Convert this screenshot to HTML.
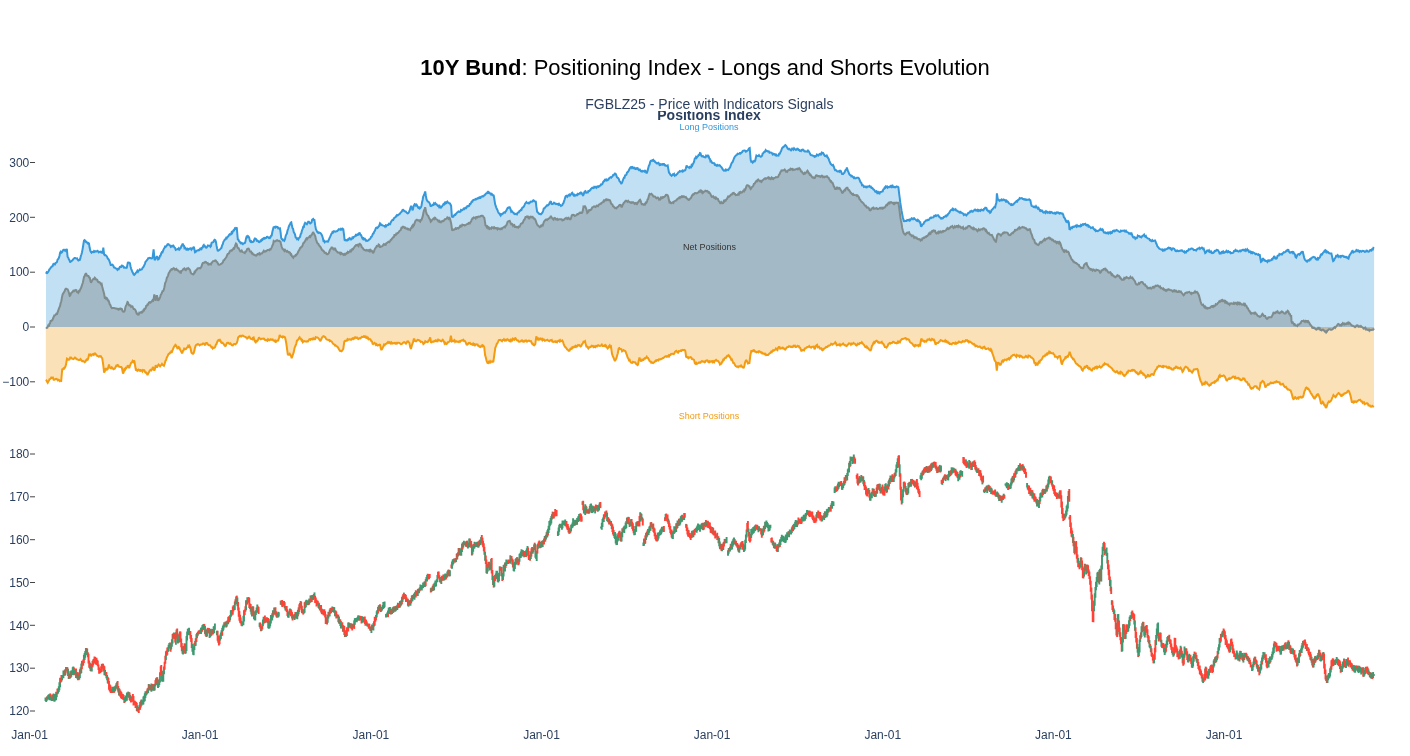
<!DOCTYPE html>
<html><head><meta charset="utf-8"><title>10Y Bund Positioning Index</title>
<style>
html,body{margin:0;padding:0;background:#fff}
body{width:1410px;height:756px;overflow:hidden;font-family:"Liberation Sans",Arial,sans-serif}
svg{display:block}
text{font-family:"Liberation Sans",Arial,sans-serif}
</style></head><body>
<svg width="1410" height="756" viewBox="0 0 1410 756">
<rect width="1410" height="756" fill="#fff"/>
<g id="areas">
<path d="M46.0,273.7L46.7,272.3L47.4,272.8L48.1,271.9L48.8,270.7L49.4,269.3L50.1,268.8L50.7,267.8L51.3,266.9L51.9,266.5L52.6,266.2L53.2,264.3L53.8,264.4L54.4,263.1L55.1,264.1L55.7,262.9L56.3,262.6L57.0,262.0L57.6,259.5L58.2,259.1L58.8,258.1L59.5,255.7L60.1,252.6L60.7,251.7L61.4,252.6L62.0,252.2L62.6,251.1L63.2,250.0L63.9,249.7L64.5,250.4L65.1,250.1L65.7,250.7L66.3,249.5L66.9,249.6L67.6,256.9L68.3,257.7L68.9,259.5L69.5,260.2L70.2,262.4L70.8,261.3L71.4,261.1L72.0,260.7L72.7,260.1L73.3,259.1L73.9,258.6L74.6,258.1L75.2,258.1L75.8,258.4L76.4,258.5L77.1,258.4L77.7,259.6L78.4,260.4L79.0,260.1L79.7,260.1L80.3,258.4L80.9,255.7L81.5,254.3L82.0,252.3L82.6,249.1L83.2,245.5L84.0,240.5L84.6,240.1L85.2,240.8L85.9,241.9L86.5,241.8L87.1,242.6L87.7,243.4L88.4,243.0L89.0,243.5L89.6,247.6L90.3,250.6L90.9,251.9L91.5,252.6L92.1,251.8L92.8,252.0L93.4,252.1L94.0,251.1L94.7,251.8L95.3,251.3L95.9,251.6L96.5,251.6L97.3,250.8L98.0,251.3L98.8,252.4L99.6,251.8L100.3,252.1L100.9,251.6L101.6,252.4L102.2,252.8L102.8,252.6L103.3,247.6L104.1,254.3L104.7,255.1L105.3,255.0L106.0,255.5L106.6,256.1L107.2,257.1L107.8,258.6L108.5,259.2L109.1,260.1L109.7,261.8L110.3,263.8L110.9,265.6L111.5,264.6L112.2,264.5L112.9,265.1L113.5,266.3L114.1,267.5L114.8,267.6L115.4,268.2L116.1,268.5L116.7,268.6L117.4,269.7L118.0,269.0L118.7,269.2L119.3,268.1L119.9,266.9L120.5,266.7L121.2,266.9L121.8,265.5L122.4,265.6L123.1,266.2L123.7,267.5L124.3,267.3L124.9,267.7L125.5,267.8L126.1,267.6L126.7,268.2L127.3,265.1L128.0,261.9L128.6,263.3L129.3,262.2L130.0,263.6L130.5,266.3L131.1,268.6L131.7,270.2L132.4,272.1L133.0,273.0L133.6,274.3L134.2,274.9L134.9,274.2L135.5,273.5L136.1,272.5L136.7,271.9L137.4,270.7L138.0,271.7L138.6,270.7L139.3,270.2L139.9,269.4L140.5,269.8L141.1,269.6L141.8,269.4L142.4,268.3L142.9,267.5L143.5,266.9L144.2,265.3L144.9,263.8L145.5,261.9L146.2,261.2L146.9,260.1L147.6,259.4L148.2,258.2L148.8,258.2L149.4,257.8L150.1,258.1L150.7,258.1L151.3,258.5L152.0,258.3L152.6,257.6L153.6,249.3L154.6,260.1L155.3,259.3L156.1,258.0L156.9,256.1L157.5,257.3L158.1,259.4L158.7,259.0L159.4,257.8L160.0,255.8L160.6,255.6L161.2,253.5L161.9,252.2L162.5,252.3L163.1,250.6L163.8,248.9L164.4,248.1L165.0,246.7L165.6,247.0L166.3,245.9L166.9,245.5L167.5,244.3L168.1,244.1L168.7,244.3L169.3,245.2L170.0,245.4L170.7,246.8L171.3,246.1L171.9,246.6L172.6,245.8L173.2,245.5L173.8,246.3L174.4,247.6L175.1,247.9L175.7,249.8L176.3,249.5L177.0,249.4L177.6,248.9L178.2,249.3L178.8,248.3L179.5,249.4L180.1,248.4L180.7,248.1L181.4,246.0L182.1,245.2L182.7,243.5L183.3,245.6L183.9,245.7L184.5,248.1L185.1,247.6L185.8,248.3L186.4,249.8L187.0,249.8L187.6,248.9L188.3,249.6L188.9,249.2L189.5,248.6L190.1,248.7L190.8,248.2L191.4,249.6L192.0,248.8L192.6,248.7L193.2,247.5L193.8,246.8L194.4,249.1L195.0,252.3L195.7,252.0L196.4,251.0L197.1,250.6L197.7,250.6L198.3,250.0L198.9,250.4L199.6,250.1L200.2,248.6L200.8,248.4L201.5,249.0L202.1,247.6L202.7,247.4L203.3,245.5L203.8,245.0L204.5,246.5L205.2,246.4L205.9,247.6L206.5,247.7L207.2,246.7L207.9,245.5L208.5,245.7L209.1,245.7L209.7,245.6L210.4,246.8L211.0,246.1L211.5,243.1L212.1,242.5L212.8,242.4L213.4,242.0L214.0,240.6L214.6,239.8L215.3,240.2L215.9,241.8L216.5,245.4L217.1,248.5L217.7,250.6L218.3,250.7L219.0,250.1L219.7,249.8L220.3,249.0L220.8,248.4L221.4,248.1L222.1,245.4L222.8,244.2L223.4,241.8L224.1,240.8L224.8,239.5L225.5,239.3L226.1,237.9L226.7,238.3L227.3,237.0L228.0,236.7L228.6,235.9L229.1,234.8L229.7,234.2L230.4,234.6L231.0,234.3L231.6,232.4L232.2,233.0L232.9,231.3L233.5,230.4L234.1,230.5L234.8,228.5L235.4,228.8L236.1,227.8L236.8,228.0L237.8,239.3L238.4,239.6L239.1,241.3L239.8,241.8L240.4,242.8L241.0,243.4L241.7,242.8L242.3,243.5L242.9,244.1L243.5,243.6L244.2,243.1L244.8,243.0L245.4,241.8L246.0,238.4L246.6,236.7L247.2,237.2L247.9,236.0L248.6,236.7L249.2,237.8L249.9,240.8L250.6,241.8L251.2,241.3L251.8,242.2L252.5,242.0L253.1,241.8L253.7,241.3L254.3,239.4L254.9,238.5L255.5,238.7L256.1,239.1L256.7,240.7L257.4,240.5L258.0,241.0L258.6,242.0L259.3,242.2L259.9,241.8L260.5,240.7L261.1,241.0L261.8,239.7L262.4,240.0L263.0,238.7L263.7,238.2L264.3,239.2L264.9,238.0L265.5,238.2L266.2,238.0L266.8,236.8L267.4,236.7L268.0,237.3L268.7,237.9L269.3,237.5L269.9,238.0L270.5,237.3L271.1,235.8L271.7,235.5L272.4,231.8L273.0,229.2L273.7,226.7L274.3,227.4L275.0,226.8L275.6,227.5L276.2,226.7L276.8,226.9L277.5,226.9L278.1,228.2L278.7,228.0L279.4,228.8L280.0,228.5L280.6,232.4L281.2,238.0L281.9,239.3L282.6,239.3L283.3,241.0L283.8,239.7L284.4,240.5L285.0,239.3L285.6,236.2L286.3,234.4L286.9,233.5L287.5,230.5L288.2,228.8L288.8,226.6L289.4,225.2L290.0,224.2L290.7,222.8L291.3,222.4L291.9,225.6L292.5,228.0L293.1,228.9L293.7,232.0L294.3,233.0L295.0,234.4L295.6,237.2L296.3,238.0L297.0,239.2L297.7,238.5L298.3,239.3L298.9,238.0L299.5,237.5L300.1,236.7L300.7,234.1L301.3,233.3L302.0,230.3L302.6,229.2L303.2,226.8L303.9,226.9L304.5,224.1L305.1,222.9L305.7,223.5L306.3,223.7L306.9,224.2L307.5,223.0L308.2,221.7L308.9,221.7L309.6,222.8L310.2,223.4L310.9,222.9L311.5,222.5L312.1,219.7L312.7,219.2L313.2,218.9L313.8,219.9L314.4,219.9L315.2,225.4L315.9,229.2L316.5,230.4L317.1,231.7L317.7,232.5L318.3,232.9L318.9,232.3L319.6,232.9L320.2,233.0L320.8,233.5L321.4,234.2L322.0,235.5L322.7,237.5L323.5,241.0L324.1,240.8L324.7,242.1L325.3,241.3L326.0,241.5L326.6,241.5L327.2,241.3L327.9,241.6L328.5,240.5L329.1,239.1L329.7,237.7L330.2,236.7L330.9,235.1L331.5,233.7L332.1,233.2L332.8,231.2L333.4,232.1L334.0,231.1L334.6,231.3L335.3,231.7L335.9,231.5L336.5,231.2L337.2,231.0L337.8,230.5L338.4,229.8L339.0,229.2L339.7,229.4L340.3,229.7L341.0,228.8L341.8,229.6L342.6,228.6L343.3,229.2L343.9,233.8L344.6,240.0L345.2,240.4L345.9,240.0L346.6,240.5L347.2,240.5L347.8,239.5L348.5,239.7L349.1,238.5L349.7,238.1L350.3,238.9L351.0,239.6L351.6,239.3L352.2,237.9L352.9,238.8L353.5,236.8L354.1,236.7L354.8,236.4L355.5,235.9L356.1,234.2L356.7,235.2L357.3,234.7L357.9,235.5L358.5,233.8L359.1,233.5L359.6,232.5L360.3,234.7L361.0,235.0L361.7,236.7L362.3,238.1L362.9,237.4L363.5,239.4L364.2,239.3L364.8,238.7L365.4,239.6L366.1,240.9L366.7,240.5L367.3,240.8L367.9,240.6L368.6,240.2L369.2,239.3L369.8,239.1L370.5,238.3L371.1,236.8L371.7,236.7L372.3,235.4L373.0,233.6L373.6,233.4L374.2,231.7L374.8,231.0L375.5,229.1L376.1,227.7L376.7,227.5L377.4,227.9L378.0,227.3L378.6,226.4L379.2,225.9L380.0,223.4L380.6,224.0L381.3,225.1L381.9,224.9L382.5,225.4L383.1,225.6L383.8,225.8L384.4,225.9L385.0,226.7L385.7,225.4L386.3,226.1L386.9,225.2L387.5,224.9L388.2,224.9L388.8,223.8L389.4,224.1L390.1,224.2L390.7,222.5L391.3,221.4L391.9,220.5L392.6,219.9L393.2,219.9L393.8,218.5L394.4,217.8L395.1,217.4L395.7,217.1L396.3,215.9L397.0,215.0L397.6,215.4L398.2,214.9L398.8,214.4L399.5,214.1L400.1,213.4L400.7,212.4L401.4,212.0L402.0,211.2L402.6,209.9L403.2,209.8L403.9,210.7L404.5,211.1L405.1,211.6L405.8,211.6L406.4,212.3L407.0,213.0L407.6,213.4L408.3,213.1L409.0,212.1L409.7,210.4L410.4,207.7L411.2,205.8L411.9,208.4L412.7,210.4L413.3,207.5L414.0,205.4L414.7,204.1L415.3,204.5L415.9,205.6L416.6,204.8L417.2,205.8L417.8,206.9L418.4,207.8L419.1,207.4L419.7,208.4L420.3,207.9L420.9,207.3L421.5,205.8L422.0,202.5L422.6,200.0L423.2,196.5L423.9,195.3L424.6,193.4L425.2,191.5L425.9,195.9L426.5,199.1L427.1,200.6L427.7,201.5L428.4,201.6L429.0,202.3L429.6,203.2L430.2,204.7L430.8,206.6L431.4,205.5L432.1,205.5L432.8,204.8L433.4,204.9L434.0,203.3L434.7,204.0L435.3,203.3L435.9,204.3L436.5,204.3L437.2,205.2L437.8,205.8L438.4,205.6L439.1,207.0L439.7,206.1L440.3,207.3L440.9,207.7L441.6,206.9L442.2,206.1L442.8,205.3L443.5,204.1L444.2,204.4L444.8,202.8L445.5,203.3L446.1,201.5L446.7,202.4L447.3,201.6L448.0,202.6L448.6,202.7L449.2,203.2L449.9,203.3L450.5,204.5L451.1,205.8L451.9,216.6L452.6,217.0L453.4,216.7L454.1,215.4L454.8,214.7L455.4,214.9L456.0,213.8L456.6,213.4L457.3,212.3L457.9,212.2L458.5,211.4L459.2,211.6L459.8,212.0L460.4,211.8L461.0,210.0L461.7,210.4L462.3,210.2L462.9,209.6L463.6,208.7L464.2,209.1L464.8,208.3L465.4,207.8L466.1,208.2L466.7,207.3L467.3,206.1L468.0,206.0L468.6,206.1L469.2,205.8L469.8,203.9L470.5,203.9L471.1,202.8L471.7,201.6L472.4,201.7L473.0,200.2L473.6,199.9L474.2,199.8L474.9,199.7L475.5,199.0L476.1,199.4L476.7,199.1L477.4,198.2L478.0,198.5L478.6,198.3L479.3,197.3L479.9,197.7L480.5,197.8L481.1,196.8L481.8,196.5L482.4,196.2L483.0,196.6L483.7,196.1L484.3,195.3L484.9,194.9L485.5,194.1L486.2,193.4L486.8,193.3L487.4,192.4L488.1,193.6L488.7,192.2L489.3,192.8L489.9,193.5L490.6,193.5L491.2,194.6L491.8,194.0L492.4,194.7L493.0,195.4L493.6,194.8L494.3,198.8L495.1,204.1L495.7,205.8L496.3,207.6L496.9,209.1L497.4,210.0L498.0,211.6L498.6,212.9L499.3,213.5L500.0,214.6L500.6,215.4L501.2,214.0L501.9,214.3L502.5,213.8L503.1,213.4L503.8,212.6L504.4,212.3L505.0,212.6L505.6,211.6L506.3,210.7L507.0,209.1L507.7,207.8L508.3,207.9L509.0,207.3L509.7,207.3L510.4,208.9L511.2,211.6L511.8,211.0L512.4,211.8L513.1,212.7L513.7,212.9L514.3,213.9L514.9,214.1L515.6,213.8L516.2,214.1L516.9,214.4L517.5,212.9L518.2,212.4L518.8,212.3L519.5,211.0L520.1,210.9L520.7,209.9L521.4,210.1L522.0,208.3L522.6,207.4L523.2,207.3L523.9,206.4L524.5,205.1L525.1,203.7L525.8,202.8L526.4,202.1L527.0,202.9L527.6,203.1L528.3,203.3L528.9,202.7L529.5,203.1L530.1,202.2L530.8,201.6L531.4,201.7L532.0,201.7L532.7,201.1L533.3,200.3L533.9,200.6L534.5,201.4L535.2,201.5L535.8,201.6L536.4,206.9L537.1,211.6L537.7,212.5L538.3,212.7L538.9,213.7L539.6,214.1L540.2,214.1L540.8,214.3L541.5,213.7L542.1,212.9L542.7,212.0L543.3,210.3L543.8,208.4L544.5,208.3L545.2,207.4L545.9,206.6L546.5,205.9L547.1,205.3L547.7,205.6L548.4,204.8L549.0,204.4L549.7,202.7L550.4,201.6L551.0,201.8L551.5,203.8L552.1,204.1L552.8,203.9L553.4,203.6L554.0,202.7L554.6,203.3L555.3,203.5L555.9,204.1L556.5,203.8L557.2,204.1L557.8,204.0L558.4,204.7L559.0,203.8L559.7,204.8L560.3,205.0L560.9,205.9L561.6,205.6L562.2,205.3L562.8,203.9L563.4,203.2L563.9,201.6L564.7,199.2L565.5,196.5L566.1,195.8L566.7,195.6L567.3,196.7L568.0,195.8L568.6,195.1L569.2,194.5L569.9,195.6L570.5,194.8L571.1,194.2L571.7,193.2L572.2,192.8L572.8,193.8L573.4,195.2L574.0,195.8L574.6,194.9L575.3,195.6L575.9,195.4L576.5,194.8L577.1,195.2L577.8,194.0L578.4,194.4L579.0,194.0L579.7,193.2L580.3,193.5L580.9,192.5L581.5,192.8L582.3,194.5L583.0,195.3L583.6,194.7L584.2,192.5L584.8,191.5L585.4,191.2L586.1,192.7L586.7,192.5L587.3,192.3L587.9,192.4L588.6,190.4L589.2,191.5L589.8,190.3L590.5,189.9L591.1,188.7L591.7,188.3L592.3,187.7L593.0,188.1L593.6,188.0L594.2,186.8L594.9,187.2L595.5,187.3L596.1,186.3L596.7,187.5L597.4,186.5L598.0,186.2L598.6,186.9L599.3,186.3L599.9,185.7L600.5,185.5L601.1,184.4L601.8,184.5L602.4,184.0L603.0,182.3L603.7,181.2L604.3,181.2L604.9,179.7L605.5,179.6L606.2,180.4L606.8,179.6L607.4,180.2L608.0,179.9L608.6,179.3L609.2,178.2L609.8,177.7L610.5,177.2L611.2,177.7L611.8,176.9L612.4,176.4L613.1,175.1L613.7,175.2L614.4,174.2L615.0,173.5L615.7,173.9L616.3,175.4L616.9,177.1L617.5,177.7L618.1,178.1L618.7,178.7L619.4,180.9L620.0,181.5L620.6,182.6L621.2,183.5L621.7,183.2L622.5,181.3L623.3,179.0L623.9,177.7L624.5,177.7L625.1,175.4L625.8,175.2L626.4,174.6L627.0,172.6L627.6,172.2L628.3,171.4L628.9,170.3L629.5,169.0L630.0,168.1L630.7,167.3L631.3,167.2L631.9,168.0L632.5,167.1L633.2,167.5L633.8,168.2L634.4,167.9L635.1,168.9L635.7,169.1L636.3,168.2L636.9,168.5L637.6,168.1L638.2,169.4L638.8,170.0L639.5,168.8L640.1,170.2L640.7,171.0L641.3,171.4L642.0,170.8L642.6,171.4L643.2,171.0L643.9,171.2L644.5,171.6L645.1,170.7L645.7,171.1L646.3,172.7L646.9,172.7L647.6,170.6L648.4,167.6L649.0,165.2L649.6,164.7L650.1,162.1L650.8,160.7L651.4,160.5L652.0,160.9L652.7,160.1L653.3,159.8L653.9,160.9L654.5,160.9L655.2,162.1L655.8,162.3L656.4,163.2L657.1,163.6L657.7,163.1L658.3,162.8L658.9,163.3L659.6,165.2L660.2,165.1L660.8,164.2L661.4,164.5L662.1,164.1L662.7,164.6L663.3,164.0L664.0,164.0L664.6,165.3L665.2,165.1L665.8,165.7L666.5,165.7L667.1,166.1L667.7,165.6L668.4,169.4L669.0,172.7L669.7,173.3L670.3,174.6L671.0,175.2L671.6,175.9L672.3,175.2L672.9,174.3L673.5,174.7L674.1,174.0L674.8,175.7L675.4,175.2L676.0,175.2L676.7,174.2L677.3,173.9L677.9,173.0L678.5,172.2L679.2,172.0L679.8,171.0L680.4,171.3L681.0,171.4L681.7,171.1L682.3,170.5L682.9,171.5L683.6,170.7L684.1,170.4L684.7,170.6L685.3,170.2L685.9,168.3L686.6,165.6L687.2,166.6L687.9,167.0L688.6,167.1L689.2,167.8L689.8,167.0L690.3,167.6L691.0,167.6L691.6,165.1L692.2,165.6L692.9,163.9L693.5,163.1L694.1,161.6L694.7,158.7L695.4,158.1L696.0,156.9L696.6,157.8L697.3,156.7L697.9,156.3L698.6,155.0L699.2,155.0L699.9,153.1L700.5,153.3L701.1,155.3L701.7,156.3L702.3,156.4L702.9,156.0L703.5,156.7L704.2,157.1L704.8,157.3L705.4,157.4L706.1,155.7L706.7,156.3L707.4,156.4L708.0,155.6L708.7,156.3L709.3,158.6L709.9,158.9L710.5,161.4L711.1,161.0L711.7,162.0L712.3,163.1L713.0,163.1L713.6,163.2L714.2,163.2L714.8,164.8L715.5,164.6L716.1,165.4L716.7,165.8L717.4,165.0L718.0,165.6L718.7,165.5L719.3,165.2L720.0,165.6L720.6,166.6L721.3,167.0L721.9,167.8L722.5,168.9L723.1,169.8L723.8,170.6L724.4,170.4L725.0,170.7L725.7,169.7L726.3,170.4L726.9,169.8L727.5,169.7L728.2,170.0L728.9,169.0L729.5,168.1L730.1,167.3L730.7,165.7L731.3,163.9L731.9,162.7L732.6,162.1L733.2,160.7L733.8,158.8L734.4,157.5L735.1,156.3L735.7,155.8L736.3,155.1L737.0,154.8L737.6,153.7L738.2,153.9L738.8,153.8L739.5,153.6L740.1,152.4L740.7,153.4L741.4,152.6L742.0,152.3L742.6,151.2L743.2,150.7L743.9,150.6L744.5,150.5L745.1,150.6L745.8,151.6L746.4,151.3L747.0,150.9L747.6,150.5L748.1,150.1L748.9,148.4L749.7,148.0L750.7,160.1L751.3,161.7L752.0,161.5L752.7,162.6L753.3,161.9L754.0,161.0L754.7,161.4L755.3,160.3L755.9,157.5L756.4,155.6L757.1,156.2L757.7,156.1L758.3,156.0L759.0,155.1L759.6,156.0L760.2,156.5L760.8,156.8L761.5,156.3L762.1,155.8L762.7,153.5L763.3,153.2L764.0,152.1L764.6,151.5L765.1,151.6L765.7,150.1L766.4,150.9L767.0,151.0L767.6,151.4L768.2,151.3L768.9,151.4L769.5,152.7L770.1,152.5L770.8,152.6L771.4,152.7L772.0,153.1L772.6,154.4L773.3,153.8L773.9,154.3L774.6,154.1L775.3,155.1L775.9,154.6L776.5,155.7L777.2,155.6L777.8,155.6L778.5,155.7L779.1,153.8L779.8,153.8L780.4,152.2L781.0,151.4L781.6,149.5L782.2,147.9L782.8,147.2L783.5,147.2L784.1,146.3L784.7,145.6L785.3,145.1L785.8,145.5L786.5,146.2L787.2,147.9L787.8,148.8L788.5,149.2L789.1,148.7L789.7,149.0L790.4,150.1L791.0,150.4L791.6,149.7L792.2,148.5L792.9,148.8L793.5,149.6L794.1,148.3L794.8,149.1L795.4,149.5L796.0,150.0L796.6,149.6L797.3,148.6L797.9,148.8L798.5,149.9L799.2,149.9L799.8,150.8L800.4,150.6L801.0,151.0L801.7,149.9L802.3,150.1L802.9,149.5L803.6,150.1L804.2,151.2L804.8,151.4L805.4,151.3L806.1,151.5L806.7,151.5L807.3,151.6L808.0,150.6L808.6,151.2L809.3,152.2L810.0,153.8L810.6,154.7L811.2,155.2L811.8,155.2L812.5,155.6L813.1,155.7L813.7,155.8L814.4,156.8L815.0,156.3L815.6,156.6L816.2,155.9L816.9,154.6L817.5,155.1L818.1,155.6L818.8,154.8L819.4,154.1L820.0,154.6L820.6,153.8L821.3,154.2L821.9,152.6L822.5,153.1L823.1,153.1L823.7,154.1L824.3,155.1L824.9,155.9L825.5,155.8L826.2,156.3L826.8,155.6L827.4,156.7L828.0,157.9L828.6,158.8L829.2,160.6L829.9,162.2L830.6,163.9L831.2,164.3L831.8,165.1L832.5,165.6L833.1,165.1L833.8,166.6L834.4,168.7L835.1,170.2L835.7,170.1L836.3,170.4L837.0,171.1L837.6,171.4L838.2,171.4L838.9,171.1L839.5,171.7L840.1,170.7L840.7,170.9L841.4,172.5L842.0,174.0L842.6,173.9L843.2,173.9L843.8,173.2L844.4,172.7L845.0,171.2L845.6,170.0L846.3,169.7L846.9,167.6L847.5,170.0L848.1,171.3L848.7,172.7L849.3,174.2L850.0,175.1L850.7,175.2L851.3,176.3L851.9,176.0L852.6,176.6L853.2,177.2L853.8,178.0L854.4,177.5L855.1,178.4L855.7,178.2L856.3,178.0L857.0,177.7L857.6,177.7L858.2,177.7L858.9,178.3L859.6,179.9L860.2,181.5L860.8,182.6L861.4,183.1L862.0,185.2L862.6,185.0L863.2,185.4L863.9,186.8L864.5,186.5L865.1,186.8L865.8,186.5L866.4,188.0L867.0,187.2L867.6,186.5L868.3,186.6L868.9,186.7L869.5,186.0L870.1,186.8L870.8,186.7L871.4,187.8L872.0,187.7L872.7,188.3L873.3,189.4L873.9,189.6L874.5,190.3L875.2,191.7L875.8,191.9L876.4,191.4L877.1,192.8L877.7,192.2L878.3,193.9L878.9,192.7L879.6,193.3L880.2,192.0L880.8,192.0L881.5,191.9L882.1,191.5L882.7,191.4L883.3,189.4L884.0,189.1L884.6,187.7L885.2,188.0L885.9,186.4L886.5,187.0L887.1,186.5L887.7,187.6L888.4,187.0L889.0,187.1L889.6,187.2L890.2,186.3L890.8,186.7L891.4,185.2L892.1,186.7L892.7,185.9L893.4,187.2L894.0,187.3L894.6,187.0L895.3,187.4L895.9,187.0L896.5,186.4L897.2,186.7L897.8,186.8L898.4,187.2L899.0,192.5L899.7,197.8L900.3,202.7L900.9,206.6L901.6,211.0L902.2,214.1L902.8,217.2L903.4,219.5L903.9,221.7L904.6,220.7L905.3,221.0L906.0,220.9L906.6,221.0L907.2,220.0L907.8,220.2L908.5,219.9L909.1,220.5L909.7,218.8L910.4,220.0L911.0,219.2L911.6,218.3L912.2,218.6L912.9,219.3L913.5,218.4L914.1,218.2L914.8,219.2L915.4,219.4L916.0,219.9L916.6,220.7L917.3,221.0L917.9,219.9L918.5,220.4L919.1,221.1L919.7,222.5L920.3,222.4L921.0,226.7L921.7,225.9L922.4,224.5L923.0,224.2L923.6,223.8L924.2,222.2L924.8,221.7L925.4,221.2L926.1,219.9L926.7,221.2L927.3,219.9L927.9,219.8L928.6,219.9L929.2,219.6L929.8,218.4L930.5,217.7L931.1,218.0L931.7,217.5L932.3,217.4L933.0,217.5L933.6,217.3L934.2,215.8L934.9,215.9L935.5,215.4L936.1,216.0L936.7,215.4L937.4,215.4L938.0,215.2L938.6,215.8L939.3,217.0L939.9,217.4L940.5,217.8L941.1,218.7L941.8,218.2L942.4,218.4L943.0,218.2L943.7,216.9L944.3,216.9L944.9,216.6L945.5,215.9L946.2,216.4L946.8,215.3L947.4,215.4L948.0,214.0L948.6,213.5L949.2,212.9L949.8,211.8L950.5,210.6L951.2,209.9L951.8,209.9L952.4,208.9L953.1,210.0L953.7,209.1L954.3,209.8L955.0,209.8L955.6,209.3L956.2,210.4L956.8,210.4L957.5,211.3L958.1,211.6L958.7,211.6L959.4,212.4L960.0,212.7L960.6,211.9L961.2,212.4L961.9,213.0L962.5,213.3L963.1,213.6L963.8,214.9L964.4,214.4L965.0,214.7L965.6,214.5L966.3,215.4L966.9,214.6L967.6,214.1L968.3,212.9L968.9,212.7L969.5,212.6L970.2,211.4L970.8,211.6L971.4,210.9L972.0,211.4L972.7,211.7L973.3,210.9L973.9,210.6L974.6,209.7L975.2,209.6L975.8,210.4L976.4,210.1L977.1,210.8L977.7,210.0L978.3,210.9L979.0,210.1L979.6,210.7L980.2,211.0L980.8,209.9L981.5,209.7L982.1,210.3L982.7,210.3L983.4,210.4L984.0,208.9L984.6,208.8L985.2,207.8L985.9,207.8L986.5,208.2L987.0,210.0L987.6,210.4L988.3,211.3L988.9,210.8L989.5,211.5L990.1,212.9L990.8,212.3L991.4,210.3L992.0,209.7L992.7,209.1L993.3,208.3L993.9,207.4L994.5,206.9L995.2,207.3L995.8,204.4L996.4,202.8L996.9,193.3L997.9,199.8L998.7,199.8L999.4,200.9L1000.2,200.3L1000.8,200.4L1001.4,199.6L1002.1,200.3L1002.7,199.8L1003.3,199.5L1004.0,200.1L1004.6,199.9L1005.2,200.3L1005.8,201.4L1006.5,200.7L1007.1,201.8L1007.7,201.6L1008.4,202.4L1009.0,203.4L1009.6,203.6L1010.2,204.1L1010.9,204.9L1011.5,204.3L1012.1,205.0L1012.8,204.8L1013.4,204.4L1014.0,203.6L1014.6,203.1L1015.3,202.3L1015.9,201.9L1016.5,201.1L1017.2,201.5L1017.8,200.3L1018.4,200.0L1019.0,199.4L1019.7,198.0L1020.3,198.3L1020.9,198.5L1021.6,198.1L1022.2,198.4L1022.8,199.1L1023.4,199.1L1024.1,199.5L1024.7,199.2L1025.3,199.8L1025.9,199.4L1026.6,199.9L1027.2,199.8L1027.8,199.8L1028.5,199.8L1029.1,199.3L1029.7,200.0L1030.3,200.3L1031.0,203.4L1031.6,205.8L1032.2,206.1L1032.9,206.3L1033.5,207.0L1034.1,206.6L1034.7,207.2L1035.4,207.3L1036.0,206.3L1036.6,207.3L1037.3,207.4L1037.9,208.6L1038.5,208.0L1039.1,209.1L1039.8,210.3L1040.4,209.3L1041.0,211.1L1041.7,210.9L1042.3,210.7L1042.9,212.2L1043.5,212.6L1044.2,212.4L1044.8,211.9L1045.4,212.7L1046.1,211.2L1046.7,211.6L1047.3,212.6L1047.9,212.0L1048.6,212.5L1049.2,212.9L1049.8,212.0L1050.5,212.7L1051.1,211.9L1051.7,212.1L1052.3,212.7L1053.0,213.3L1053.6,213.3L1054.2,213.4L1054.8,212.2L1055.5,213.7L1056.1,213.4L1056.7,212.4L1057.4,212.7L1058.0,212.4L1058.7,212.8L1059.3,213.5L1060.0,212.9L1060.6,212.9L1061.3,213.6L1061.9,213.4L1062.5,213.4L1063.2,214.7L1063.9,217.2L1064.5,217.9L1065.1,219.0L1065.7,220.6L1066.3,221.7L1066.9,221.1L1067.5,222.0L1068.2,221.4L1068.8,222.4L1069.5,229.2L1070.2,229.3L1070.8,227.7L1071.4,227.4L1072.1,228.0L1072.7,226.9L1073.3,226.7L1073.9,227.0L1074.6,226.7L1075.2,226.1L1075.8,225.7L1076.5,226.6L1077.1,225.4L1077.7,226.3L1078.3,226.0L1079.0,226.4L1079.6,225.9L1080.2,226.3L1080.9,225.0L1081.5,225.7L1082.1,224.9L1082.7,224.3L1083.4,224.7L1084.0,224.1L1084.6,224.2L1085.3,223.8L1085.9,225.1L1086.5,225.5L1087.1,224.9L1087.8,225.0L1088.4,226.5L1089.0,226.0L1089.7,226.7L1090.3,227.2L1090.9,228.0L1091.5,227.8L1092.2,227.5L1092.8,227.3L1093.4,228.6L1094.1,229.1L1094.7,230.0L1095.3,229.8L1095.9,231.0L1096.6,230.6L1097.2,231.0L1097.8,231.1L1098.4,230.7L1099.1,230.2L1099.7,230.0L1100.3,229.0L1101.0,229.9L1101.6,230.1L1102.2,229.2L1102.8,229.7L1103.4,231.6L1104.0,232.5L1104.6,232.6L1105.2,232.4L1105.9,233.2L1106.5,233.0L1107.1,233.7L1107.7,231.9L1108.4,233.3L1109.0,232.5L1109.6,232.4L1110.3,233.3L1110.9,232.3L1111.5,233.0L1112.1,232.7L1112.8,231.0L1113.4,230.8L1114.0,230.5L1114.7,231.2L1115.3,230.5L1115.9,230.6L1116.5,230.0L1117.2,230.3L1117.8,230.8L1118.4,231.3L1119.1,231.7L1119.7,232.0L1120.3,231.7L1120.9,230.6L1121.6,231.0L1122.2,230.7L1122.8,230.8L1123.5,230.7L1124.1,230.5L1124.7,231.5L1125.3,231.7L1126.0,230.8L1126.6,231.7L1127.2,232.1L1127.8,232.3L1128.5,232.8L1129.1,234.2L1129.7,233.3L1130.4,233.3L1131.0,234.1L1131.6,233.5L1132.2,235.1L1132.8,236.7L1133.4,237.5L1134.0,237.2L1134.6,237.1L1135.3,238.7L1135.9,238.0L1136.5,238.1L1137.1,237.8L1137.8,235.6L1138.4,236.0L1139.0,236.0L1139.7,236.6L1140.3,237.0L1140.9,236.7L1141.5,237.2L1142.2,236.2L1142.8,235.6L1143.4,235.5L1144.1,234.7L1144.7,236.3L1145.3,236.7L1145.9,236.0L1146.6,237.6L1147.3,238.0L1148.0,238.5L1148.6,238.6L1149.2,238.8L1149.8,240.1L1150.5,240.0L1151.1,241.0L1151.7,241.3L1152.4,240.2L1153.0,241.0L1153.6,241.0L1154.3,240.7L1155.0,240.5L1155.6,241.6L1156.2,243.6L1156.7,244.3L1157.3,246.2L1157.9,246.9L1158.5,247.6L1159.1,248.4L1159.8,248.8L1160.4,249.1L1161.0,249.3L1161.6,249.7L1162.3,249.5L1162.9,250.8L1163.5,250.6L1164.2,249.6L1164.8,250.2L1165.4,249.4L1166.0,249.3L1166.7,249.0L1167.3,248.7L1167.9,248.0L1168.6,247.6L1169.2,248.9L1169.8,248.0L1170.4,248.0L1171.1,249.3L1171.7,249.9L1172.3,248.6L1173.0,248.3L1173.6,248.6L1174.2,248.9L1174.8,249.7L1175.5,250.9L1176.1,250.6L1176.7,251.1L1177.4,250.5L1178.0,251.0L1178.6,251.1L1179.2,250.9L1179.9,250.8L1180.5,250.5L1181.1,250.6L1181.8,250.3L1182.4,251.0L1183.0,251.3L1183.6,251.8L1184.3,251.4L1184.9,252.6L1185.5,252.0L1186.1,252.3L1186.8,250.9L1187.4,250.9L1188.0,250.7L1188.7,249.3L1189.3,249.6L1189.9,249.2L1190.5,249.2L1191.2,248.6L1191.8,248.6L1192.4,248.7L1193.1,249.2L1193.7,250.1L1194.3,249.9L1194.9,249.9L1195.6,250.4L1196.2,250.6L1196.8,249.4L1197.5,248.9L1198.1,248.6L1198.7,248.6L1199.3,247.9L1200.0,248.9L1200.6,248.2L1201.2,248.1L1201.9,247.6L1202.5,248.2L1203.1,249.1L1203.7,248.6L1204.5,251.0L1205.2,253.1L1205.9,252.6L1206.5,251.6L1207.1,250.6L1207.8,250.6L1208.4,251.1L1209.0,250.4L1209.6,252.0L1210.3,251.8L1210.9,251.3L1211.5,252.9L1212.2,252.6L1212.8,253.1L1213.4,252.9L1214.0,252.2L1214.7,250.9L1215.3,251.1L1215.9,250.9L1216.6,249.8L1217.2,249.9L1217.8,250.1L1218.4,251.0L1219.0,252.0L1219.6,253.6L1220.2,253.4L1220.8,253.6L1221.5,252.0L1222.1,251.8L1222.7,252.6L1223.3,251.7L1224.0,252.8L1224.6,252.6L1225.2,251.9L1225.9,251.9L1226.5,250.7L1227.1,251.1L1227.7,252.0L1228.4,251.2L1229.0,251.9L1229.6,252.3L1230.3,252.1L1230.9,253.3L1231.5,253.1L1232.1,253.1L1232.8,252.8L1233.4,252.5L1234.0,251.1L1234.6,251.1L1235.3,250.2L1235.9,251.4L1236.5,250.4L1237.2,250.6L1237.8,251.3L1238.4,251.6L1239.0,251.2L1239.7,251.1L1240.3,250.1L1240.9,251.2L1241.6,250.6L1242.2,250.1L1242.8,249.7L1243.4,249.8L1244.1,250.5L1244.7,250.6L1245.3,249.6L1246.0,250.7L1246.6,250.0L1247.2,249.3L1247.8,250.5L1248.5,250.4L1249.1,252.0L1249.7,251.8L1250.4,251.5L1251.0,252.8L1251.6,252.3L1252.2,253.1L1252.9,252.3L1253.5,252.7L1254.1,252.9L1254.8,253.6L1255.4,254.2L1256.0,253.7L1256.6,254.1L1257.3,254.3L1257.9,254.7L1258.5,254.3L1259.2,255.2L1259.8,255.1L1260.4,258.8L1261.0,261.9L1261.7,261.4L1262.4,259.4L1263.0,258.1L1263.6,259.4L1264.2,260.3L1264.8,260.1L1265.4,261.0L1266.1,260.9L1266.7,261.0L1267.3,261.9L1267.9,260.8L1268.6,261.8L1269.2,260.3L1269.8,260.6L1270.5,260.6L1271.1,260.3L1271.7,259.4L1272.3,260.1L1272.9,258.3L1273.5,258.0L1274.1,256.1L1274.8,257.0L1275.4,258.5L1276.1,258.6L1276.8,258.3L1277.5,255.9L1278.1,255.6L1278.8,255.6L1279.4,254.1L1280.0,254.5L1280.6,254.3L1281.3,253.9L1281.9,254.5L1282.5,253.6L1283.1,253.1L1283.8,252.2L1284.4,252.5L1285.0,252.2L1285.7,251.8L1286.3,250.7L1286.9,250.3L1287.5,250.6L1288.2,249.3L1288.8,251.3L1289.3,252.0L1289.9,252.6L1290.6,251.6L1291.2,252.9L1291.8,251.9L1292.4,251.8L1293.0,253.0L1293.6,252.4L1294.2,253.6L1294.9,254.3L1295.5,257.0L1296.2,257.6L1296.9,256.1L1297.6,254.6L1298.2,254.3L1298.9,254.0L1299.5,254.6L1300.1,254.0L1300.7,253.1L1301.4,252.2L1302.1,252.6L1302.7,251.1L1303.5,255.1L1304.3,258.1L1304.9,259.7L1305.6,260.4L1306.3,261.1L1306.9,260.7L1307.5,261.4L1308.2,260.3L1308.8,260.1L1309.4,260.4L1310.0,259.2L1310.7,259.3L1311.3,258.1L1311.9,257.8L1312.5,257.3L1313.2,257.3L1313.8,256.9L1314.4,257.2L1315.1,257.5L1315.7,258.9L1316.3,259.4L1316.9,259.7L1317.6,258.3L1318.2,259.1L1318.8,258.1L1319.5,257.7L1320.1,256.7L1320.7,255.1L1321.3,254.3L1322.0,254.6L1322.6,253.6L1323.2,252.6L1323.9,251.8L1324.5,250.9L1325.1,251.6L1325.7,250.4L1326.4,251.1L1327.0,252.3L1327.6,251.8L1328.3,252.3L1328.9,253.1L1329.5,253.3L1330.1,253.6L1330.8,253.6L1331.4,253.6L1332.0,256.1L1332.6,258.9L1333.2,261.1L1333.8,260.7L1334.5,259.0L1335.2,258.1L1335.8,256.6L1336.4,255.1L1337.1,256.1L1337.7,255.1L1338.3,255.8L1338.9,256.9L1339.6,256.3L1340.2,256.0L1340.8,257.0L1341.4,256.1L1342.1,255.7L1342.7,255.8L1343.3,256.3L1344.0,256.9L1344.6,256.7L1345.2,257.2L1345.8,257.4L1346.5,256.3L1347.1,257.7L1347.8,258.1L1348.5,258.6L1349.1,256.4L1349.7,255.0L1350.2,254.3L1350.8,253.5L1351.4,252.7L1352.0,251.1L1352.6,250.8L1353.3,252.3L1353.9,251.7L1354.5,251.8L1355.1,251.6L1355.8,251.4L1356.4,250.1L1357.0,250.6L1357.7,250.3L1358.3,252.0L1358.9,251.1L1359.5,251.8L1360.2,250.9L1360.8,251.1L1361.4,251.7L1362.1,251.1L1362.7,250.8L1363.3,250.9L1363.9,251.2L1364.6,251.8L1365.2,251.5L1365.8,251.6L1366.5,250.5L1367.1,250.6L1367.7,251.4L1368.3,251.7L1369.0,251.5L1369.6,251.1L1370.2,249.9L1370.8,249.9L1371.5,250.5L1372.1,249.3L1372.8,249.5L1373.4,247.8L1374.1,248.1L1374.1,327.0L46.0,327.0Z" fill="rgba(52,152,219,0.3)"/>
<path d="M45.8,379.8L46.4,380.3L47.1,381.8L47.7,382.7L48.4,381.3L49.0,380.5L49.6,379.1L50.4,378.9L51.3,377.5L52.1,377.9L52.9,377.6L53.7,379.8L54.5,379.8L55.3,379.1L56.1,378.8L56.9,379.1L57.7,380.4L58.5,379.8L59.3,380.3L59.9,381.1L60.6,380.6L61.2,380.8L62.2,369.4L62.8,369.4L63.5,368.3L64.1,368.7L64.8,367.6L65.4,366.6L66.0,364.6L67.0,358.6L67.7,359.0L68.3,359.8L68.9,359.8L69.6,359.3L70.2,357.4L70.9,357.4L71.7,358.4L72.5,358.7L73.3,359.1L74.1,358.4L74.9,357.6L75.7,358.1L76.5,359.3L77.3,359.2L78.1,359.8L78.9,359.9L79.7,360.0L80.5,359.1L81.3,360.1L82.1,361.1L82.9,361.0L83.8,361.4L84.6,362.2L85.5,361.5L86.3,359.8L86.9,359.3L87.6,359.8L88.2,358.6L89.2,353.8L89.8,355.2L90.5,354.6L91.1,356.2L91.8,354.9L92.4,354.4L93.0,354.2L93.7,354.8L94.3,353.5L95.0,353.3L95.6,354.3L96.3,354.5L96.9,355.7L97.6,356.0L98.2,356.1L98.8,356.7L99.5,356.2L100.1,356.5L100.8,356.2L101.5,357.3L102.2,358.1L103.2,364.6L104.1,372.6L104.9,371.1L105.6,368.2L106.2,369.0L106.9,369.8L107.5,369.4L108.2,367.7L109.0,364.6L109.7,367.3L110.4,368.2L111.1,368.4L111.7,367.3L112.3,367.7L113.0,368.7L113.6,369.2L114.3,368.7L114.9,368.5L115.6,366.9L116.2,365.8L116.8,366.0L117.5,365.0L118.1,365.3L118.8,366.5L119.4,366.6L120.1,367.0L120.7,367.0L121.3,367.0L122.0,368.2L123.0,373.5L123.7,372.1L124.4,369.4L125.0,369.9L125.7,367.9L126.3,368.2L127.0,367.3L127.8,365.3L128.5,366.6L129.2,368.2L129.9,365.8L130.5,364.3L131.1,362.9L131.9,362.4L132.6,361.0L133.2,361.8L133.9,360.5L134.5,361.5L135.2,366.3L136.0,370.6L136.6,369.7L137.3,370.7L137.9,370.2L138.5,369.6L139.2,370.4L139.8,369.4L140.5,370.7L141.1,370.2L141.8,370.6L142.4,371.4L143.0,370.0L143.7,370.2L144.3,370.2L145.0,371.9L145.6,372.6L146.3,372.5L146.9,373.6L147.5,375.0L148.2,373.5L148.8,372.6L149.5,371.1L150.1,370.2L150.8,369.7L151.4,370.2L152.1,369.3L152.9,367.0L153.6,368.5L154.3,370.6L155.0,368.8L155.7,365.3L156.5,366.9L157.2,367.0L157.9,365.6L158.6,364.6L159.4,365.4L160.1,366.3L160.7,365.5L161.4,364.9L162.0,363.9L162.7,364.7L163.3,365.3L163.9,365.8L164.7,363.6L165.4,361.0L166.1,360.0L166.8,357.4L167.5,356.2L168.1,354.8L168.8,353.8L169.4,353.8L170.1,352.5L170.7,352.6L171.3,351.4L172.0,351.8L172.6,350.1L173.3,348.4L174.1,346.5L174.7,346.2L175.4,344.8L176.0,345.3L176.7,346.7L177.4,348.5L178.1,348.4L178.7,347.1L179.4,347.7L180.1,349.5L180.8,350.9L181.5,352.3L182.3,353.3L182.9,350.9L183.6,350.3L184.2,348.5L184.8,348.6L185.5,349.1L186.1,348.9L186.8,347.7L187.4,347.4L188.1,346.0L188.7,346.8L189.3,345.8L190.0,347.0L190.7,349.0L191.4,352.6L192.2,353.5L192.9,353.8L193.6,353.1L194.3,350.9L195.0,347.6L195.8,345.3L196.4,344.8L197.1,344.7L197.7,344.1L198.3,344.2L199.0,344.7L199.6,345.3L200.3,344.7L200.9,344.6L201.6,344.6L202.2,344.4L202.8,343.6L203.5,343.6L204.1,343.7L204.8,344.8L205.4,344.6L206.1,342.9L206.9,342.9L207.5,343.8L208.2,344.9L208.8,345.3L209.4,345.2L210.1,345.3L210.7,346.0L211.4,347.4L212.0,347.2L212.7,348.5L213.3,347.7L213.9,347.9L214.6,347.7L215.2,346.9L215.9,344.6L216.5,344.1L217.2,342.0L218.0,340.5L218.6,340.0L219.2,340.6L219.9,339.8L220.5,340.7L221.2,342.5L221.8,342.9L222.5,342.7L223.1,343.4L223.7,344.1L224.5,345.3L225.2,346.0L225.8,345.7L226.5,343.9L227.1,342.9L227.8,342.7L228.4,342.7L229.0,343.6L229.7,343.8L230.3,343.4L231.0,344.1L231.6,345.1L232.3,345.5L232.9,345.3L233.6,344.3L234.2,344.1L234.8,344.1L235.5,344.3L236.1,343.6L236.8,342.9L237.5,340.7L238.2,337.4L238.9,336.8L239.5,336.1L240.1,336.4L240.8,335.8L241.4,336.4L242.1,335.7L242.7,335.5L243.4,335.9L244.0,336.4L244.6,336.6L245.3,336.9L245.9,337.4L246.6,337.4L247.2,338.6L247.9,338.1L248.5,337.2L249.1,336.7L249.8,337.4L250.4,338.6L251.1,339.0L251.7,338.8L252.4,339.2L253.0,337.7L253.6,337.4L254.4,340.3L255.1,341.7L255.7,342.3L256.4,340.9L257.0,341.2L257.7,340.4L258.3,339.3L259.0,337.4L259.6,338.3L260.2,338.7L260.9,339.3L261.5,338.8L262.2,338.7L262.8,338.8L263.5,338.6L264.1,338.7L264.7,339.8L265.4,340.2L266.0,339.9L266.7,340.5L267.3,340.8L268.0,339.2L268.6,339.8L269.2,340.3L269.9,339.8L270.5,339.3L271.2,339.9L271.8,339.7L272.5,338.8L273.1,340.3L273.7,340.6L274.4,341.2L275.0,340.5L275.7,342.0L276.3,341.7L277.0,340.7L277.6,340.5L278.2,340.5L279.0,338.0L279.7,335.0L280.4,336.0L281.1,336.9L281.8,336.6L282.4,337.3L283.1,336.4L283.7,336.9L284.3,336.8L285.0,337.4L285.7,340.3L286.4,344.1L287.2,350.2L287.9,355.0L288.5,354.5L289.2,354.7L289.8,353.8L290.5,354.9L291.1,356.1L291.7,358.1L292.5,356.0L293.2,353.8L293.8,351.9L294.5,348.3L295.1,346.5L295.8,345.0L296.4,343.3L297.0,340.5L297.7,340.2L298.3,339.5L299.0,338.1L299.6,337.4L300.3,338.8L300.9,338.8L301.6,340.6L302.2,340.2L302.8,342.2L303.5,341.5L304.1,341.1L304.8,341.2L305.4,341.4L306.1,341.4L306.7,341.7L307.3,341.3L308.0,341.4L308.6,340.5L309.3,339.4L309.9,339.2L310.6,339.8L311.2,338.9L311.8,338.8L312.5,339.3L313.1,338.4L313.8,339.8L314.4,338.8L315.1,339.0L315.7,337.1L316.3,337.4L317.0,337.6L317.6,337.5L318.3,338.1L318.9,338.8L319.6,339.9L320.2,341.2L320.8,340.2L321.5,338.8L322.1,337.4L322.8,336.8L323.4,336.2L324.1,336.4L324.7,336.9L325.3,337.3L326.0,338.8L326.6,339.2L327.3,339.8L327.9,339.8L328.6,340.0L329.2,340.0L329.8,341.2L330.5,340.8L331.1,341.3L331.8,341.7L332.4,342.7L333.1,343.8L333.7,344.1L334.3,344.3L335.0,345.5L335.6,345.3L336.3,346.1L336.9,346.3L337.6,347.0L338.2,347.8L338.8,349.1L339.5,350.1L340.1,350.9L340.8,350.8L341.4,351.3L342.1,350.9L342.7,349.7L343.3,348.9L344.3,341.7L345.0,340.8L345.6,341.0L346.2,340.5L346.9,340.6L347.5,339.2L348.2,339.8L348.8,339.5L349.5,339.3L350.1,339.3L350.7,339.8L351.4,339.8L352.0,338.8L352.7,338.3L353.3,339.0L354.0,338.1L354.6,338.4L355.2,337.2L355.9,337.4L356.5,337.8L357.2,337.6L357.8,338.8L358.5,339.1L359.1,338.6L359.7,338.1L360.4,338.4L361.0,337.8L361.7,336.9L362.3,337.0L363.0,337.0L363.6,336.4L364.2,336.8L364.9,336.3L365.5,337.4L366.2,337.8L366.8,337.0L367.5,338.1L368.1,337.8L368.7,339.4L369.4,339.3L370.0,339.1L370.7,339.8L371.3,341.2L372.0,341.5L372.6,343.8L373.2,344.1L373.9,343.4L374.5,342.9L375.2,343.6L375.8,344.8L376.5,344.1L377.1,345.3L377.8,345.6L378.6,345.0L379.3,345.0L380.0,344.1L380.7,347.9L381.4,350.1L382.1,348.9L382.7,347.9L383.4,346.0L384.0,344.6L384.7,345.2L385.3,344.1L385.9,343.7L386.6,343.7L387.2,342.9L388.0,342.0L388.8,342.9L389.6,342.2L390.4,343.4L391.3,342.4L392.1,343.6L392.9,343.1L393.7,343.3L394.5,342.9L395.3,343.7L396.1,342.9L396.9,343.6L397.7,342.8L398.5,342.7L399.3,342.9L400.1,343.5L400.9,344.2L401.7,344.1L402.5,343.3L403.3,342.6L404.1,342.2L404.8,342.5L405.4,342.9L406.0,343.6L406.7,342.7L407.3,341.3L408.0,341.2L408.7,342.1L409.4,342.9L410.1,346.8L410.9,348.9L411.6,346.4L412.3,344.1L413.0,342.1L413.8,339.3L414.4,339.3L415.0,340.9L415.7,341.2L416.3,341.2L417.0,340.6L417.6,339.8L418.3,340.0L418.9,340.2L419.5,340.5L420.2,341.2L420.8,342.0L421.5,341.7L422.1,341.9L422.8,342.6L423.4,344.1L424.0,343.6L424.7,342.9L425.3,341.2L426.0,341.6L426.6,341.8L427.3,342.2L427.9,342.0L428.5,340.5L429.2,340.5L430.2,337.4L431.1,342.9L431.8,342.1L432.4,341.6L433.0,341.7L433.7,341.7L434.3,341.0L435.0,341.2L435.6,340.5L436.3,341.1L436.9,340.5L437.6,341.1L438.2,339.6L438.8,339.8L439.5,340.6L440.1,340.6L440.8,341.2L441.4,341.4L442.1,340.4L442.7,339.8L443.3,340.6L444.0,341.8L444.6,343.6L445.3,342.9L445.9,343.9L446.6,344.1L447.2,343.3L447.8,342.2L448.5,342.2L449.2,341.5L449.9,341.2L450.9,335.7L451.9,341.2L452.5,340.7L453.1,341.2L453.8,340.5L454.4,340.1L455.1,341.9L455.7,341.2L456.4,341.3L457.0,341.7L457.6,341.7L458.3,341.5L458.9,342.0L459.6,341.2L460.2,341.6L460.9,340.8L461.5,340.5L462.1,340.2L462.8,340.4L463.4,339.8L464.1,341.1L464.7,340.9L465.4,341.7L466.0,343.1L466.6,344.5L467.3,344.6L467.9,344.0L468.6,343.0L469.2,342.9L469.9,342.8L470.5,344.1L471.1,344.1L471.8,344.3L472.4,344.6L473.1,343.6L473.7,344.8L474.4,344.3L475.0,345.3L475.7,344.5L476.3,344.4L476.9,344.6L477.6,344.5L478.2,345.9L478.9,346.0L479.5,346.8L480.2,347.1L480.8,346.5L481.4,345.7L482.1,346.4L482.7,345.3L483.4,345.8L484.2,347.0L485.1,355.0L485.9,357.8L486.6,361.0L487.5,362.9L488.2,363.1L488.8,361.7L489.5,362.2L490.1,361.2L490.8,362.3L491.4,361.5L492.0,361.3L492.7,361.7L493.3,362.2L494.3,355.0L495.3,347.7L496.0,346.1L496.7,344.1L497.4,343.2L498.2,341.7L498.8,340.2L499.4,340.1L500.1,339.8L500.7,340.1L501.4,340.7L502.0,341.2L502.7,340.1L503.3,340.1L503.9,339.3L504.6,340.5L505.2,339.9L505.9,340.5L506.5,340.3L507.2,339.3L507.8,339.8L508.4,339.8L509.1,341.0L509.7,341.2L510.4,340.0L511.0,341.0L511.7,339.8L512.3,340.3L512.9,338.7L513.6,339.3L514.2,339.7L514.9,338.3L515.5,338.1L516.2,339.4L516.8,340.2L517.4,340.5L518.1,340.5L518.7,341.6L519.4,341.7L520.0,341.6L520.7,341.4L521.3,340.5L521.9,340.3L522.6,341.4L523.2,341.2L523.9,341.8L524.5,341.0L525.2,340.5L525.8,341.0L526.4,340.6L527.1,341.7L527.7,341.3L528.4,340.6L529.0,340.5L529.7,341.1L530.3,341.3L531.0,341.2L531.7,342.8L532.4,344.1L533.0,343.9L533.7,345.2L534.3,345.3L535.3,344.1L536.3,336.4L537.0,338.1L537.7,339.3L538.3,338.6L539.0,339.7L539.6,338.8L540.3,339.2L540.9,338.5L541.6,339.3L542.2,340.2L542.8,339.0L543.5,339.8L544.1,339.7L544.8,340.7L545.4,340.5L546.1,340.4L546.7,340.1L547.3,339.8L548.0,340.5L548.6,340.7L549.3,341.2L549.9,340.6L550.6,340.2L551.2,340.5L551.8,340.1L552.5,341.7L553.1,341.7L553.8,342.0L554.4,341.5L555.1,341.2L555.7,342.0L556.3,341.6L557.0,342.2L557.6,341.2L558.3,340.8L558.9,340.5L559.6,341.4L560.2,340.2L560.9,341.2L561.6,340.9L562.3,340.5L563.0,341.8L563.7,344.1L564.5,346.0L565.2,347.0L565.8,347.5L566.5,348.3L567.1,349.4L567.8,349.7L568.4,350.5L569.0,350.9L569.7,350.6L570.3,349.0L571.0,348.5L571.6,348.8L572.3,347.3L572.9,347.7L573.6,347.1L574.2,346.5L574.8,347.0L575.5,346.0L576.1,346.9L576.8,346.0L577.4,346.2L578.1,345.0L578.7,345.3L579.3,345.2L580.0,346.0L580.6,346.5L581.3,345.8L582.1,344.1L582.8,343.5L583.5,341.7L584.2,341.9L585.0,341.2L585.7,344.0L586.4,346.5L587.1,346.5L587.7,347.6L588.3,348.5L589.0,347.4L589.6,347.5L590.3,347.0L590.9,346.8L591.6,345.8L592.2,346.0L592.8,345.9L593.5,347.2L594.1,347.0L594.8,345.8L595.4,346.9L596.1,346.0L596.7,346.5L597.3,346.4L598.0,345.3L598.6,345.3L599.3,345.9L599.9,346.0L600.6,345.7L601.2,345.3L601.8,344.6L602.5,345.9L603.1,345.9L603.8,346.0L604.4,345.4L605.1,346.2L605.7,345.3L606.3,346.3L607.0,347.6L607.6,348.5L608.4,347.7L609.1,346.0L609.7,345.3L610.4,346.9L611.0,346.5L612.0,353.8L612.7,355.9L613.4,357.4L614.1,359.2L614.9,361.0L615.6,359.8L616.3,358.6L617.0,355.9L617.8,353.3L618.7,348.5L619.4,348.1L620.0,348.8L620.7,348.9L621.4,349.3L622.1,351.3L622.8,350.7L623.5,350.1L624.2,350.8L624.8,350.8L625.5,351.3L626.2,353.3L626.9,355.0L627.6,357.6L628.4,358.6L629.0,360.3L629.7,359.9L630.3,361.5L630.9,362.5L631.6,362.7L632.2,362.9L632.9,361.9L633.5,362.2L634.2,362.2L634.8,362.3L635.4,362.6L636.1,363.9L636.7,364.2L637.4,365.1L638.0,364.6L638.7,360.7L639.5,357.4L640.2,359.9L640.9,361.0L641.6,360.9L642.2,359.5L642.8,359.8L643.5,359.9L644.1,358.8L644.8,358.1L645.4,358.4L646.1,357.5L646.7,356.7L647.3,357.9L648.0,358.0L648.6,359.1L649.3,360.4L649.9,361.4L650.6,361.5L651.2,362.6L651.8,362.3L652.5,362.9L653.1,363.1L653.8,362.4L654.4,362.2L655.1,361.1L655.7,360.6L656.3,361.0L657.0,360.1L657.6,360.1L658.3,360.5L658.9,359.4L659.6,359.5L660.2,359.1L660.8,359.3L661.5,358.8L662.1,358.6L662.8,358.0L663.4,358.0L664.1,357.4L664.7,356.6L665.3,356.5L666.0,356.2L666.6,356.8L667.3,356.3L667.9,356.7L668.6,355.5L669.2,356.2L669.8,355.0L670.5,355.0L671.1,353.9L671.8,353.8L672.4,353.7L673.1,354.1L673.7,354.2L674.3,353.5L675.0,351.8L675.6,351.3L676.3,350.9L676.9,351.6L677.6,352.6L678.2,352.7L678.8,351.1L679.5,351.3L680.1,351.1L680.8,350.5L681.4,350.9L682.1,350.1L682.7,349.8L683.3,350.1L684.0,350.2L684.6,350.0L685.3,350.9L686.2,357.4L686.9,356.8L687.5,357.2L688.2,358.1L688.8,357.3L689.5,357.6L690.1,357.4L690.7,357.1L691.4,357.6L692.0,359.1L692.7,359.2L693.3,359.4L694.0,359.8L694.9,363.4L695.6,363.9L696.2,362.9L696.9,363.9L697.5,363.4L698.1,363.1L698.8,362.9L699.4,361.8L700.1,363.3L700.7,362.2L701.4,361.5L702.0,361.0L702.6,361.5L703.3,361.7L703.9,361.4L704.6,362.2L705.2,361.9L705.9,360.8L706.5,360.5L707.1,360.4L707.8,360.8L708.4,362.2L709.1,362.4L709.7,361.3L710.4,361.5L711.0,361.8L711.6,361.1L712.3,361.0L712.9,362.2L713.6,361.4L714.2,362.2L714.9,360.9L715.5,360.2L716.1,359.8L716.8,360.8L717.4,360.8L718.1,361.0L718.7,361.9L719.4,362.7L720.0,364.6L720.6,364.1L721.3,363.8L721.9,362.2L722.6,361.6L723.2,359.7L723.9,359.8L724.5,358.4L725.1,357.9L725.8,358.1L726.4,356.9L727.1,356.0L727.7,356.2L728.4,355.1L729.2,355.7L729.9,357.2L730.6,358.1L731.3,359.8L731.9,359.5L732.5,361.0L733.2,362.8L733.8,362.9L734.5,363.9L735.1,365.2L735.8,366.2L736.4,366.3L737.0,367.3L737.7,365.9L738.3,367.0L739.0,366.3L739.6,366.4L740.3,365.8L740.9,367.0L741.5,365.9L742.2,367.0L742.9,367.3L743.6,368.2L744.4,365.8L745.1,362.2L745.8,360.7L746.5,360.5L747.2,361.8L748.0,363.4L748.7,362.9L749.4,362.9L750.4,355.0L751.3,350.9L752.0,350.9L752.6,351.2L753.3,350.1L753.9,350.0L754.6,351.4L755.2,351.3L755.8,351.9L756.5,352.3L757.1,351.8L757.8,351.8L758.4,352.3L759.1,351.3L759.7,351.5L760.3,352.0L761.0,352.6L761.6,352.3L762.3,353.5L762.9,353.3L763.6,353.6L764.2,353.5L764.9,354.2L765.5,353.9L766.1,355.1L766.8,355.0L767.4,354.9L768.1,354.9L768.7,354.2L769.4,353.5L770.0,353.1L770.6,352.6L771.3,351.5L771.9,352.1L772.6,351.3L773.2,350.1L773.9,350.5L774.5,350.1L775.2,349.8L775.9,348.5L776.7,349.6L777.4,350.1L778.1,347.8L778.8,347.0L779.5,347.0L780.1,348.6L780.8,348.5L781.4,348.2L782.1,348.2L782.7,347.0L783.3,348.5L784.0,348.5L784.6,349.4L785.3,349.6L785.9,348.7L786.6,347.7L787.2,347.2L787.8,347.0L788.5,347.0L789.1,346.1L789.8,346.5L790.4,346.5L791.1,347.5L791.7,346.1L792.3,347.0L793.0,346.8L793.6,345.7L794.3,346.0L794.9,345.6L795.6,347.0L796.2,347.0L796.8,346.4L797.5,345.9L798.1,346.5L798.8,346.3L799.4,347.6L800.1,347.7L800.8,349.7L801.5,351.3L802.1,350.1L802.8,350.1L803.4,350.1L804.1,350.4L804.7,348.5L805.4,348.5L806.0,348.1L806.6,347.3L807.3,347.0L807.9,347.2L808.6,346.6L809.2,346.0L809.9,347.1L810.5,347.2L811.1,347.7L811.8,346.9L812.4,346.7L813.1,347.0L813.7,346.7L814.4,348.6L815.0,348.5L815.7,346.2L816.5,345.3L817.1,344.9L817.7,347.0L818.4,346.5L819.0,346.6L819.7,348.5L820.3,348.5L821.0,348.3L821.6,349.5L822.2,350.1L822.9,349.1L823.5,349.6L824.2,348.5L824.8,348.2L825.5,347.7L826.1,347.0L826.7,347.2L827.4,347.0L828.0,346.0L828.7,345.5L829.3,345.7L830.0,345.3L830.6,344.8L831.2,343.8L831.9,344.1L832.5,344.6L833.2,344.0L833.8,343.6L834.5,343.5L835.3,342.2L836.0,343.2L836.7,345.3L837.4,345.1L838.0,344.8L838.6,344.6L839.3,345.2L839.9,344.3L840.6,345.3L841.2,344.6L841.9,344.5L842.5,344.1L843.1,343.5L843.8,344.5L844.4,344.6L845.1,345.5L845.7,345.4L846.4,346.0L847.0,345.7L847.6,344.9L848.3,344.1L848.9,343.4L849.6,343.5L850.2,343.6L850.9,344.7L851.5,343.7L852.1,344.1L852.8,343.8L853.4,343.0L854.1,343.6L854.7,343.7L855.4,344.2L856.0,345.3L856.6,345.5L857.3,344.6L857.9,343.6L858.6,344.1L859.2,344.0L859.9,342.9L860.5,342.9L861.1,343.2L861.8,342.2L862.5,343.2L863.2,344.1L864.0,344.9L864.7,346.0L865.3,347.0L866.0,347.1L866.6,346.5L867.3,348.0L867.9,347.8L868.5,348.5L869.2,349.7L869.8,349.9L870.5,350.9L871.2,349.3L871.9,346.0L872.6,345.2L873.4,342.9L874.0,342.1L874.6,342.9L875.3,341.7L875.9,341.0L876.6,340.7L877.2,341.2L877.9,342.2L878.5,342.0L879.1,342.9L879.8,342.7L880.4,342.7L881.1,342.2L881.7,341.8L882.4,343.6L883.0,343.6L883.7,344.4L884.3,345.8L884.9,347.0L885.7,347.1L886.4,347.7L887.0,347.0L887.7,345.8L888.3,344.1L889.0,343.6L889.6,343.1L890.2,343.6L890.9,343.0L891.5,343.0L892.2,342.9L892.8,341.9L893.5,341.8L894.1,342.2L894.7,342.9L895.4,343.0L896.0,342.9L896.7,343.4L897.3,343.0L898.0,341.7L898.6,342.5L899.2,341.8L899.9,342.2L900.6,340.4L901.3,339.8L902.0,339.1L902.6,339.1L903.3,338.8L903.9,338.6L904.5,338.4L905.2,338.1L905.8,338.2L906.5,339.5L907.1,339.3L907.8,339.1L908.4,339.5L909.0,339.8L909.7,341.5L910.3,342.4L911.0,342.9L911.6,343.1L912.3,343.6L912.9,344.6L913.6,345.6L914.2,344.7L914.8,346.0L915.5,345.1L916.1,345.6L916.8,345.3L917.4,345.6L918.1,345.2L918.7,346.0L919.4,344.9L920.1,345.3L921.1,339.3L921.7,339.2L922.4,340.6L923.0,340.5L923.7,340.7L924.3,341.8L925.0,341.2L925.6,341.5L926.3,341.6L926.9,340.5L927.5,339.4L928.2,339.4L928.8,339.8L929.5,339.1L930.1,340.1L930.8,340.5L931.4,339.8L932.0,338.9L932.7,339.3L933.3,340.0L934.0,339.8L934.6,341.2L935.6,344.6L936.2,343.7L936.9,343.0L937.5,342.9L938.1,343.0L938.8,342.0L939.4,341.7L940.1,340.9L940.7,340.1L941.4,340.5L942.0,340.6L942.6,341.2L943.3,341.2L943.9,341.3L944.6,341.5L945.2,340.5L945.9,341.6L946.5,341.2L947.1,342.2L947.8,341.8L948.4,343.1L949.1,342.9L949.7,343.8L950.4,343.7L951.0,344.1L951.7,344.3L952.3,343.4L952.9,342.9L953.6,342.9L954.2,343.1L954.9,344.1L955.5,342.8L956.2,343.6L956.8,342.9L957.4,343.2L958.1,342.8L958.7,341.7L959.4,341.8L960.0,342.3L960.7,342.2L961.3,342.6L961.9,342.1L962.6,341.2L963.2,341.6L963.9,341.4L964.5,341.7L965.2,341.3L965.8,340.3L966.4,340.5L967.1,340.2L967.7,341.3L968.4,341.2L969.0,342.3L969.7,341.6L970.3,341.7L970.9,342.2L971.6,342.7L972.2,343.6L972.9,343.7L973.5,344.5L974.2,344.1L974.8,344.7L975.4,346.2L976.1,346.0L976.7,345.7L977.4,346.4L978.0,347.0L978.7,346.9L979.3,346.5L979.9,346.5L980.6,347.6L981.2,347.9L981.9,347.7L982.5,348.3L983.2,347.5L983.8,347.0L984.4,346.8L985.1,348.4L985.7,348.9L986.4,348.9L987.0,348.6L987.7,348.5L988.3,348.4L988.9,349.5L989.6,349.4L990.2,350.4L990.9,349.2L991.5,350.1L992.2,352.9L993.0,355.0L993.7,357.1L994.4,359.8L995.1,361.0L995.9,362.2L996.8,370.6L997.8,362.2L998.5,363.5L999.2,363.4L1000.0,364.8L1000.7,364.6L1001.4,363.1L1002.1,361.0L1002.8,360.3L1003.4,361.4L1004.1,360.5L1004.7,359.7L1005.3,359.8L1006.0,359.8L1006.6,360.1L1007.3,359.0L1007.9,359.1L1008.6,358.3L1009.2,359.2L1009.8,358.1L1010.5,358.3L1011.1,356.5L1011.8,356.2L1012.4,355.6L1013.1,355.0L1013.7,355.0L1014.3,354.7L1015.0,355.3L1015.6,356.2L1016.3,356.9L1016.9,355.1L1017.6,355.7L1018.2,355.5L1018.8,355.8L1019.5,356.7L1020.1,355.7L1020.8,356.4L1021.4,356.2L1022.1,357.0L1022.7,357.6L1023.3,357.4L1024.0,357.4L1024.6,357.5L1025.3,356.7L1025.9,356.0L1026.6,356.7L1027.2,357.4L1027.8,357.6L1028.5,355.5L1029.1,355.7L1029.8,355.8L1030.4,356.8L1031.1,357.4L1031.7,357.4L1032.3,358.3L1033.0,358.6L1033.7,359.9L1034.4,362.9L1035.1,363.0L1035.7,364.9L1036.4,364.6L1037.0,363.6L1037.7,364.5L1038.3,363.4L1038.9,361.9L1039.6,362.4L1040.2,360.5L1040.9,360.2L1041.5,359.5L1042.2,358.6L1042.8,357.1L1043.4,356.2L1044.1,356.2L1044.7,356.2L1045.4,354.8L1046.0,355.0L1046.7,353.8L1047.3,354.4L1047.9,353.3L1048.6,353.5L1049.2,351.5L1049.9,351.8L1050.5,353.1L1051.2,352.9L1051.8,353.3L1052.4,353.4L1053.1,353.2L1053.7,354.2L1054.4,354.8L1055.0,356.7L1055.7,356.7L1056.3,356.7L1056.9,357.0L1057.6,358.1L1058.4,356.8L1059.2,356.1L1060.0,356.2L1060.6,358.7L1061.3,362.5L1061.9,364.6L1062.6,362.2L1063.2,360.8L1063.9,359.8L1064.5,359.4L1065.1,358.3L1065.8,356.2L1066.4,357.4L1067.1,356.5L1067.7,357.4L1068.4,355.3L1069.0,354.5L1069.6,351.8L1070.4,354.0L1071.1,356.2L1071.7,357.5L1072.4,357.8L1073.0,359.1L1073.7,359.0L1074.3,360.4L1075.0,361.5L1075.6,362.7L1076.2,363.6L1076.9,363.9L1077.5,364.7L1078.2,365.1L1078.8,365.8L1079.5,366.3L1080.1,366.5L1080.7,367.0L1081.4,368.3L1082.0,370.0L1082.7,370.6L1083.3,368.9L1084.0,368.4L1084.6,367.0L1085.2,367.4L1085.9,366.8L1086.5,365.8L1087.2,365.9L1087.8,367.9L1088.5,367.7L1089.1,368.9L1089.7,368.3L1090.4,369.4L1091.1,369.9L1091.8,371.1L1092.5,369.6L1093.1,368.4L1093.8,368.2L1094.4,368.7L1095.0,367.3L1095.7,367.0L1096.3,367.9L1097.0,366.8L1097.6,367.7L1098.3,366.4L1098.9,367.4L1099.5,366.3L1100.2,367.1L1100.8,367.7L1101.5,367.0L1102.1,366.6L1102.8,365.5L1103.4,364.6L1104.0,364.8L1104.7,363.4L1105.3,363.9L1106.0,364.2L1106.6,364.3L1107.3,364.6L1107.9,364.5L1108.5,365.9L1109.2,366.3L1109.8,366.5L1110.5,367.3L1111.1,367.7L1111.8,368.3L1112.4,369.0L1113.0,370.2L1113.7,370.5L1114.3,371.5L1115.0,371.8L1115.6,372.3L1116.3,371.8L1116.9,370.6L1117.6,372.3L1118.2,373.2L1118.8,373.5L1119.5,372.6L1120.1,373.3L1120.8,371.8L1121.4,372.2L1122.1,372.8L1122.7,374.3L1123.3,374.8L1124.0,375.8L1124.6,375.9L1125.3,374.9L1125.9,374.6L1126.6,373.5L1127.2,372.2L1127.8,372.4L1128.5,370.6L1129.1,370.7L1129.8,370.9L1130.4,371.1L1131.1,370.6L1131.7,370.7L1132.3,369.4L1133.0,370.5L1133.6,370.0L1134.3,370.2L1134.9,370.9L1135.6,372.0L1136.2,372.6L1136.8,372.4L1137.5,373.6L1138.1,374.3L1138.8,374.1L1139.4,373.1L1140.1,371.8L1140.7,371.3L1141.3,373.0L1142.0,372.6L1142.6,372.9L1143.3,374.6L1143.9,374.3L1144.6,375.1L1145.2,375.8L1145.8,377.4L1146.5,376.7L1147.1,376.5L1147.8,375.0L1148.4,375.2L1149.1,376.3L1149.7,375.9L1150.3,375.8L1151.0,374.6L1151.6,374.3L1152.3,374.1L1152.9,374.7L1153.6,375.0L1154.2,373.2L1154.8,371.5L1155.5,370.2L1156.1,369.4L1156.8,368.7L1157.4,367.0L1158.1,366.9L1158.7,365.9L1159.3,366.3L1160.0,365.9L1160.6,366.2L1161.3,366.5L1161.9,366.9L1162.6,366.2L1163.2,367.0L1163.8,366.1L1164.5,366.4L1165.1,366.5L1165.8,366.6L1166.4,366.5L1167.1,367.7L1167.7,367.6L1168.3,368.0L1169.0,367.0L1169.6,367.5L1170.3,368.3L1170.9,368.2L1171.6,369.2L1172.2,369.6L1172.9,369.4L1173.5,369.6L1174.1,368.2L1174.8,367.7L1175.4,367.8L1176.1,366.6L1176.7,367.0L1177.4,368.1L1178.0,367.6L1178.6,368.2L1179.3,368.0L1179.9,368.6L1180.6,367.7L1181.2,368.7L1181.9,369.9L1182.5,371.8L1183.1,371.2L1183.8,369.6L1184.4,368.2L1185.1,367.1L1185.7,366.6L1186.4,367.0L1187.0,367.6L1187.6,367.7L1188.3,369.4L1188.9,370.6L1189.6,370.0L1190.2,371.1L1190.9,371.2L1191.5,371.9L1192.1,372.6L1192.8,371.5L1193.4,370.4L1194.1,369.4L1194.7,369.5L1195.4,369.4L1196.0,369.0L1196.6,369.2L1197.3,369.0L1197.9,370.2L1198.7,374.3L1199.4,376.7L1200.1,379.4L1200.8,381.5L1201.5,382.3L1202.3,384.6L1202.9,384.0L1203.6,384.1L1204.2,383.2L1204.8,383.9L1205.5,382.1L1206.1,382.7L1206.8,382.5L1207.4,383.9L1208.1,384.6L1208.7,384.6L1209.3,385.7L1210.0,385.1L1210.6,385.1L1211.3,383.5L1211.9,383.2L1212.6,382.7L1213.2,382.7L1213.8,382.2L1214.5,382.7L1215.1,381.2L1215.8,381.5L1216.4,380.9L1217.1,379.9L1217.7,380.3L1218.4,378.4L1219.1,375.9L1219.8,375.1L1220.4,376.7L1221.1,375.9L1221.7,376.0L1222.4,376.1L1223.0,375.9L1223.7,375.4L1224.3,375.9L1224.9,376.7L1225.7,378.4L1226.4,380.3L1227.0,380.5L1227.7,379.6L1228.3,379.1L1229.0,378.4L1229.6,379.5L1230.2,378.4L1230.9,378.3L1231.5,377.8L1232.2,377.4L1232.8,376.6L1233.5,376.5L1234.1,376.7L1234.7,377.9L1235.4,377.1L1236.0,378.4L1236.7,378.3L1237.3,378.2L1238.0,377.9L1238.6,378.0L1239.2,379.2L1239.9,379.1L1240.5,380.1L1241.2,380.2L1241.8,379.8L1242.5,379.7L1243.1,378.3L1243.7,378.4L1244.4,378.6L1245.0,380.3L1245.7,381.5L1246.3,381.7L1247.0,382.1L1247.6,383.2L1248.2,384.6L1248.9,384.3L1249.5,385.6L1250.2,387.2L1250.8,388.5L1251.5,388.7L1252.1,387.6L1252.7,388.7L1253.4,387.5L1254.0,386.9L1254.7,386.2L1255.3,386.3L1256.0,386.3L1256.6,386.6L1257.2,388.0L1257.9,388.5L1258.5,388.8L1259.2,389.4L1259.9,386.7L1260.6,382.7L1261.3,382.7L1262.1,381.5L1262.7,380.9L1263.4,381.8L1264.0,382.2L1264.7,384.7L1265.4,387.5L1266.1,386.1L1266.7,385.5L1267.4,385.1L1268.0,384.3L1268.7,384.7L1269.3,383.9L1269.9,383.4L1270.6,382.7L1271.2,383.2L1271.9,382.7L1272.5,383.1L1273.2,383.2L1273.8,383.0L1274.4,382.1L1275.1,382.2L1275.7,382.3L1276.4,381.2L1277.0,381.5L1277.7,382.0L1278.3,382.2L1279.0,382.2L1279.6,382.4L1280.2,384.3L1280.9,384.6L1281.5,384.2L1282.2,384.2L1282.8,383.9L1283.5,385.1L1284.1,386.2L1284.7,387.0L1285.4,387.3L1286.0,386.9L1286.7,388.0L1287.3,389.0L1288.0,389.6L1288.6,389.4L1289.2,389.8L1289.9,390.2L1290.5,390.4L1291.2,392.2L1292.0,394.8L1292.7,397.6L1293.4,399.1L1294.1,398.8L1294.7,397.3L1295.3,397.2L1296.0,398.1L1296.6,398.8L1297.3,398.4L1297.9,397.7L1298.6,398.5L1299.2,397.2L1299.8,397.3L1300.5,396.9L1301.1,397.6L1301.8,397.7L1302.4,396.7L1303.1,396.7L1303.8,394.3L1304.5,391.1L1305.2,390.1L1305.8,388.0L1306.4,387.5L1307.1,388.0L1307.7,389.0L1308.4,388.7L1309.0,389.7L1309.7,390.9L1310.3,391.9L1310.9,393.6L1311.6,394.0L1312.2,395.2L1312.9,396.3L1313.5,397.5L1314.2,398.4L1314.8,398.4L1315.4,396.7L1316.1,396.7L1316.7,394.9L1317.4,395.1L1318.0,393.5L1318.7,395.4L1319.5,397.2L1320.2,399.8L1320.9,403.2L1321.6,403.5L1322.2,403.1L1322.8,402.0L1323.5,403.0L1324.1,404.8L1324.8,404.9L1325.5,407.1L1326.2,408.0L1326.9,406.0L1327.7,403.2L1328.3,402.4L1328.9,401.5L1329.6,402.0L1330.2,401.5L1330.9,400.8L1331.5,399.6L1332.2,397.9L1332.8,396.6L1333.4,395.2L1334.1,396.0L1334.7,396.1L1335.4,397.2L1336.0,396.6L1336.7,395.3L1337.3,394.3L1337.9,393.8L1338.6,393.1L1339.2,393.5L1339.9,394.4L1340.5,394.8L1341.2,396.0L1341.8,396.0L1342.4,394.6L1343.1,394.8L1343.7,394.2L1344.4,393.4L1345.0,393.5L1345.7,393.0L1346.3,392.9L1347.0,392.3L1347.6,391.2L1348.2,390.7L1348.9,391.1L1349.6,392.9L1350.3,394.8L1351.0,397.8L1351.8,402.0L1352.4,402.2L1353.1,401.7L1353.7,402.5L1354.3,401.4L1355.0,401.9L1355.6,401.5L1356.3,402.0L1356.9,401.7L1357.6,400.8L1358.2,400.6L1358.8,400.1L1359.5,400.1L1360.1,399.8L1360.8,400.6L1361.4,401.5L1362.1,401.5L1362.7,402.9L1363.3,402.5L1364.0,402.3L1364.6,404.2L1365.3,403.9L1365.9,403.6L1366.6,403.3L1367.2,403.2L1367.8,403.6L1368.5,405.6L1369.1,405.6L1369.8,405.4L1370.4,406.5L1371.1,406.8L1371.7,406.7L1372.3,405.9L1373.0,406.3L1374.0,406.8L1374.0,327.0L45.8,327.0Z" fill="rgba(243,156,18,0.3)"/>
<path d="M46.0,327.2L46.7,327.8L47.4,327.6L48.1,325.8L48.8,326.5L49.4,323.9L50.0,323.4L50.6,320.9L51.2,320.9L51.9,320.4L52.6,319.7L53.2,317.9L53.7,317.0L54.3,315.4L55.0,315.2L55.7,314.8L56.4,313.7L57.1,313.9L57.7,312.1L58.3,310.4L58.8,308.9L59.4,307.4L60.0,306.1L60.6,303.3L61.3,301.2L61.9,297.6L62.6,294.5L63.3,293.4L64.0,292.0L64.6,291.3L65.2,289.6L65.8,288.8L66.4,288.8L67.0,289.2L67.6,289.4L68.1,290.3L68.9,292.8L69.7,295.8L70.2,295.5L70.8,293.8L71.4,292.8L72.0,292.5L72.7,291.6L73.3,290.8L73.9,291.3L74.6,290.7L75.2,290.1L75.8,290.5L76.4,290.3L77.0,292.0L77.6,292.3L78.2,292.8L78.9,291.1L79.5,291.3L80.2,289.5L80.9,288.4L81.5,286.6L82.2,284.5L82.8,282.7L83.4,279.9L84.0,277.0L84.6,276.2L85.3,274.2L86.0,273.2L86.6,274.9L87.2,275.7L87.7,275.7L88.4,275.8L89.1,277.5L89.8,277.7L90.4,280.6L91.0,282.7L91.6,281.6L92.2,280.6L92.8,279.5L93.4,278.9L94.1,279.1L94.8,277.7L95.4,278.3L96.0,279.5L96.5,279.5L97.2,279.8L97.8,281.4L98.4,282.1L99.1,282.0L99.7,282.4L100.3,283.0L100.9,284.1L101.6,283.7L102.2,286.5L102.7,288.4L103.3,290.8L104.1,293.8L104.8,297.8L105.5,297.7L106.1,298.7L106.7,298.0L107.3,298.8L107.9,300.6L108.5,300.6L109.1,302.1L109.8,304.5L110.4,305.1L111.1,307.1L111.9,308.2L112.6,308.0L113.4,307.9L114.0,308.0L114.6,308.1L115.3,308.5L115.9,308.4L116.5,308.8L117.1,308.7L117.8,308.8L118.4,309.6L119.1,309.1L119.7,309.2L120.4,307.9L121.1,309.1L121.8,309.1L122.4,310.9L123.0,311.7L123.6,311.8L124.2,311.6L124.8,310.4L125.4,307.2L125.9,305.9L126.7,304.4L127.5,302.1L128.0,302.4L128.6,304.5L129.2,305.4L129.8,305.2L130.5,305.4L131.1,306.8L131.7,306.4L132.4,306.3L133.0,307.7L133.6,308.9L134.2,308.9L134.9,309.5L135.6,310.5L136.2,312.1L136.8,313.7L137.4,313.7L138.0,314.6L138.7,314.5L139.3,312.6L140.0,312.9L140.6,312.5L141.3,311.9L141.9,312.6L142.5,312.1L143.2,310.6L143.8,311.3L144.4,308.8L145.0,308.9L145.6,308.3L146.2,306.0L146.8,305.9L147.4,304.6L148.0,304.7L148.6,303.3L149.2,302.4L149.8,302.1L150.4,302.7L151.1,302.1L151.7,301.5L152.4,300.4L153.1,300.8L153.7,298.6L154.3,294.5L155.0,297.1L155.6,300.8L156.2,297.2L156.9,295.3L157.5,297.8L158.1,300.8L158.8,299.8L159.4,298.8L160.1,297.1L160.7,294.9L161.3,293.9L161.9,292.8L162.5,291.1L163.1,291.0L163.6,290.3L164.4,287.2L165.1,283.2L165.7,281.8L166.3,280.3L166.9,277.7L167.5,276.7L168.1,275.3L168.7,273.2L169.3,272.5L170.0,271.1L170.7,270.2L171.3,269.3L171.9,269.7L172.6,268.7L173.2,268.7L173.8,268.1L174.4,268.8L175.1,269.7L175.7,269.2L176.3,268.9L177.0,270.1L177.6,270.1L178.2,270.7L178.9,271.4L179.6,271.4L180.2,272.7L180.8,272.8L181.4,270.9L182.0,270.7L182.6,270.2L183.2,269.2L183.7,268.7L184.4,268.3L185.1,269.8L185.8,270.2L186.4,269.0L187.1,268.4L187.8,268.7L188.3,268.1L188.9,268.6L189.5,269.4L190.1,270.3L190.8,272.7L191.4,273.5L192.1,273.9L192.8,274.4L193.4,274.5L194.0,273.5L194.5,271.9L195.1,272.2L195.7,270.3L196.3,270.2L197.0,269.4L197.6,268.4L198.3,268.2L198.9,268.2L199.6,268.1L200.2,268.3L200.8,267.7L201.5,266.5L202.2,264.2L202.8,263.1L203.4,262.8L204.0,262.8L204.6,262.6L205.2,261.9L205.9,262.0L206.5,262.8L207.1,263.1L207.7,262.9L208.3,264.5L208.9,264.6L209.5,264.1L210.2,263.8L210.9,264.4L211.5,263.0L212.1,262.3L212.8,261.4L213.4,261.1L214.0,261.0L214.6,260.8L215.3,260.4L215.9,260.6L216.6,261.9L217.2,262.1L217.9,263.6L218.5,264.6L219.2,264.8L219.8,264.6L220.4,264.4L221.0,263.9L221.6,263.6L222.2,263.1L222.9,262.3L223.5,260.3L224.2,260.1L225.0,258.9L225.7,258.0L226.5,256.9L227.1,255.2L227.8,253.9L228.5,253.6L229.1,253.1L229.8,251.3L230.5,250.6L231.1,250.3L231.7,250.7L232.4,249.8L233.0,249.3L233.6,248.1L234.2,248.5L234.8,246.8L235.4,244.9L236.0,243.5L236.7,244.2L237.3,246.9L238.0,248.1L238.6,248.2L239.2,249.4L239.8,250.6L240.4,251.5L241.0,251.5L241.7,250.6L242.3,251.8L242.9,252.1L243.5,252.3L244.2,252.7L244.8,253.1L245.4,251.7L246.0,251.6L246.6,250.6L247.2,249.1L247.9,248.8L248.6,248.6L249.2,249.4L249.9,251.5L250.6,251.8L251.2,251.7L251.8,253.5L252.5,253.2L253.1,254.3L253.7,254.8L254.4,254.8L255.0,255.2L255.6,255.6L256.2,255.7L256.9,254.8L257.5,254.0L258.1,254.3L258.8,253.5L259.4,253.2L260.0,254.4L260.6,253.6L261.3,253.4L261.9,253.5L262.5,252.6L263.1,251.8L263.8,250.8L264.4,251.7L265.0,251.8L265.7,251.1L266.3,251.2L266.9,250.6L267.5,250.1L268.2,250.1L268.8,249.8L269.4,250.2L270.1,249.1L270.7,249.3L271.3,248.1L271.9,246.8L272.4,245.5L273.1,244.1L273.7,241.0L274.3,241.4L275.0,241.5L275.6,241.2L276.2,240.5L276.8,240.3L277.5,240.3L278.1,240.9L278.7,241.0L279.3,240.8L279.9,241.4L280.5,241.8L281.1,244.6L281.7,246.8L282.4,248.6L283.1,249.1L283.8,250.1L284.4,250.9L285.0,249.8L285.6,250.6L286.3,251.1L286.9,252.3L287.5,251.2L288.2,252.1L288.8,252.6L289.4,252.2L290.0,252.7L290.7,254.6L291.3,254.3L292.0,256.3L292.6,256.8L293.3,257.6L293.9,256.4L294.5,256.2L295.1,256.1L295.6,255.0L296.2,255.2L296.8,254.3L297.5,253.4L298.2,251.7L298.8,250.6L299.5,249.7L300.1,248.0L300.7,247.8L301.3,246.8L302.0,246.7L302.6,245.4L303.2,243.2L303.9,243.0L304.5,241.8L305.2,240.9L305.9,239.3L306.5,238.4L307.1,239.1L307.8,237.9L308.4,237.5L309.0,237.4L309.6,236.3L310.3,236.9L310.9,235.5L311.5,235.2L312.2,234.1L312.8,232.6L313.4,232.5L314.0,233.6L314.7,235.0L315.3,236.3L315.9,239.3L316.5,240.9L317.1,242.8L317.7,243.5L318.3,243.8L318.9,245.2L319.6,246.0L320.2,246.8L320.8,247.4L321.4,248.8L322.1,250.0L322.7,250.1L323.3,251.1L324.0,251.3L324.6,252.8L325.2,252.6L325.8,252.7L326.5,253.9L327.1,254.2L327.7,254.3L328.3,253.7L328.9,252.8L329.5,251.1L330.2,249.4L330.8,248.9L331.5,247.6L332.1,247.6L332.8,248.4L333.4,249.2L334.0,248.6L334.6,249.4L335.3,248.9L335.9,250.4L336.5,251.1L337.2,251.8L337.8,252.5L338.4,252.5L339.0,252.6L339.7,253.3L340.3,252.0L340.9,253.8L341.6,253.1L342.2,253.8L342.8,253.9L343.4,254.8L344.1,254.3L344.7,254.7L345.3,253.0L345.9,254.0L346.6,253.1L347.2,253.2L347.8,251.9L348.5,252.6L349.1,251.8L349.7,251.7L350.3,250.6L351.0,251.4L351.6,250.6L352.2,249.2L352.9,249.3L353.5,248.2L354.1,247.6L354.8,246.3L355.5,246.0L356.1,245.0L356.7,245.1L357.3,244.8L357.9,245.5L358.5,246.1L359.1,244.1L359.8,243.7L360.4,244.3L361.1,245.3L361.7,247.1L362.4,247.6L363.2,248.7L363.9,249.7L364.7,250.1L365.3,250.2L365.9,250.6L366.6,250.1L367.2,250.6L367.8,250.3L368.4,250.8L369.1,250.1L369.7,251.1L370.4,250.1L371.0,251.2L371.7,250.6L372.3,251.2L373.0,253.1L373.6,252.3L374.1,251.1L374.7,249.3L375.4,248.1L376.1,247.4L376.7,246.0L377.4,246.3L378.0,246.2L378.6,244.6L379.2,245.0L380.0,247.6L380.6,246.6L381.3,246.6L381.9,246.4L382.5,246.0L383.1,245.2L383.8,244.3L384.4,244.8L385.0,244.3L385.7,244.7L386.3,243.2L386.9,243.0L387.5,242.5L388.2,241.9L388.8,241.7L389.4,242.1L390.1,241.0L390.7,239.9L391.3,239.8L391.9,238.7L392.6,238.0L393.2,237.3L393.8,237.2L394.4,235.0L395.1,235.0L395.7,235.1L396.3,233.6L397.0,233.7L397.6,233.0L398.2,232.9L398.8,232.0L399.5,230.9L400.1,230.5L400.7,230.1L401.4,227.8L402.0,227.9L402.6,226.7L403.2,226.7L403.9,227.1L404.5,227.9L405.1,227.5L405.8,228.4L406.4,228.6L407.0,228.4L407.6,229.2L408.3,228.9L408.9,229.5L409.5,229.3L410.2,230.0L410.8,228.2L411.5,228.1L412.2,225.9L412.8,225.1L413.3,226.2L413.9,225.4L414.5,223.5L415.1,221.8L415.7,220.4L416.3,220.1L416.9,219.7L417.6,220.3L418.2,220.4L418.9,220.2L419.5,221.1L420.2,221.7L420.9,220.0L421.5,219.9L422.2,217.9L422.8,216.1L423.4,212.8L424.0,210.4L424.6,209.1L425.2,207.3L426.0,211.5L426.7,214.1L427.5,215.1L428.2,215.9L429.0,217.9L429.6,218.7L430.2,219.9L430.8,221.7L431.4,221.2L432.1,219.8L432.8,219.2L433.4,218.6L434.0,219.1L434.7,217.7L435.3,217.9L435.9,219.1L436.5,219.4L437.2,219.6L437.8,220.4L438.4,221.3L439.1,220.8L439.7,222.0L440.3,221.7L440.9,222.2L441.6,221.3L442.2,221.4L442.8,220.9L443.5,221.1L444.2,220.2L444.8,219.2L445.5,219.2L446.1,218.9L446.7,218.6L447.3,217.4L448.0,218.1L448.6,218.8L449.2,217.8L449.9,218.4L450.5,220.9L451.1,222.9L452.1,230.0L452.8,230.2L453.5,229.6L454.1,229.7L454.8,229.2L455.4,228.5L456.0,229.6L456.6,228.5L457.3,227.9L457.9,227.9L458.5,228.4L459.2,227.5L459.8,226.5L460.4,227.5L461.0,225.6L461.7,225.9L462.3,224.8L462.9,225.2L463.6,224.9L464.2,224.9L464.8,225.5L465.4,225.2L466.1,224.8L466.7,224.2L467.3,223.9L468.0,223.9L468.6,223.1L469.2,223.4L469.8,223.4L470.4,222.1L471.0,221.7L471.7,219.6L472.5,218.4L473.1,218.5L473.7,217.5L474.4,217.7L475.0,217.9L475.6,218.5L476.2,216.9L476.9,216.9L477.5,217.4L478.1,216.7L478.8,216.6L479.4,216.7L480.0,216.6L480.6,216.0L481.3,216.0L481.9,215.6L482.5,215.9L483.1,216.1L483.7,217.4L484.3,217.9L484.9,221.4L485.5,225.4L486.2,225.8L486.8,227.2L487.4,226.5L488.1,228.0L488.7,227.4L489.3,228.8L489.9,228.2L490.6,228.5L491.2,228.7L491.8,227.3L492.5,227.7L493.1,227.5L493.7,228.2L494.3,227.4L495.0,228.3L495.6,228.0L496.2,228.3L496.9,228.0L497.5,229.2L498.1,228.5L498.7,228.4L499.4,228.8L500.0,229.2L500.6,229.2L501.2,228.4L501.9,228.9L502.5,228.1L503.1,227.5L503.8,227.2L504.4,226.8L505.0,227.2L505.6,225.9L506.3,225.4L507.0,223.7L507.7,221.7L508.3,221.3L509.0,221.0L509.7,220.9L510.4,222.6L511.2,224.2L511.8,223.7L512.4,224.1L513.1,226.0L513.7,225.4L514.3,225.1L514.9,226.9L515.6,226.7L516.2,226.7L516.9,227.7L517.5,226.4L518.2,227.5L518.9,226.4L519.6,226.6L520.2,225.4L520.8,223.9L521.5,223.5L522.1,223.3L522.7,222.9L523.4,221.1L524.0,219.8L524.6,219.5L525.2,217.9L525.8,216.5L526.4,217.4L527.0,215.9L527.6,217.0L528.2,216.8L528.8,218.4L529.4,218.5L530.1,216.8L530.8,216.6L531.4,216.9L532.0,217.4L532.7,216.9L533.3,217.9L533.9,218.7L534.5,218.6L535.2,219.6L535.8,220.9L536.5,223.2L537.1,224.5L537.8,225.4L538.4,225.8L539.1,226.4L539.7,227.1L540.3,226.7L541.0,225.7L541.6,226.1L542.2,225.1L542.8,225.4L543.4,223.2L544.0,221.7L544.6,220.9L545.2,220.1L545.9,219.6L546.5,219.6L547.1,219.9L547.7,219.2L548.3,219.1L548.9,218.4L549.5,218.2L550.2,217.5L550.9,215.9L551.5,217.4L552.2,218.1L552.9,219.2L553.5,219.7L554.1,218.2L554.8,217.9L555.4,218.4L556.0,219.4L556.7,219.4L557.3,219.0L557.9,219.9L558.5,219.5L559.2,219.2L559.8,219.2L560.4,219.2L561.1,219.2L561.7,219.4L562.3,220.3L562.9,219.9L563.6,220.1L564.2,219.3L564.8,218.7L565.5,218.4L566.1,217.9L566.7,218.6L567.3,218.9L568.0,217.9L568.6,217.7L569.2,218.9L569.9,219.2L570.5,219.2L571.1,218.0L571.7,215.5L572.2,214.9L572.9,215.2L573.5,214.9L574.1,215.1L574.8,215.9L575.4,215.6L576.0,215.3L576.6,214.8L577.3,214.1L577.9,214.3L578.5,213.9L579.2,213.1L579.8,212.9L580.4,211.9L581.0,213.1L581.7,213.1L582.3,212.4L582.9,210.1L583.5,206.6L584.2,207.0L584.9,206.3L585.6,207.3L586.1,208.6L586.7,210.3L587.3,212.9L587.9,212.4L588.6,211.4L589.2,210.0L589.8,209.9L590.5,210.1L591.1,209.5L591.7,208.7L592.3,207.3L593.0,207.1L593.6,206.6L594.2,206.3L594.9,206.6L595.5,207.0L596.1,206.6L596.7,205.6L597.4,205.8L598.0,206.1L598.6,205.1L599.3,204.4L599.9,204.1L600.5,203.5L601.1,203.6L601.8,202.7L602.4,202.3L603.0,202.1L603.7,200.6L604.3,201.2L604.9,200.3L605.5,199.8L606.2,200.8L606.8,199.4L607.4,199.8L608.0,199.6L608.7,200.1L609.3,200.0L609.9,200.3L610.5,201.6L611.1,203.6L611.7,204.1L612.4,204.4L613.0,206.2L613.7,206.6L614.3,207.4L615.0,208.0L615.6,207.8L616.2,208.4L616.9,207.7L617.6,206.9L618.2,206.6L618.8,206.0L619.4,205.0L620.0,204.8L620.6,205.1L621.2,206.5L621.7,207.3L622.4,205.3L623.1,204.3L623.8,202.8L624.4,202.5L625.0,201.5L625.6,200.7L626.3,200.8L626.9,201.2L627.5,201.8L628.2,200.9L628.8,201.6L629.4,202.0L630.0,202.2L630.7,202.8L631.3,202.3L631.9,202.8L632.5,202.2L633.2,202.2L633.8,202.8L634.4,203.7L635.1,203.1L635.7,202.9L636.3,204.1L637.0,204.2L637.7,202.4L638.3,202.3L638.9,201.1L639.5,200.3L640.1,199.8L640.7,200.8L641.3,203.1L641.8,204.1L642.5,204.0L643.2,204.5L643.9,204.8L644.5,204.2L645.1,204.4L645.7,202.5L646.4,202.8L647.0,201.7L647.5,199.6L648.1,199.1L648.9,195.9L649.6,194.0L650.3,194.4L650.9,194.2L651.5,193.8L652.2,194.8L652.8,195.4L653.4,196.4L654.0,196.4L654.7,196.5L655.3,196.8L655.9,197.7L656.5,198.2L657.2,197.8L657.8,197.5L658.4,198.1L659.1,199.6L659.7,199.1L660.3,199.4L660.9,197.6L661.6,198.1L662.2,197.3L662.8,197.8L663.5,197.1L664.1,197.1L664.7,196.5L665.3,196.0L665.9,194.9L666.5,194.8L667.1,194.9L667.6,195.2L668.2,196.5L668.9,199.7L669.5,202.3L670.2,202.0L670.8,203.2L671.5,203.3L672.1,202.7L672.8,202.3L673.4,202.9L674.0,201.6L674.6,201.1L675.3,200.9L675.9,200.4L676.5,200.3L677.2,199.2L677.8,198.6L678.4,198.5L679.0,197.8L679.7,198.1L680.3,196.4L680.9,197.7L681.6,196.5L682.2,196.9L682.8,195.7L683.4,196.9L684.1,196.5L684.7,196.8L685.3,197.4L685.9,197.1L686.6,198.3L687.2,198.7L687.8,199.1L688.5,199.9L689.1,199.8L689.7,199.1L690.3,198.5L691.0,197.8L691.6,196.5L692.2,195.4L692.9,194.4L693.5,194.6L694.1,194.0L694.7,193.2L695.4,193.0L696.0,193.1L696.6,193.3L697.3,192.9L697.9,192.6L698.5,192.2L699.1,191.5L699.8,191.7L700.4,190.3L701.0,190.4L701.6,192.0L702.2,192.8L702.8,191.7L703.4,192.4L704.0,191.7L704.7,191.5L705.3,190.7L705.9,190.9L706.6,191.4L707.2,191.0L707.9,191.4L708.5,192.7L709.2,192.3L709.9,193.2L710.5,194.3L711.2,195.8L711.8,196.9L712.5,196.7L713.1,196.2L713.7,197.3L714.3,197.9L715.0,197.3L715.6,198.5L716.2,197.8L716.8,198.5L717.4,199.2L718.0,199.1L718.7,201.0L719.3,201.6L720.0,202.8L720.6,203.8L721.3,202.2L721.9,202.9L722.5,203.3L723.1,203.2L723.8,200.9L724.4,201.4L725.0,200.3L725.7,200.6L726.3,199.4L726.9,199.1L727.5,197.8L728.2,196.5L728.8,196.9L729.4,196.5L730.1,195.8L730.7,195.0L731.3,194.4L731.9,194.4L732.6,193.3L733.2,192.9L733.8,192.8L734.4,194.0L735.1,194.0L735.7,195.1L736.3,195.0L737.0,194.9L737.6,194.8L738.2,193.9L738.8,194.5L739.5,192.4L740.1,192.8L740.7,192.0L741.4,192.7L742.0,192.5L742.6,191.5L743.2,190.9L743.9,191.4L744.5,189.5L745.1,189.8L745.8,188.4L746.5,186.0L747.1,185.2L747.7,185.2L748.3,185.5L748.9,186.5L749.5,186.4L750.1,188.0L750.7,189.0L751.3,188.2L752.0,186.9L752.7,186.5L753.3,185.8L753.9,183.8L754.6,183.7L755.2,182.7L755.8,182.0L756.4,181.0L757.1,181.2L757.7,179.7L758.3,179.5L759.0,180.5L759.6,181.0L760.2,181.5L760.8,180.9L761.5,181.7L762.1,180.7L762.7,180.2L763.3,179.7L764.0,179.1L764.6,178.6L765.2,178.2L765.9,178.9L766.5,178.5L767.1,178.1L767.7,177.7L768.4,177.4L769.0,178.5L769.6,178.0L770.3,179.0L770.9,178.5L771.5,177.7L772.1,178.8L772.8,178.2L773.4,178.9L774.0,178.2L774.7,177.9L775.3,177.7L775.9,177.1L776.5,177.3L777.2,177.3L777.8,177.2L778.5,176.0L779.1,174.6L779.8,173.9L780.4,172.0L781.0,171.5L781.6,169.7L782.2,170.6L782.8,170.5L783.5,170.2L784.1,170.2L784.7,169.6L785.3,170.4L786.0,171.7L786.6,171.4L787.2,171.8L787.8,170.6L788.5,170.2L789.1,169.7L789.7,169.8L790.4,168.8L791.0,169.5L791.6,168.9L792.2,168.8L792.9,169.9L793.5,169.4L794.1,169.7L794.8,169.8L795.4,169.4L796.0,169.1L796.6,168.9L797.3,168.6L797.9,169.3L798.5,168.8L799.2,168.1L799.8,168.8L800.4,169.8L801.0,171.3L801.7,171.4L802.3,172.5L802.9,172.9L803.6,174.1L804.2,173.9L804.8,172.8L805.4,173.3L805.9,172.7L806.7,171.9L807.5,170.7L808.0,171.4L808.6,173.2L809.2,173.2L809.8,174.8L810.5,174.6L811.1,175.8L811.7,176.4L812.4,177.4L813.0,177.7L813.6,177.5L814.2,178.2L814.9,178.0L815.5,176.4L816.1,175.3L816.7,175.2L817.4,175.8L818.0,176.1L818.6,176.0L819.3,176.4L819.9,176.2L820.5,176.9L821.1,176.4L821.8,175.7L822.4,175.9L823.0,177.2L823.7,176.9L824.3,177.2L824.9,176.6L825.5,176.7L826.2,176.6L826.8,175.7L827.4,177.1L828.0,177.3L828.6,177.7L829.2,179.3L829.9,180.0L830.6,181.5L831.2,181.3L831.8,182.6L832.5,182.7L833.1,184.0L833.8,186.4L834.4,187.1L835.1,189.0L835.7,188.9L836.3,188.8L837.0,187.5L837.6,187.7L838.2,188.7L838.9,188.1L839.5,187.9L840.1,189.0L840.7,190.1L841.4,190.7L842.0,192.6L842.6,192.8L843.3,192.0L843.9,190.8L844.5,190.0L845.1,190.3L845.8,188.4L846.5,188.2L847.2,187.2L847.9,189.1L848.7,190.3L849.3,190.3L850.0,191.6L850.7,192.8L851.3,193.0L851.9,194.1L852.6,194.6L853.2,194.0L853.8,195.0L854.4,194.9L855.1,195.1L855.7,195.3L856.3,195.1L857.0,196.1L857.6,195.6L858.2,196.5L858.9,197.3L859.6,199.3L860.2,199.8L860.8,200.7L861.5,201.7L862.1,202.0L862.7,202.8L863.4,203.2L864.0,204.3L864.6,205.2L865.2,205.8L865.9,205.8L866.5,207.2L867.1,207.8L867.8,207.3L868.4,207.5L869.0,208.4L869.6,210.2L870.3,210.4L870.9,210.1L871.5,208.6L872.2,208.6L872.8,207.8L873.4,207.5L874.0,208.8L874.7,208.4L875.3,208.4L875.9,208.6L876.6,208.1L877.2,208.7L877.8,209.1L878.4,208.9L879.1,208.5L879.7,208.0L880.3,208.4L881.0,207.7L881.6,208.5L882.2,208.7L882.8,207.8L883.5,208.2L884.1,207.4L884.7,207.4L885.4,206.6L886.0,205.3L886.6,204.8L887.2,205.1L887.9,204.1L888.5,202.7L889.1,202.5L889.7,203.3L890.4,202.3L891.0,202.0L891.6,202.3L892.3,202.9L892.9,203.3L893.5,203.8L894.1,202.2L894.8,203.6L895.4,202.8L896.2,202.5L896.9,203.0L897.7,202.8L898.4,202.8L899.0,206.5L899.7,211.6L900.3,216.8L900.9,220.4L901.6,223.6L902.2,228.0L902.8,230.3L903.4,232.3L903.9,233.5L904.6,233.6L905.3,234.8L906.0,234.2L906.6,233.0L907.2,232.7L907.8,232.9L908.5,232.5L909.1,232.3L909.7,234.3L910.4,234.4L911.0,235.0L911.6,236.0L912.2,235.5L912.9,235.5L913.5,236.7L914.1,237.8L914.8,236.9L915.4,237.5L916.0,238.0L916.6,237.6L917.3,238.8L917.9,238.9L918.5,239.3L919.2,239.1L919.9,239.3L920.5,240.5L921.2,239.7L921.8,240.0L922.4,238.4L923.0,238.5L923.7,237.6L924.3,237.8L924.9,237.4L925.6,236.7L926.2,236.9L926.8,236.1L927.4,236.1L928.1,235.0L928.7,234.0L929.3,235.0L930.0,233.0L930.6,233.5L931.2,232.0L931.8,231.3L932.5,231.7L933.1,230.5L933.7,230.3L934.3,230.9L934.9,230.0L935.4,232.0L936.0,233.1L936.6,233.5L937.2,233.2L937.9,232.3L938.5,233.0L939.1,231.7L939.8,232.3L940.4,231.6L941.0,232.4L941.6,232.5L942.3,231.2L942.9,230.9L943.5,231.6L944.2,231.0L944.8,230.9L945.4,230.7L946.0,230.1L946.7,229.2L947.3,228.2L947.9,229.0L948.6,229.1L949.2,228.0L949.8,228.0L950.4,227.3L951.1,226.6L951.7,226.7L952.3,226.1L952.9,227.3L953.6,228.1L954.2,227.5L954.8,226.4L955.5,227.3L956.1,227.0L956.7,225.9L957.3,225.9L958.0,226.9L958.6,225.9L959.2,226.7L959.9,226.5L960.5,227.2L961.1,227.9L961.7,227.5L962.4,227.8L963.0,227.2L963.6,229.0L964.3,228.5L964.9,228.5L965.5,228.7L966.1,227.6L966.8,228.0L967.4,227.2L968.0,226.2L968.7,225.9L969.3,225.9L969.9,226.3L970.5,226.8L971.2,227.7L971.8,228.0L972.4,228.7L973.1,227.9L973.7,229.1L974.3,228.5L974.9,229.2L975.6,229.2L976.2,229.4L976.8,230.5L977.5,231.2L978.1,230.5L978.7,229.3L979.3,230.0L980.0,230.1L980.6,229.4L981.2,229.3L981.8,229.2L982.5,229.5L983.1,228.3L983.7,228.2L984.4,228.5L985.0,229.3L985.6,230.8L986.2,230.2L986.9,231.7L987.5,233.0L988.1,233.4L988.8,233.0L989.4,234.2L990.0,234.7L990.6,234.8L991.3,235.2L991.9,235.0L992.6,236.5L993.2,237.5L993.9,239.3L994.6,240.4L995.3,241.0L995.9,242.5L996.5,238.7L997.2,235.0L997.8,234.6L998.3,233.8L998.9,234.2L999.6,234.2L1000.3,234.8L1000.9,235.5L1001.6,234.5L1002.3,233.9L1003.0,233.0L1003.6,233.3L1004.2,232.3L1004.8,232.7L1005.5,232.5L1006.1,232.4L1006.7,232.5L1007.4,232.6L1008.0,233.5L1008.6,234.7L1009.2,235.0L1009.9,235.2L1010.5,235.0L1011.1,233.9L1011.8,233.4L1012.4,232.8L1013.0,233.0L1013.6,232.0L1014.3,231.6L1014.9,230.2L1015.5,230.5L1016.1,229.8L1016.8,229.8L1017.4,229.6L1018.0,228.5L1018.7,227.8L1019.3,227.3L1019.9,228.6L1020.5,228.0L1021.2,227.6L1021.8,227.4L1022.4,227.0L1023.1,227.5L1023.7,227.3L1024.3,227.5L1024.9,227.8L1025.6,228.5L1026.2,228.4L1026.8,229.2L1027.5,230.1L1028.1,230.0L1028.7,229.4L1029.3,229.3L1029.8,229.2L1030.4,230.9L1031.0,233.2L1031.6,234.2L1032.3,236.4L1032.9,238.5L1033.6,239.3L1034.3,240.1L1035.0,242.7L1035.6,243.5L1036.3,243.5L1036.9,244.4L1037.5,244.7L1038.1,245.0L1038.8,244.5L1039.4,243.5L1040.0,242.4L1040.7,242.5L1041.3,241.1L1041.9,242.3L1042.5,241.7L1043.2,240.5L1043.8,240.1L1044.4,239.2L1045.0,240.2L1045.7,239.3L1046.3,238.9L1046.9,238.6L1047.6,238.6L1048.2,238.0L1048.8,237.5L1049.4,237.7L1050.1,238.9L1050.7,238.5L1051.3,239.3L1052.0,240.1L1052.6,239.5L1053.2,240.0L1053.8,241.3L1054.5,241.6L1055.1,241.3L1055.7,241.8L1056.4,242.8L1057.0,241.8L1057.6,241.9L1058.2,243.0L1058.8,243.4L1059.4,242.0L1060.0,242.5L1060.7,244.4L1061.3,246.6L1062.0,248.1L1062.6,249.6L1063.2,250.1L1063.8,251.8L1064.4,252.0L1065.0,250.4L1065.7,251.0L1066.3,250.6L1066.9,251.8L1067.5,251.7L1068.2,251.7L1068.8,252.6L1069.4,254.9L1070.0,255.8L1070.6,256.9L1071.2,258.5L1071.9,259.7L1072.6,260.1L1073.2,261.5L1073.8,261.5L1074.4,262.6L1075.1,262.6L1075.7,263.1L1076.3,263.1L1077.0,263.6L1077.6,264.4L1078.2,264.6L1078.8,264.8L1079.5,266.5L1080.1,266.9L1080.7,267.2L1081.4,268.5L1082.0,267.4L1082.6,268.7L1083.3,267.7L1084.0,265.3L1084.6,264.4L1085.3,263.7L1086.0,263.2L1086.6,263.1L1087.3,265.5L1088.0,266.4L1088.6,267.7L1089.3,268.4L1090.0,268.8L1090.7,270.2L1091.3,269.2L1091.9,269.6L1092.5,270.5L1093.2,269.4L1093.8,269.6L1094.4,270.4L1095.1,271.0L1095.7,270.7L1096.3,269.7L1096.9,270.1L1097.6,270.1L1098.2,270.2L1098.9,270.5L1099.5,271.6L1100.2,272.7L1100.9,272.2L1101.5,270.4L1102.2,270.2L1102.8,270.1L1103.5,269.1L1104.1,269.3L1104.7,268.7L1105.4,268.6L1106.0,270.2L1106.6,270.0L1107.2,270.7L1107.9,271.8L1108.5,272.5L1109.1,272.3L1109.8,272.7L1110.4,272.3L1111.0,273.3L1111.6,274.9L1112.3,274.4L1112.9,275.3L1113.5,276.2L1114.2,276.3L1114.8,277.0L1115.4,277.3L1116.0,276.8L1116.7,275.8L1117.3,275.2L1117.9,276.0L1118.6,275.7L1119.2,276.2L1119.8,277.7L1120.4,277.6L1121.1,279.0L1121.7,279.7L1122.3,279.5L1122.9,279.8L1123.6,279.8L1124.2,278.1L1124.8,278.7L1125.5,277.6L1126.1,277.8L1126.7,277.1L1127.3,277.7L1128.0,277.9L1128.6,278.5L1129.2,278.4L1129.9,277.7L1130.5,276.9L1131.1,277.9L1131.7,277.8L1132.4,277.5L1133.0,278.8L1133.7,279.5L1134.4,280.7L1135.0,281.2L1135.6,283.3L1136.3,284.3L1136.9,284.5L1137.5,284.7L1138.2,284.2L1138.8,283.1L1139.4,283.7L1140.0,282.9L1140.7,282.4L1141.3,282.0L1141.9,282.0L1142.5,282.1L1143.2,283.5L1143.8,284.2L1144.4,284.5L1145.1,284.5L1145.7,286.5L1146.3,285.5L1146.9,287.0L1147.6,288.1L1148.2,287.8L1148.8,288.2L1149.5,288.3L1150.1,287.7L1150.7,288.4L1151.3,288.6L1152.0,287.8L1152.6,287.0L1153.2,286.7L1153.9,287.7L1154.5,287.0L1155.1,286.2L1155.7,285.7L1156.4,286.0L1157.0,285.8L1157.6,285.5L1158.3,285.9L1158.9,286.3L1159.5,287.0L1160.1,286.6L1160.8,288.2L1161.4,288.1L1162.0,288.3L1162.7,288.9L1163.3,288.5L1163.9,289.7L1164.5,289.5L1165.2,290.5L1165.8,290.8L1166.4,289.3L1167.1,290.3L1167.7,289.7L1168.3,289.2L1168.9,289.7L1169.6,289.5L1170.2,290.1L1170.8,290.3L1171.4,290.2L1172.1,290.8L1172.7,291.5L1173.3,290.7L1174.0,291.3L1174.6,290.3L1175.2,290.6L1175.8,291.4L1176.5,290.9L1177.1,292.0L1177.7,291.9L1178.4,291.9L1179.0,291.0L1179.6,291.3L1180.2,292.0L1180.9,291.6L1181.5,292.7L1182.1,293.3L1182.9,294.5L1183.6,295.3L1184.3,294.6L1184.9,293.4L1185.5,292.9L1186.1,292.8L1186.8,292.4L1187.4,292.7L1188.0,292.1L1188.7,292.0L1189.3,291.9L1189.9,292.6L1190.5,293.0L1191.2,293.8L1191.8,292.9L1192.4,293.4L1193.1,293.0L1193.7,292.8L1194.3,292.3L1194.9,291.5L1195.6,293.0L1196.2,292.0L1196.9,291.8L1197.5,292.5L1198.2,293.8L1199.0,295.7L1199.7,298.3L1200.5,301.3L1201.2,303.3L1201.9,304.8L1202.5,305.1L1203.1,304.7L1203.7,305.9L1204.4,307.2L1205.0,306.5L1205.6,307.4L1206.3,308.9L1206.9,307.9L1207.5,308.5L1208.1,308.3L1208.8,307.9L1209.4,307.7L1210.0,307.9L1210.7,307.2L1211.3,306.4L1211.9,306.7L1212.5,305.5L1213.2,306.7L1213.8,305.9L1214.4,306.3L1215.0,305.8L1215.7,304.2L1216.3,304.6L1216.9,304.4L1217.6,303.4L1218.2,302.8L1218.8,302.1L1219.4,301.2L1220.1,301.7L1220.7,301.3L1221.3,300.3L1222.0,300.9L1222.6,300.2L1223.2,301.1L1223.8,300.8L1224.5,300.6L1225.1,302.2L1225.7,301.5L1226.4,302.8L1227.0,302.2L1227.6,302.6L1228.2,303.9L1228.9,303.8L1229.5,304.6L1230.1,303.5L1230.8,303.7L1231.4,303.3L1232.0,303.4L1232.6,303.7L1233.3,303.8L1233.9,302.8L1234.5,303.7L1235.2,303.0L1235.8,302.8L1236.4,303.8L1237.0,304.3L1237.7,302.9L1238.3,303.6L1238.9,302.8L1239.5,303.9L1240.2,303.1L1240.8,303.6L1241.4,304.6L1242.1,304.3L1242.7,304.8L1243.3,304.7L1243.9,303.8L1244.6,305.2L1245.2,304.4L1245.8,305.6L1246.5,305.9L1247.1,307.8L1247.8,308.1L1248.5,309.6L1249.1,310.9L1249.8,311.3L1250.5,312.9L1251.1,313.7L1251.7,313.0L1252.4,313.2L1253.0,313.4L1253.6,313.5L1254.2,312.8L1254.9,313.6L1255.5,312.9L1256.1,313.6L1256.8,314.3L1257.4,315.6L1258.0,315.9L1258.6,316.3L1259.3,316.5L1259.9,317.0L1260.5,316.4L1261.2,316.1L1261.9,314.6L1262.5,313.9L1263.2,314.8L1263.9,315.9L1264.6,315.9L1265.2,315.9L1265.8,317.7L1266.4,318.2L1267.1,318.9L1267.7,318.3L1268.3,317.4L1269.0,317.2L1269.6,317.2L1270.2,317.3L1270.8,317.2L1271.5,317.1L1272.1,315.9L1272.8,314.5L1273.6,312.1L1274.3,313.1L1274.9,313.2L1275.6,312.9L1276.3,311.8L1276.9,312.2L1277.6,311.4L1278.3,312.7L1279.0,313.2L1279.6,313.4L1280.3,312.3L1281.0,312.4L1281.6,311.4L1282.3,311.7L1283.0,312.3L1283.7,312.9L1284.3,313.5L1285.0,313.5L1285.7,313.4L1286.3,311.9L1287.0,312.0L1287.7,310.9L1288.4,311.6L1289.2,313.9L1289.8,314.0L1290.5,315.8L1291.2,315.9L1291.5,321.2L1292.1,322.8L1292.8,322.4L1293.4,323.6L1294.1,324.7L1294.7,324.2L1295.3,325.3L1296.0,325.5L1296.6,325.5L1297.3,326.0L1297.9,324.7L1298.6,324.8L1299.2,324.3L1299.8,323.6L1300.5,323.4L1301.1,321.9L1301.8,321.0L1302.4,321.1L1303.1,321.2L1303.7,320.6L1304.3,321.2L1305.0,321.9L1305.6,321.0L1306.3,321.5L1306.9,320.5L1307.6,321.9L1308.2,321.3L1308.9,322.4L1309.5,323.3L1310.1,324.4L1310.8,325.3L1311.4,325.9L1312.1,327.4L1312.7,327.2L1313.4,328.4L1314.0,327.2L1314.6,328.4L1315.3,328.7L1315.9,329.3L1316.6,329.6L1317.2,329.1L1317.9,328.1L1318.5,327.2L1319.1,328.8L1319.8,328.4L1320.4,330.1L1321.1,329.9L1321.7,330.4L1322.4,329.6L1323.0,329.5L1323.6,329.9L1324.3,330.9L1324.9,331.6L1325.6,331.3L1326.2,332.5L1326.9,331.8L1327.5,330.3L1328.1,330.1L1328.8,329.2L1329.4,329.2L1330.1,329.2L1330.7,329.8L1331.4,329.7L1332.0,329.6L1332.6,329.2L1333.3,328.6L1333.9,327.7L1334.6,327.2L1335.2,327.9L1335.9,326.8L1336.5,326.1L1337.1,325.4L1337.8,324.3L1338.4,323.9L1339.1,324.5L1339.7,325.3L1340.4,325.1L1341.0,325.5L1341.6,324.3L1342.3,324.5L1342.9,323.1L1343.6,323.6L1344.2,324.4L1344.9,323.6L1345.5,324.3L1346.1,324.3L1346.8,323.3L1347.4,323.6L1348.1,322.6L1348.7,323.6L1349.4,322.9L1350.0,323.5L1350.6,324.4L1351.3,324.8L1351.9,325.6L1352.6,325.8L1353.2,326.0L1353.9,326.3L1354.5,326.5L1355.1,327.2L1355.8,326.6L1356.4,325.5L1357.1,325.3L1357.7,325.4L1358.4,326.8L1359.0,326.8L1359.7,326.2L1360.3,326.7L1360.9,326.0L1361.6,326.9L1362.2,327.1L1362.9,327.7L1363.5,328.5L1364.2,327.9L1364.8,328.4L1365.4,327.8L1366.1,329.5L1366.7,329.2L1367.4,329.8L1368.0,329.9L1368.7,329.6L1369.3,330.6L1369.9,329.8L1370.6,330.1L1371.2,329.8L1371.9,330.0L1372.5,329.6L1373.2,329.7L1374.0,328.4L1374.0,327.0L46.0,327.0Z" fill="rgba(127,140,141,0.46)"/>
</g>
<g fill="none" stroke-width="2" stroke-linejoin="miter" stroke-miterlimit="2">
<path d="M46.0,273.7L46.7,272.3L47.4,272.8L48.1,271.9L48.8,270.7L49.4,269.3L50.1,268.8L50.7,267.8L51.3,266.9L51.9,266.5L52.6,266.2L53.2,264.3L53.8,264.4L54.4,263.1L55.1,264.1L55.7,262.9L56.3,262.6L57.0,262.0L57.6,259.5L58.2,259.1L58.8,258.1L59.5,255.7L60.1,252.6L60.7,251.7L61.4,252.6L62.0,252.2L62.6,251.1L63.2,250.0L63.9,249.7L64.5,250.4L65.1,250.1L65.7,250.7L66.3,249.5L66.9,249.6L67.6,256.9L68.3,257.7L68.9,259.5L69.5,260.2L70.2,262.4L70.8,261.3L71.4,261.1L72.0,260.7L72.7,260.1L73.3,259.1L73.9,258.6L74.6,258.1L75.2,258.1L75.8,258.4L76.4,258.5L77.1,258.4L77.7,259.6L78.4,260.4L79.0,260.1L79.7,260.1L80.3,258.4L80.9,255.7L81.5,254.3L82.0,252.3L82.6,249.1L83.2,245.5L84.0,240.5L84.6,240.1L85.2,240.8L85.9,241.9L86.5,241.8L87.1,242.6L87.7,243.4L88.4,243.0L89.0,243.5L89.6,247.6L90.3,250.6L90.9,251.9L91.5,252.6L92.1,251.8L92.8,252.0L93.4,252.1L94.0,251.1L94.7,251.8L95.3,251.3L95.9,251.6L96.5,251.6L97.3,250.8L98.0,251.3L98.8,252.4L99.6,251.8L100.3,252.1L100.9,251.6L101.6,252.4L102.2,252.8L102.8,252.6L103.3,247.6L104.1,254.3L104.7,255.1L105.3,255.0L106.0,255.5L106.6,256.1L107.2,257.1L107.8,258.6L108.5,259.2L109.1,260.1L109.7,261.8L110.3,263.8L110.9,265.6L111.5,264.6L112.2,264.5L112.9,265.1L113.5,266.3L114.1,267.5L114.8,267.6L115.4,268.2L116.1,268.5L116.7,268.6L117.4,269.7L118.0,269.0L118.7,269.2L119.3,268.1L119.9,266.9L120.5,266.7L121.2,266.9L121.8,265.5L122.4,265.6L123.1,266.2L123.7,267.5L124.3,267.3L124.9,267.7L125.5,267.8L126.1,267.6L126.7,268.2L127.3,265.1L128.0,261.9L128.6,263.3L129.3,262.2L130.0,263.6L130.5,266.3L131.1,268.6L131.7,270.2L132.4,272.1L133.0,273.0L133.6,274.3L134.2,274.9L134.9,274.2L135.5,273.5L136.1,272.5L136.7,271.9L137.4,270.7L138.0,271.7L138.6,270.7L139.3,270.2L139.9,269.4L140.5,269.8L141.1,269.6L141.8,269.4L142.4,268.3L142.9,267.5L143.5,266.9L144.2,265.3L144.9,263.8L145.5,261.9L146.2,261.2L146.9,260.1L147.6,259.4L148.2,258.2L148.8,258.2L149.4,257.8L150.1,258.1L150.7,258.1L151.3,258.5L152.0,258.3L152.6,257.6L153.6,249.3L154.6,260.1L155.3,259.3L156.1,258.0L156.9,256.1L157.5,257.3L158.1,259.4L158.7,259.0L159.4,257.8L160.0,255.8L160.6,255.6L161.2,253.5L161.9,252.2L162.5,252.3L163.1,250.6L163.8,248.9L164.4,248.1L165.0,246.7L165.6,247.0L166.3,245.9L166.9,245.5L167.5,244.3L168.1,244.1L168.7,244.3L169.3,245.2L170.0,245.4L170.7,246.8L171.3,246.1L171.9,246.6L172.6,245.8L173.2,245.5L173.8,246.3L174.4,247.6L175.1,247.9L175.7,249.8L176.3,249.5L177.0,249.4L177.6,248.9L178.2,249.3L178.8,248.3L179.5,249.4L180.1,248.4L180.7,248.1L181.4,246.0L182.1,245.2L182.7,243.5L183.3,245.6L183.9,245.7L184.5,248.1L185.1,247.6L185.8,248.3L186.4,249.8L187.0,249.8L187.6,248.9L188.3,249.6L188.9,249.2L189.5,248.6L190.1,248.7L190.8,248.2L191.4,249.6L192.0,248.8L192.6,248.7L193.2,247.5L193.8,246.8L194.4,249.1L195.0,252.3L195.7,252.0L196.4,251.0L197.1,250.6L197.7,250.6L198.3,250.0L198.9,250.4L199.6,250.1L200.2,248.6L200.8,248.4L201.5,249.0L202.1,247.6L202.7,247.4L203.3,245.5L203.8,245.0L204.5,246.5L205.2,246.4L205.9,247.6L206.5,247.7L207.2,246.7L207.9,245.5L208.5,245.7L209.1,245.7L209.7,245.6L210.4,246.8L211.0,246.1L211.5,243.1L212.1,242.5L212.8,242.4L213.4,242.0L214.0,240.6L214.6,239.8L215.3,240.2L215.9,241.8L216.5,245.4L217.1,248.5L217.7,250.6L218.3,250.7L219.0,250.1L219.7,249.8L220.3,249.0L220.8,248.4L221.4,248.1L222.1,245.4L222.8,244.2L223.4,241.8L224.1,240.8L224.8,239.5L225.5,239.3L226.1,237.9L226.7,238.3L227.3,237.0L228.0,236.7L228.6,235.9L229.1,234.8L229.7,234.2L230.4,234.6L231.0,234.3L231.6,232.4L232.2,233.0L232.9,231.3L233.5,230.4L234.1,230.5L234.8,228.5L235.4,228.8L236.1,227.8L236.8,228.0L237.8,239.3L238.4,239.6L239.1,241.3L239.8,241.8L240.4,242.8L241.0,243.4L241.7,242.8L242.3,243.5L242.9,244.1L243.5,243.6L244.2,243.1L244.8,243.0L245.4,241.8L246.0,238.4L246.6,236.7L247.2,237.2L247.9,236.0L248.6,236.7L249.2,237.8L249.9,240.8L250.6,241.8L251.2,241.3L251.8,242.2L252.5,242.0L253.1,241.8L253.7,241.3L254.3,239.4L254.9,238.5L255.5,238.7L256.1,239.1L256.7,240.7L257.4,240.5L258.0,241.0L258.6,242.0L259.3,242.2L259.9,241.8L260.5,240.7L261.1,241.0L261.8,239.7L262.4,240.0L263.0,238.7L263.7,238.2L264.3,239.2L264.9,238.0L265.5,238.2L266.2,238.0L266.8,236.8L267.4,236.7L268.0,237.3L268.7,237.9L269.3,237.5L269.9,238.0L270.5,237.3L271.1,235.8L271.7,235.5L272.4,231.8L273.0,229.2L273.7,226.7L274.3,227.4L275.0,226.8L275.6,227.5L276.2,226.7L276.8,226.9L277.5,226.9L278.1,228.2L278.7,228.0L279.4,228.8L280.0,228.5L280.6,232.4L281.2,238.0L281.9,239.3L282.6,239.3L283.3,241.0L283.8,239.7L284.4,240.5L285.0,239.3L285.6,236.2L286.3,234.4L286.9,233.5L287.5,230.5L288.2,228.8L288.8,226.6L289.4,225.2L290.0,224.2L290.7,222.8L291.3,222.4L291.9,225.6L292.5,228.0L293.1,228.9L293.7,232.0L294.3,233.0L295.0,234.4L295.6,237.2L296.3,238.0L297.0,239.2L297.7,238.5L298.3,239.3L298.9,238.0L299.5,237.5L300.1,236.7L300.7,234.1L301.3,233.3L302.0,230.3L302.6,229.2L303.2,226.8L303.9,226.9L304.5,224.1L305.1,222.9L305.7,223.5L306.3,223.7L306.9,224.2L307.5,223.0L308.2,221.7L308.9,221.7L309.6,222.8L310.2,223.4L310.9,222.9L311.5,222.5L312.1,219.7L312.7,219.2L313.2,218.9L313.8,219.9L314.4,219.9L315.2,225.4L315.9,229.2L316.5,230.4L317.1,231.7L317.7,232.5L318.3,232.9L318.9,232.3L319.6,232.9L320.2,233.0L320.8,233.5L321.4,234.2L322.0,235.5L322.7,237.5L323.5,241.0L324.1,240.8L324.7,242.1L325.3,241.3L326.0,241.5L326.6,241.5L327.2,241.3L327.9,241.6L328.5,240.5L329.1,239.1L329.7,237.7L330.2,236.7L330.9,235.1L331.5,233.7L332.1,233.2L332.8,231.2L333.4,232.1L334.0,231.1L334.6,231.3L335.3,231.7L335.9,231.5L336.5,231.2L337.2,231.0L337.8,230.5L338.4,229.8L339.0,229.2L339.7,229.4L340.3,229.7L341.0,228.8L341.8,229.6L342.6,228.6L343.3,229.2L343.9,233.8L344.6,240.0L345.2,240.4L345.9,240.0L346.6,240.5L347.2,240.5L347.8,239.5L348.5,239.7L349.1,238.5L349.7,238.1L350.3,238.9L351.0,239.6L351.6,239.3L352.2,237.9L352.9,238.8L353.5,236.8L354.1,236.7L354.8,236.4L355.5,235.9L356.1,234.2L356.7,235.2L357.3,234.7L357.9,235.5L358.5,233.8L359.1,233.5L359.6,232.5L360.3,234.7L361.0,235.0L361.7,236.7L362.3,238.1L362.9,237.4L363.5,239.4L364.2,239.3L364.8,238.7L365.4,239.6L366.1,240.9L366.7,240.5L367.3,240.8L367.9,240.6L368.6,240.2L369.2,239.3L369.8,239.1L370.5,238.3L371.1,236.8L371.7,236.7L372.3,235.4L373.0,233.6L373.6,233.4L374.2,231.7L374.8,231.0L375.5,229.1L376.1,227.7L376.7,227.5L377.4,227.9L378.0,227.3L378.6,226.4L379.2,225.9L380.0,223.4L380.6,224.0L381.3,225.1L381.9,224.9L382.5,225.4L383.1,225.6L383.8,225.8L384.4,225.9L385.0,226.7L385.7,225.4L386.3,226.1L386.9,225.2L387.5,224.9L388.2,224.9L388.8,223.8L389.4,224.1L390.1,224.2L390.7,222.5L391.3,221.4L391.9,220.5L392.6,219.9L393.2,219.9L393.8,218.5L394.4,217.8L395.1,217.4L395.7,217.1L396.3,215.9L397.0,215.0L397.6,215.4L398.2,214.9L398.8,214.4L399.5,214.1L400.1,213.4L400.7,212.4L401.4,212.0L402.0,211.2L402.6,209.9L403.2,209.8L403.9,210.7L404.5,211.1L405.1,211.6L405.8,211.6L406.4,212.3L407.0,213.0L407.6,213.4L408.3,213.1L409.0,212.1L409.7,210.4L410.4,207.7L411.2,205.8L411.9,208.4L412.7,210.4L413.3,207.5L414.0,205.4L414.7,204.1L415.3,204.5L415.9,205.6L416.6,204.8L417.2,205.8L417.8,206.9L418.4,207.8L419.1,207.4L419.7,208.4L420.3,207.9L420.9,207.3L421.5,205.8L422.0,202.5L422.6,200.0L423.2,196.5L423.9,195.3L424.6,193.4L425.2,191.5L425.9,195.9L426.5,199.1L427.1,200.6L427.7,201.5L428.4,201.6L429.0,202.3L429.6,203.2L430.2,204.7L430.8,206.6L431.4,205.5L432.1,205.5L432.8,204.8L433.4,204.9L434.0,203.3L434.7,204.0L435.3,203.3L435.9,204.3L436.5,204.3L437.2,205.2L437.8,205.8L438.4,205.6L439.1,207.0L439.7,206.1L440.3,207.3L440.9,207.7L441.6,206.9L442.2,206.1L442.8,205.3L443.5,204.1L444.2,204.4L444.8,202.8L445.5,203.3L446.1,201.5L446.7,202.4L447.3,201.6L448.0,202.6L448.6,202.7L449.2,203.2L449.9,203.3L450.5,204.5L451.1,205.8L451.9,216.6L452.6,217.0L453.4,216.7L454.1,215.4L454.8,214.7L455.4,214.9L456.0,213.8L456.6,213.4L457.3,212.3L457.9,212.2L458.5,211.4L459.2,211.6L459.8,212.0L460.4,211.8L461.0,210.0L461.7,210.4L462.3,210.2L462.9,209.6L463.6,208.7L464.2,209.1L464.8,208.3L465.4,207.8L466.1,208.2L466.7,207.3L467.3,206.1L468.0,206.0L468.6,206.1L469.2,205.8L469.8,203.9L470.5,203.9L471.1,202.8L471.7,201.6L472.4,201.7L473.0,200.2L473.6,199.9L474.2,199.8L474.9,199.7L475.5,199.0L476.1,199.4L476.7,199.1L477.4,198.2L478.0,198.5L478.6,198.3L479.3,197.3L479.9,197.7L480.5,197.8L481.1,196.8L481.8,196.5L482.4,196.2L483.0,196.6L483.7,196.1L484.3,195.3L484.9,194.9L485.5,194.1L486.2,193.4L486.8,193.3L487.4,192.4L488.1,193.6L488.7,192.2L489.3,192.8L489.9,193.5L490.6,193.5L491.2,194.6L491.8,194.0L492.4,194.7L493.0,195.4L493.6,194.8L494.3,198.8L495.1,204.1L495.7,205.8L496.3,207.6L496.9,209.1L497.4,210.0L498.0,211.6L498.6,212.9L499.3,213.5L500.0,214.6L500.6,215.4L501.2,214.0L501.9,214.3L502.5,213.8L503.1,213.4L503.8,212.6L504.4,212.3L505.0,212.6L505.6,211.6L506.3,210.7L507.0,209.1L507.7,207.8L508.3,207.9L509.0,207.3L509.7,207.3L510.4,208.9L511.2,211.6L511.8,211.0L512.4,211.8L513.1,212.7L513.7,212.9L514.3,213.9L514.9,214.1L515.6,213.8L516.2,214.1L516.9,214.4L517.5,212.9L518.2,212.4L518.8,212.3L519.5,211.0L520.1,210.9L520.7,209.9L521.4,210.1L522.0,208.3L522.6,207.4L523.2,207.3L523.9,206.4L524.5,205.1L525.1,203.7L525.8,202.8L526.4,202.1L527.0,202.9L527.6,203.1L528.3,203.3L528.9,202.7L529.5,203.1L530.1,202.2L530.8,201.6L531.4,201.7L532.0,201.7L532.7,201.1L533.3,200.3L533.9,200.6L534.5,201.4L535.2,201.5L535.8,201.6L536.4,206.9L537.1,211.6L537.7,212.5L538.3,212.7L538.9,213.7L539.6,214.1L540.2,214.1L540.8,214.3L541.5,213.7L542.1,212.9L542.7,212.0L543.3,210.3L543.8,208.4L544.5,208.3L545.2,207.4L545.9,206.6L546.5,205.9L547.1,205.3L547.7,205.6L548.4,204.8L549.0,204.4L549.7,202.7L550.4,201.6L551.0,201.8L551.5,203.8L552.1,204.1L552.8,203.9L553.4,203.6L554.0,202.7L554.6,203.3L555.3,203.5L555.9,204.1L556.5,203.8L557.2,204.1L557.8,204.0L558.4,204.7L559.0,203.8L559.7,204.8L560.3,205.0L560.9,205.9L561.6,205.6L562.2,205.3L562.8,203.9L563.4,203.2L563.9,201.6L564.7,199.2L565.5,196.5L566.1,195.8L566.7,195.6L567.3,196.7L568.0,195.8L568.6,195.1L569.2,194.5L569.9,195.6L570.5,194.8L571.1,194.2L571.7,193.2L572.2,192.8L572.8,193.8L573.4,195.2L574.0,195.8L574.6,194.9L575.3,195.6L575.9,195.4L576.5,194.8L577.1,195.2L577.8,194.0L578.4,194.4L579.0,194.0L579.7,193.2L580.3,193.5L580.9,192.5L581.5,192.8L582.3,194.5L583.0,195.3L583.6,194.7L584.2,192.5L584.8,191.5L585.4,191.2L586.1,192.7L586.7,192.5L587.3,192.3L587.9,192.4L588.6,190.4L589.2,191.5L589.8,190.3L590.5,189.9L591.1,188.7L591.7,188.3L592.3,187.7L593.0,188.1L593.6,188.0L594.2,186.8L594.9,187.2L595.5,187.3L596.1,186.3L596.7,187.5L597.4,186.5L598.0,186.2L598.6,186.9L599.3,186.3L599.9,185.7L600.5,185.5L601.1,184.4L601.8,184.5L602.4,184.0L603.0,182.3L603.7,181.2L604.3,181.2L604.9,179.7L605.5,179.6L606.2,180.4L606.8,179.6L607.4,180.2L608.0,179.9L608.6,179.3L609.2,178.2L609.8,177.7L610.5,177.2L611.2,177.7L611.8,176.9L612.4,176.4L613.1,175.1L613.7,175.2L614.4,174.2L615.0,173.5L615.7,173.9L616.3,175.4L616.9,177.1L617.5,177.7L618.1,178.1L618.7,178.7L619.4,180.9L620.0,181.5L620.6,182.6L621.2,183.5L621.7,183.2L622.5,181.3L623.3,179.0L623.9,177.7L624.5,177.7L625.1,175.4L625.8,175.2L626.4,174.6L627.0,172.6L627.6,172.2L628.3,171.4L628.9,170.3L629.5,169.0L630.0,168.1L630.7,167.3L631.3,167.2L631.9,168.0L632.5,167.1L633.2,167.5L633.8,168.2L634.4,167.9L635.1,168.9L635.7,169.1L636.3,168.2L636.9,168.5L637.6,168.1L638.2,169.4L638.8,170.0L639.5,168.8L640.1,170.2L640.7,171.0L641.3,171.4L642.0,170.8L642.6,171.4L643.2,171.0L643.9,171.2L644.5,171.6L645.1,170.7L645.7,171.1L646.3,172.7L646.9,172.7L647.6,170.6L648.4,167.6L649.0,165.2L649.6,164.7L650.1,162.1L650.8,160.7L651.4,160.5L652.0,160.9L652.7,160.1L653.3,159.8L653.9,160.9L654.5,160.9L655.2,162.1L655.8,162.3L656.4,163.2L657.1,163.6L657.7,163.1L658.3,162.8L658.9,163.3L659.6,165.2L660.2,165.1L660.8,164.2L661.4,164.5L662.1,164.1L662.7,164.6L663.3,164.0L664.0,164.0L664.6,165.3L665.2,165.1L665.8,165.7L666.5,165.7L667.1,166.1L667.7,165.6L668.4,169.4L669.0,172.7L669.7,173.3L670.3,174.6L671.0,175.2L671.6,175.9L672.3,175.2L672.9,174.3L673.5,174.7L674.1,174.0L674.8,175.7L675.4,175.2L676.0,175.2L676.7,174.2L677.3,173.9L677.9,173.0L678.5,172.2L679.2,172.0L679.8,171.0L680.4,171.3L681.0,171.4L681.7,171.1L682.3,170.5L682.9,171.5L683.6,170.7L684.1,170.4L684.7,170.6L685.3,170.2L685.9,168.3L686.6,165.6L687.2,166.6L687.9,167.0L688.6,167.1L689.2,167.8L689.8,167.0L690.3,167.6L691.0,167.6L691.6,165.1L692.2,165.6L692.9,163.9L693.5,163.1L694.1,161.6L694.7,158.7L695.4,158.1L696.0,156.9L696.6,157.8L697.3,156.7L697.9,156.3L698.6,155.0L699.2,155.0L699.9,153.1L700.5,153.3L701.1,155.3L701.7,156.3L702.3,156.4L702.9,156.0L703.5,156.7L704.2,157.1L704.8,157.3L705.4,157.4L706.1,155.7L706.7,156.3L707.4,156.4L708.0,155.6L708.7,156.3L709.3,158.6L709.9,158.9L710.5,161.4L711.1,161.0L711.7,162.0L712.3,163.1L713.0,163.1L713.6,163.2L714.2,163.2L714.8,164.8L715.5,164.6L716.1,165.4L716.7,165.8L717.4,165.0L718.0,165.6L718.7,165.5L719.3,165.2L720.0,165.6L720.6,166.6L721.3,167.0L721.9,167.8L722.5,168.9L723.1,169.8L723.8,170.6L724.4,170.4L725.0,170.7L725.7,169.7L726.3,170.4L726.9,169.8L727.5,169.7L728.2,170.0L728.9,169.0L729.5,168.1L730.1,167.3L730.7,165.7L731.3,163.9L731.9,162.7L732.6,162.1L733.2,160.7L733.8,158.8L734.4,157.5L735.1,156.3L735.7,155.8L736.3,155.1L737.0,154.8L737.6,153.7L738.2,153.9L738.8,153.8L739.5,153.6L740.1,152.4L740.7,153.4L741.4,152.6L742.0,152.3L742.6,151.2L743.2,150.7L743.9,150.6L744.5,150.5L745.1,150.6L745.8,151.6L746.4,151.3L747.0,150.9L747.6,150.5L748.1,150.1L748.9,148.4L749.7,148.0L750.7,160.1L751.3,161.7L752.0,161.5L752.7,162.6L753.3,161.9L754.0,161.0L754.7,161.4L755.3,160.3L755.9,157.5L756.4,155.6L757.1,156.2L757.7,156.1L758.3,156.0L759.0,155.1L759.6,156.0L760.2,156.5L760.8,156.8L761.5,156.3L762.1,155.8L762.7,153.5L763.3,153.2L764.0,152.1L764.6,151.5L765.1,151.6L765.7,150.1L766.4,150.9L767.0,151.0L767.6,151.4L768.2,151.3L768.9,151.4L769.5,152.7L770.1,152.5L770.8,152.6L771.4,152.7L772.0,153.1L772.6,154.4L773.3,153.8L773.9,154.3L774.6,154.1L775.3,155.1L775.9,154.6L776.5,155.7L777.2,155.6L777.8,155.6L778.5,155.7L779.1,153.8L779.8,153.8L780.4,152.2L781.0,151.4L781.6,149.5L782.2,147.9L782.8,147.2L783.5,147.2L784.1,146.3L784.7,145.6L785.3,145.1L785.8,145.5L786.5,146.2L787.2,147.9L787.8,148.8L788.5,149.2L789.1,148.7L789.7,149.0L790.4,150.1L791.0,150.4L791.6,149.7L792.2,148.5L792.9,148.8L793.5,149.6L794.1,148.3L794.8,149.1L795.4,149.5L796.0,150.0L796.6,149.6L797.3,148.6L797.9,148.8L798.5,149.9L799.2,149.9L799.8,150.8L800.4,150.6L801.0,151.0L801.7,149.9L802.3,150.1L802.9,149.5L803.6,150.1L804.2,151.2L804.8,151.4L805.4,151.3L806.1,151.5L806.7,151.5L807.3,151.6L808.0,150.6L808.6,151.2L809.3,152.2L810.0,153.8L810.6,154.7L811.2,155.2L811.8,155.2L812.5,155.6L813.1,155.7L813.7,155.8L814.4,156.8L815.0,156.3L815.6,156.6L816.2,155.9L816.9,154.6L817.5,155.1L818.1,155.6L818.8,154.8L819.4,154.1L820.0,154.6L820.6,153.8L821.3,154.2L821.9,152.6L822.5,153.1L823.1,153.1L823.7,154.1L824.3,155.1L824.9,155.9L825.5,155.8L826.2,156.3L826.8,155.6L827.4,156.7L828.0,157.9L828.6,158.8L829.2,160.6L829.9,162.2L830.6,163.9L831.2,164.3L831.8,165.1L832.5,165.6L833.1,165.1L833.8,166.6L834.4,168.7L835.1,170.2L835.7,170.1L836.3,170.4L837.0,171.1L837.6,171.4L838.2,171.4L838.9,171.1L839.5,171.7L840.1,170.7L840.7,170.9L841.4,172.5L842.0,174.0L842.6,173.9L843.2,173.9L843.8,173.2L844.4,172.7L845.0,171.2L845.6,170.0L846.3,169.7L846.9,167.6L847.5,170.0L848.1,171.3L848.7,172.7L849.3,174.2L850.0,175.1L850.7,175.2L851.3,176.3L851.9,176.0L852.6,176.6L853.2,177.2L853.8,178.0L854.4,177.5L855.1,178.4L855.7,178.2L856.3,178.0L857.0,177.7L857.6,177.7L858.2,177.7L858.9,178.3L859.6,179.9L860.2,181.5L860.8,182.6L861.4,183.1L862.0,185.2L862.6,185.0L863.2,185.4L863.9,186.8L864.5,186.5L865.1,186.8L865.8,186.5L866.4,188.0L867.0,187.2L867.6,186.5L868.3,186.6L868.9,186.7L869.5,186.0L870.1,186.8L870.8,186.7L871.4,187.8L872.0,187.7L872.7,188.3L873.3,189.4L873.9,189.6L874.5,190.3L875.2,191.7L875.8,191.9L876.4,191.4L877.1,192.8L877.7,192.2L878.3,193.9L878.9,192.7L879.6,193.3L880.2,192.0L880.8,192.0L881.5,191.9L882.1,191.5L882.7,191.4L883.3,189.4L884.0,189.1L884.6,187.7L885.2,188.0L885.9,186.4L886.5,187.0L887.1,186.5L887.7,187.6L888.4,187.0L889.0,187.1L889.6,187.2L890.2,186.3L890.8,186.7L891.4,185.2L892.1,186.7L892.7,185.9L893.4,187.2L894.0,187.3L894.6,187.0L895.3,187.4L895.9,187.0L896.5,186.4L897.2,186.7L897.8,186.8L898.4,187.2L899.0,192.5L899.7,197.8L900.3,202.7L900.9,206.6L901.6,211.0L902.2,214.1L902.8,217.2L903.4,219.5L903.9,221.7L904.6,220.7L905.3,221.0L906.0,220.9L906.6,221.0L907.2,220.0L907.8,220.2L908.5,219.9L909.1,220.5L909.7,218.8L910.4,220.0L911.0,219.2L911.6,218.3L912.2,218.6L912.9,219.3L913.5,218.4L914.1,218.2L914.8,219.2L915.4,219.4L916.0,219.9L916.6,220.7L917.3,221.0L917.9,219.9L918.5,220.4L919.1,221.1L919.7,222.5L920.3,222.4L921.0,226.7L921.7,225.9L922.4,224.5L923.0,224.2L923.6,223.8L924.2,222.2L924.8,221.7L925.4,221.2L926.1,219.9L926.7,221.2L927.3,219.9L927.9,219.8L928.6,219.9L929.2,219.6L929.8,218.4L930.5,217.7L931.1,218.0L931.7,217.5L932.3,217.4L933.0,217.5L933.6,217.3L934.2,215.8L934.9,215.9L935.5,215.4L936.1,216.0L936.7,215.4L937.4,215.4L938.0,215.2L938.6,215.8L939.3,217.0L939.9,217.4L940.5,217.8L941.1,218.7L941.8,218.2L942.4,218.4L943.0,218.2L943.7,216.9L944.3,216.9L944.9,216.6L945.5,215.9L946.2,216.4L946.8,215.3L947.4,215.4L948.0,214.0L948.6,213.5L949.2,212.9L949.8,211.8L950.5,210.6L951.2,209.9L951.8,209.9L952.4,208.9L953.1,210.0L953.7,209.1L954.3,209.8L955.0,209.8L955.6,209.3L956.2,210.4L956.8,210.4L957.5,211.3L958.1,211.6L958.7,211.6L959.4,212.4L960.0,212.7L960.6,211.9L961.2,212.4L961.9,213.0L962.5,213.3L963.1,213.6L963.8,214.9L964.4,214.4L965.0,214.7L965.6,214.5L966.3,215.4L966.9,214.6L967.6,214.1L968.3,212.9L968.9,212.7L969.5,212.6L970.2,211.4L970.8,211.6L971.4,210.9L972.0,211.4L972.7,211.7L973.3,210.9L973.9,210.6L974.6,209.7L975.2,209.6L975.8,210.4L976.4,210.1L977.1,210.8L977.7,210.0L978.3,210.9L979.0,210.1L979.6,210.7L980.2,211.0L980.8,209.9L981.5,209.7L982.1,210.3L982.7,210.3L983.4,210.4L984.0,208.9L984.6,208.8L985.2,207.8L985.9,207.8L986.5,208.2L987.0,210.0L987.6,210.4L988.3,211.3L988.9,210.8L989.5,211.5L990.1,212.9L990.8,212.3L991.4,210.3L992.0,209.7L992.7,209.1L993.3,208.3L993.9,207.4L994.5,206.9L995.2,207.3L995.8,204.4L996.4,202.8L996.9,193.3L997.9,199.8L998.7,199.8L999.4,200.9L1000.2,200.3L1000.8,200.4L1001.4,199.6L1002.1,200.3L1002.7,199.8L1003.3,199.5L1004.0,200.1L1004.6,199.9L1005.2,200.3L1005.8,201.4L1006.5,200.7L1007.1,201.8L1007.7,201.6L1008.4,202.4L1009.0,203.4L1009.6,203.6L1010.2,204.1L1010.9,204.9L1011.5,204.3L1012.1,205.0L1012.8,204.8L1013.4,204.4L1014.0,203.6L1014.6,203.1L1015.3,202.3L1015.9,201.9L1016.5,201.1L1017.2,201.5L1017.8,200.3L1018.4,200.0L1019.0,199.4L1019.7,198.0L1020.3,198.3L1020.9,198.5L1021.6,198.1L1022.2,198.4L1022.8,199.1L1023.4,199.1L1024.1,199.5L1024.7,199.2L1025.3,199.8L1025.9,199.4L1026.6,199.9L1027.2,199.8L1027.8,199.8L1028.5,199.8L1029.1,199.3L1029.7,200.0L1030.3,200.3L1031.0,203.4L1031.6,205.8L1032.2,206.1L1032.9,206.3L1033.5,207.0L1034.1,206.6L1034.7,207.2L1035.4,207.3L1036.0,206.3L1036.6,207.3L1037.3,207.4L1037.9,208.6L1038.5,208.0L1039.1,209.1L1039.8,210.3L1040.4,209.3L1041.0,211.1L1041.7,210.9L1042.3,210.7L1042.9,212.2L1043.5,212.6L1044.2,212.4L1044.8,211.9L1045.4,212.7L1046.1,211.2L1046.7,211.6L1047.3,212.6L1047.9,212.0L1048.6,212.5L1049.2,212.9L1049.8,212.0L1050.5,212.7L1051.1,211.9L1051.7,212.1L1052.3,212.7L1053.0,213.3L1053.6,213.3L1054.2,213.4L1054.8,212.2L1055.5,213.7L1056.1,213.4L1056.7,212.4L1057.4,212.7L1058.0,212.4L1058.7,212.8L1059.3,213.5L1060.0,212.9L1060.6,212.9L1061.3,213.6L1061.9,213.4L1062.5,213.4L1063.2,214.7L1063.9,217.2L1064.5,217.9L1065.1,219.0L1065.7,220.6L1066.3,221.7L1066.9,221.1L1067.5,222.0L1068.2,221.4L1068.8,222.4L1069.5,229.2L1070.2,229.3L1070.8,227.7L1071.4,227.4L1072.1,228.0L1072.7,226.9L1073.3,226.7L1073.9,227.0L1074.6,226.7L1075.2,226.1L1075.8,225.7L1076.5,226.6L1077.1,225.4L1077.7,226.3L1078.3,226.0L1079.0,226.4L1079.6,225.9L1080.2,226.3L1080.9,225.0L1081.5,225.7L1082.1,224.9L1082.7,224.3L1083.4,224.7L1084.0,224.1L1084.6,224.2L1085.3,223.8L1085.9,225.1L1086.5,225.5L1087.1,224.9L1087.8,225.0L1088.4,226.5L1089.0,226.0L1089.7,226.7L1090.3,227.2L1090.9,228.0L1091.5,227.8L1092.2,227.5L1092.8,227.3L1093.4,228.6L1094.1,229.1L1094.7,230.0L1095.3,229.8L1095.9,231.0L1096.6,230.6L1097.2,231.0L1097.8,231.1L1098.4,230.7L1099.1,230.2L1099.7,230.0L1100.3,229.0L1101.0,229.9L1101.6,230.1L1102.2,229.2L1102.8,229.7L1103.4,231.6L1104.0,232.5L1104.6,232.6L1105.2,232.4L1105.9,233.2L1106.5,233.0L1107.1,233.7L1107.7,231.9L1108.4,233.3L1109.0,232.5L1109.6,232.4L1110.3,233.3L1110.9,232.3L1111.5,233.0L1112.1,232.7L1112.8,231.0L1113.4,230.8L1114.0,230.5L1114.7,231.2L1115.3,230.5L1115.9,230.6L1116.5,230.0L1117.2,230.3L1117.8,230.8L1118.4,231.3L1119.1,231.7L1119.7,232.0L1120.3,231.7L1120.9,230.6L1121.6,231.0L1122.2,230.7L1122.8,230.8L1123.5,230.7L1124.1,230.5L1124.7,231.5L1125.3,231.7L1126.0,230.8L1126.6,231.7L1127.2,232.1L1127.8,232.3L1128.5,232.8L1129.1,234.2L1129.7,233.3L1130.4,233.3L1131.0,234.1L1131.6,233.5L1132.2,235.1L1132.8,236.7L1133.4,237.5L1134.0,237.2L1134.6,237.1L1135.3,238.7L1135.9,238.0L1136.5,238.1L1137.1,237.8L1137.8,235.6L1138.4,236.0L1139.0,236.0L1139.7,236.6L1140.3,237.0L1140.9,236.7L1141.5,237.2L1142.2,236.2L1142.8,235.6L1143.4,235.5L1144.1,234.7L1144.7,236.3L1145.3,236.7L1145.9,236.0L1146.6,237.6L1147.3,238.0L1148.0,238.5L1148.6,238.6L1149.2,238.8L1149.8,240.1L1150.5,240.0L1151.1,241.0L1151.7,241.3L1152.4,240.2L1153.0,241.0L1153.6,241.0L1154.3,240.7L1155.0,240.5L1155.6,241.6L1156.2,243.6L1156.7,244.3L1157.3,246.2L1157.9,246.9L1158.5,247.6L1159.1,248.4L1159.8,248.8L1160.4,249.1L1161.0,249.3L1161.6,249.7L1162.3,249.5L1162.9,250.8L1163.5,250.6L1164.2,249.6L1164.8,250.2L1165.4,249.4L1166.0,249.3L1166.7,249.0L1167.3,248.7L1167.9,248.0L1168.6,247.6L1169.2,248.9L1169.8,248.0L1170.4,248.0L1171.1,249.3L1171.7,249.9L1172.3,248.6L1173.0,248.3L1173.6,248.6L1174.2,248.9L1174.8,249.7L1175.5,250.9L1176.1,250.6L1176.7,251.1L1177.4,250.5L1178.0,251.0L1178.6,251.1L1179.2,250.9L1179.9,250.8L1180.5,250.5L1181.1,250.6L1181.8,250.3L1182.4,251.0L1183.0,251.3L1183.6,251.8L1184.3,251.4L1184.9,252.6L1185.5,252.0L1186.1,252.3L1186.8,250.9L1187.4,250.9L1188.0,250.7L1188.7,249.3L1189.3,249.6L1189.9,249.2L1190.5,249.2L1191.2,248.6L1191.8,248.6L1192.4,248.7L1193.1,249.2L1193.7,250.1L1194.3,249.9L1194.9,249.9L1195.6,250.4L1196.2,250.6L1196.8,249.4L1197.5,248.9L1198.1,248.6L1198.7,248.6L1199.3,247.9L1200.0,248.9L1200.6,248.2L1201.2,248.1L1201.9,247.6L1202.5,248.2L1203.1,249.1L1203.7,248.6L1204.5,251.0L1205.2,253.1L1205.9,252.6L1206.5,251.6L1207.1,250.6L1207.8,250.6L1208.4,251.1L1209.0,250.4L1209.6,252.0L1210.3,251.8L1210.9,251.3L1211.5,252.9L1212.2,252.6L1212.8,253.1L1213.4,252.9L1214.0,252.2L1214.7,250.9L1215.3,251.1L1215.9,250.9L1216.6,249.8L1217.2,249.9L1217.8,250.1L1218.4,251.0L1219.0,252.0L1219.6,253.6L1220.2,253.4L1220.8,253.6L1221.5,252.0L1222.1,251.8L1222.7,252.6L1223.3,251.7L1224.0,252.8L1224.6,252.6L1225.2,251.9L1225.9,251.9L1226.5,250.7L1227.1,251.1L1227.7,252.0L1228.4,251.2L1229.0,251.9L1229.6,252.3L1230.3,252.1L1230.9,253.3L1231.5,253.1L1232.1,253.1L1232.8,252.8L1233.4,252.5L1234.0,251.1L1234.6,251.1L1235.3,250.2L1235.9,251.4L1236.5,250.4L1237.2,250.6L1237.8,251.3L1238.4,251.6L1239.0,251.2L1239.7,251.1L1240.3,250.1L1240.9,251.2L1241.6,250.6L1242.2,250.1L1242.8,249.7L1243.4,249.8L1244.1,250.5L1244.7,250.6L1245.3,249.6L1246.0,250.7L1246.6,250.0L1247.2,249.3L1247.8,250.5L1248.5,250.4L1249.1,252.0L1249.7,251.8L1250.4,251.5L1251.0,252.8L1251.6,252.3L1252.2,253.1L1252.9,252.3L1253.5,252.7L1254.1,252.9L1254.8,253.6L1255.4,254.2L1256.0,253.7L1256.6,254.1L1257.3,254.3L1257.9,254.7L1258.5,254.3L1259.2,255.2L1259.8,255.1L1260.4,258.8L1261.0,261.9L1261.7,261.4L1262.4,259.4L1263.0,258.1L1263.6,259.4L1264.2,260.3L1264.8,260.1L1265.4,261.0L1266.1,260.9L1266.7,261.0L1267.3,261.9L1267.9,260.8L1268.6,261.8L1269.2,260.3L1269.8,260.6L1270.5,260.6L1271.1,260.3L1271.7,259.4L1272.3,260.1L1272.9,258.3L1273.5,258.0L1274.1,256.1L1274.8,257.0L1275.4,258.5L1276.1,258.6L1276.8,258.3L1277.5,255.9L1278.1,255.6L1278.8,255.6L1279.4,254.1L1280.0,254.5L1280.6,254.3L1281.3,253.9L1281.9,254.5L1282.5,253.6L1283.1,253.1L1283.8,252.2L1284.4,252.5L1285.0,252.2L1285.7,251.8L1286.3,250.7L1286.9,250.3L1287.5,250.6L1288.2,249.3L1288.8,251.3L1289.3,252.0L1289.9,252.6L1290.6,251.6L1291.2,252.9L1291.8,251.9L1292.4,251.8L1293.0,253.0L1293.6,252.4L1294.2,253.6L1294.9,254.3L1295.5,257.0L1296.2,257.6L1296.9,256.1L1297.6,254.6L1298.2,254.3L1298.9,254.0L1299.5,254.6L1300.1,254.0L1300.7,253.1L1301.4,252.2L1302.1,252.6L1302.7,251.1L1303.5,255.1L1304.3,258.1L1304.9,259.7L1305.6,260.4L1306.3,261.1L1306.9,260.7L1307.5,261.4L1308.2,260.3L1308.8,260.1L1309.4,260.4L1310.0,259.2L1310.7,259.3L1311.3,258.1L1311.9,257.8L1312.5,257.3L1313.2,257.3L1313.8,256.9L1314.4,257.2L1315.1,257.5L1315.7,258.9L1316.3,259.4L1316.9,259.7L1317.6,258.3L1318.2,259.1L1318.8,258.1L1319.5,257.7L1320.1,256.7L1320.7,255.1L1321.3,254.3L1322.0,254.6L1322.6,253.6L1323.2,252.6L1323.9,251.8L1324.5,250.9L1325.1,251.6L1325.7,250.4L1326.4,251.1L1327.0,252.3L1327.6,251.8L1328.3,252.3L1328.9,253.1L1329.5,253.3L1330.1,253.6L1330.8,253.6L1331.4,253.6L1332.0,256.1L1332.6,258.9L1333.2,261.1L1333.8,260.7L1334.5,259.0L1335.2,258.1L1335.8,256.6L1336.4,255.1L1337.1,256.1L1337.7,255.1L1338.3,255.8L1338.9,256.9L1339.6,256.3L1340.2,256.0L1340.8,257.0L1341.4,256.1L1342.1,255.7L1342.7,255.8L1343.3,256.3L1344.0,256.9L1344.6,256.7L1345.2,257.2L1345.8,257.4L1346.5,256.3L1347.1,257.7L1347.8,258.1L1348.5,258.6L1349.1,256.4L1349.7,255.0L1350.2,254.3L1350.8,253.5L1351.4,252.7L1352.0,251.1L1352.6,250.8L1353.3,252.3L1353.9,251.7L1354.5,251.8L1355.1,251.6L1355.8,251.4L1356.4,250.1L1357.0,250.6L1357.7,250.3L1358.3,252.0L1358.9,251.1L1359.5,251.8L1360.2,250.9L1360.8,251.1L1361.4,251.7L1362.1,251.1L1362.7,250.8L1363.3,250.9L1363.9,251.2L1364.6,251.8L1365.2,251.5L1365.8,251.6L1366.5,250.5L1367.1,250.6L1367.7,251.4L1368.3,251.7L1369.0,251.5L1369.6,251.1L1370.2,249.9L1370.8,249.9L1371.5,250.5L1372.1,249.3L1372.8,249.5L1373.4,247.8L1374.1,248.1" stroke="#3498db"/>
<path d="M45.8,379.8L46.4,380.3L47.1,381.8L47.7,382.7L48.4,381.3L49.0,380.5L49.6,379.1L50.4,378.9L51.3,377.5L52.1,377.9L52.9,377.6L53.7,379.8L54.5,379.8L55.3,379.1L56.1,378.8L56.9,379.1L57.7,380.4L58.5,379.8L59.3,380.3L59.9,381.1L60.6,380.6L61.2,380.8L62.2,369.4L62.8,369.4L63.5,368.3L64.1,368.7L64.8,367.6L65.4,366.6L66.0,364.6L67.0,358.6L67.7,359.0L68.3,359.8L68.9,359.8L69.6,359.3L70.2,357.4L70.9,357.4L71.7,358.4L72.5,358.7L73.3,359.1L74.1,358.4L74.9,357.6L75.7,358.1L76.5,359.3L77.3,359.2L78.1,359.8L78.9,359.9L79.7,360.0L80.5,359.1L81.3,360.1L82.1,361.1L82.9,361.0L83.8,361.4L84.6,362.2L85.5,361.5L86.3,359.8L86.9,359.3L87.6,359.8L88.2,358.6L89.2,353.8L89.8,355.2L90.5,354.6L91.1,356.2L91.8,354.9L92.4,354.4L93.0,354.2L93.7,354.8L94.3,353.5L95.0,353.3L95.6,354.3L96.3,354.5L96.9,355.7L97.6,356.0L98.2,356.1L98.8,356.7L99.5,356.2L100.1,356.5L100.8,356.2L101.5,357.3L102.2,358.1L103.2,364.6L104.1,372.6L104.9,371.1L105.6,368.2L106.2,369.0L106.9,369.8L107.5,369.4L108.2,367.7L109.0,364.6L109.7,367.3L110.4,368.2L111.1,368.4L111.7,367.3L112.3,367.7L113.0,368.7L113.6,369.2L114.3,368.7L114.9,368.5L115.6,366.9L116.2,365.8L116.8,366.0L117.5,365.0L118.1,365.3L118.8,366.5L119.4,366.6L120.1,367.0L120.7,367.0L121.3,367.0L122.0,368.2L123.0,373.5L123.7,372.1L124.4,369.4L125.0,369.9L125.7,367.9L126.3,368.2L127.0,367.3L127.8,365.3L128.5,366.6L129.2,368.2L129.9,365.8L130.5,364.3L131.1,362.9L131.9,362.4L132.6,361.0L133.2,361.8L133.9,360.5L134.5,361.5L135.2,366.3L136.0,370.6L136.6,369.7L137.3,370.7L137.9,370.2L138.5,369.6L139.2,370.4L139.8,369.4L140.5,370.7L141.1,370.2L141.8,370.6L142.4,371.4L143.0,370.0L143.7,370.2L144.3,370.2L145.0,371.9L145.6,372.6L146.3,372.5L146.9,373.6L147.5,375.0L148.2,373.5L148.8,372.6L149.5,371.1L150.1,370.2L150.8,369.7L151.4,370.2L152.1,369.3L152.9,367.0L153.6,368.5L154.3,370.6L155.0,368.8L155.7,365.3L156.5,366.9L157.2,367.0L157.9,365.6L158.6,364.6L159.4,365.4L160.1,366.3L160.7,365.5L161.4,364.9L162.0,363.9L162.7,364.7L163.3,365.3L163.9,365.8L164.7,363.6L165.4,361.0L166.1,360.0L166.8,357.4L167.5,356.2L168.1,354.8L168.8,353.8L169.4,353.8L170.1,352.5L170.7,352.6L171.3,351.4L172.0,351.8L172.6,350.1L173.3,348.4L174.1,346.5L174.7,346.2L175.4,344.8L176.0,345.3L176.7,346.7L177.4,348.5L178.1,348.4L178.7,347.1L179.4,347.7L180.1,349.5L180.8,350.9L181.5,352.3L182.3,353.3L182.9,350.9L183.6,350.3L184.2,348.5L184.8,348.6L185.5,349.1L186.1,348.9L186.8,347.7L187.4,347.4L188.1,346.0L188.7,346.8L189.3,345.8L190.0,347.0L190.7,349.0L191.4,352.6L192.2,353.5L192.9,353.8L193.6,353.1L194.3,350.9L195.0,347.6L195.8,345.3L196.4,344.8L197.1,344.7L197.7,344.1L198.3,344.2L199.0,344.7L199.6,345.3L200.3,344.7L200.9,344.6L201.6,344.6L202.2,344.4L202.8,343.6L203.5,343.6L204.1,343.7L204.8,344.8L205.4,344.6L206.1,342.9L206.9,342.9L207.5,343.8L208.2,344.9L208.8,345.3L209.4,345.2L210.1,345.3L210.7,346.0L211.4,347.4L212.0,347.2L212.7,348.5L213.3,347.7L213.9,347.9L214.6,347.7L215.2,346.9L215.9,344.6L216.5,344.1L217.2,342.0L218.0,340.5L218.6,340.0L219.2,340.6L219.9,339.8L220.5,340.7L221.2,342.5L221.8,342.9L222.5,342.7L223.1,343.4L223.7,344.1L224.5,345.3L225.2,346.0L225.8,345.7L226.5,343.9L227.1,342.9L227.8,342.7L228.4,342.7L229.0,343.6L229.7,343.8L230.3,343.4L231.0,344.1L231.6,345.1L232.3,345.5L232.9,345.3L233.6,344.3L234.2,344.1L234.8,344.1L235.5,344.3L236.1,343.6L236.8,342.9L237.5,340.7L238.2,337.4L238.9,336.8L239.5,336.1L240.1,336.4L240.8,335.8L241.4,336.4L242.1,335.7L242.7,335.5L243.4,335.9L244.0,336.4L244.6,336.6L245.3,336.9L245.9,337.4L246.6,337.4L247.2,338.6L247.9,338.1L248.5,337.2L249.1,336.7L249.8,337.4L250.4,338.6L251.1,339.0L251.7,338.8L252.4,339.2L253.0,337.7L253.6,337.4L254.4,340.3L255.1,341.7L255.7,342.3L256.4,340.9L257.0,341.2L257.7,340.4L258.3,339.3L259.0,337.4L259.6,338.3L260.2,338.7L260.9,339.3L261.5,338.8L262.2,338.7L262.8,338.8L263.5,338.6L264.1,338.7L264.7,339.8L265.4,340.2L266.0,339.9L266.7,340.5L267.3,340.8L268.0,339.2L268.6,339.8L269.2,340.3L269.9,339.8L270.5,339.3L271.2,339.9L271.8,339.7L272.5,338.8L273.1,340.3L273.7,340.6L274.4,341.2L275.0,340.5L275.7,342.0L276.3,341.7L277.0,340.7L277.6,340.5L278.2,340.5L279.0,338.0L279.7,335.0L280.4,336.0L281.1,336.9L281.8,336.6L282.4,337.3L283.1,336.4L283.7,336.9L284.3,336.8L285.0,337.4L285.7,340.3L286.4,344.1L287.2,350.2L287.9,355.0L288.5,354.5L289.2,354.7L289.8,353.8L290.5,354.9L291.1,356.1L291.7,358.1L292.5,356.0L293.2,353.8L293.8,351.9L294.5,348.3L295.1,346.5L295.8,345.0L296.4,343.3L297.0,340.5L297.7,340.2L298.3,339.5L299.0,338.1L299.6,337.4L300.3,338.8L300.9,338.8L301.6,340.6L302.2,340.2L302.8,342.2L303.5,341.5L304.1,341.1L304.8,341.2L305.4,341.4L306.1,341.4L306.7,341.7L307.3,341.3L308.0,341.4L308.6,340.5L309.3,339.4L309.9,339.2L310.6,339.8L311.2,338.9L311.8,338.8L312.5,339.3L313.1,338.4L313.8,339.8L314.4,338.8L315.1,339.0L315.7,337.1L316.3,337.4L317.0,337.6L317.6,337.5L318.3,338.1L318.9,338.8L319.6,339.9L320.2,341.2L320.8,340.2L321.5,338.8L322.1,337.4L322.8,336.8L323.4,336.2L324.1,336.4L324.7,336.9L325.3,337.3L326.0,338.8L326.6,339.2L327.3,339.8L327.9,339.8L328.6,340.0L329.2,340.0L329.8,341.2L330.5,340.8L331.1,341.3L331.8,341.7L332.4,342.7L333.1,343.8L333.7,344.1L334.3,344.3L335.0,345.5L335.6,345.3L336.3,346.1L336.9,346.3L337.6,347.0L338.2,347.8L338.8,349.1L339.5,350.1L340.1,350.9L340.8,350.8L341.4,351.3L342.1,350.9L342.7,349.7L343.3,348.9L344.3,341.7L345.0,340.8L345.6,341.0L346.2,340.5L346.9,340.6L347.5,339.2L348.2,339.8L348.8,339.5L349.5,339.3L350.1,339.3L350.7,339.8L351.4,339.8L352.0,338.8L352.7,338.3L353.3,339.0L354.0,338.1L354.6,338.4L355.2,337.2L355.9,337.4L356.5,337.8L357.2,337.6L357.8,338.8L358.5,339.1L359.1,338.6L359.7,338.1L360.4,338.4L361.0,337.8L361.7,336.9L362.3,337.0L363.0,337.0L363.6,336.4L364.2,336.8L364.9,336.3L365.5,337.4L366.2,337.8L366.8,337.0L367.5,338.1L368.1,337.8L368.7,339.4L369.4,339.3L370.0,339.1L370.7,339.8L371.3,341.2L372.0,341.5L372.6,343.8L373.2,344.1L373.9,343.4L374.5,342.9L375.2,343.6L375.8,344.8L376.5,344.1L377.1,345.3L377.8,345.6L378.6,345.0L379.3,345.0L380.0,344.1L380.7,347.9L381.4,350.1L382.1,348.9L382.7,347.9L383.4,346.0L384.0,344.6L384.7,345.2L385.3,344.1L385.9,343.7L386.6,343.7L387.2,342.9L388.0,342.0L388.8,342.9L389.6,342.2L390.4,343.4L391.3,342.4L392.1,343.6L392.9,343.1L393.7,343.3L394.5,342.9L395.3,343.7L396.1,342.9L396.9,343.6L397.7,342.8L398.5,342.7L399.3,342.9L400.1,343.5L400.9,344.2L401.7,344.1L402.5,343.3L403.3,342.6L404.1,342.2L404.8,342.5L405.4,342.9L406.0,343.6L406.7,342.7L407.3,341.3L408.0,341.2L408.7,342.1L409.4,342.9L410.1,346.8L410.9,348.9L411.6,346.4L412.3,344.1L413.0,342.1L413.8,339.3L414.4,339.3L415.0,340.9L415.7,341.2L416.3,341.2L417.0,340.6L417.6,339.8L418.3,340.0L418.9,340.2L419.5,340.5L420.2,341.2L420.8,342.0L421.5,341.7L422.1,341.9L422.8,342.6L423.4,344.1L424.0,343.6L424.7,342.9L425.3,341.2L426.0,341.6L426.6,341.8L427.3,342.2L427.9,342.0L428.5,340.5L429.2,340.5L430.2,337.4L431.1,342.9L431.8,342.1L432.4,341.6L433.0,341.7L433.7,341.7L434.3,341.0L435.0,341.2L435.6,340.5L436.3,341.1L436.9,340.5L437.6,341.1L438.2,339.6L438.8,339.8L439.5,340.6L440.1,340.6L440.8,341.2L441.4,341.4L442.1,340.4L442.7,339.8L443.3,340.6L444.0,341.8L444.6,343.6L445.3,342.9L445.9,343.9L446.6,344.1L447.2,343.3L447.8,342.2L448.5,342.2L449.2,341.5L449.9,341.2L450.9,335.7L451.9,341.2L452.5,340.7L453.1,341.2L453.8,340.5L454.4,340.1L455.1,341.9L455.7,341.2L456.4,341.3L457.0,341.7L457.6,341.7L458.3,341.5L458.9,342.0L459.6,341.2L460.2,341.6L460.9,340.8L461.5,340.5L462.1,340.2L462.8,340.4L463.4,339.8L464.1,341.1L464.7,340.9L465.4,341.7L466.0,343.1L466.6,344.5L467.3,344.6L467.9,344.0L468.6,343.0L469.2,342.9L469.9,342.8L470.5,344.1L471.1,344.1L471.8,344.3L472.4,344.6L473.1,343.6L473.7,344.8L474.4,344.3L475.0,345.3L475.7,344.5L476.3,344.4L476.9,344.6L477.6,344.5L478.2,345.9L478.9,346.0L479.5,346.8L480.2,347.1L480.8,346.5L481.4,345.7L482.1,346.4L482.7,345.3L483.4,345.8L484.2,347.0L485.1,355.0L485.9,357.8L486.6,361.0L487.5,362.9L488.2,363.1L488.8,361.7L489.5,362.2L490.1,361.2L490.8,362.3L491.4,361.5L492.0,361.3L492.7,361.7L493.3,362.2L494.3,355.0L495.3,347.7L496.0,346.1L496.7,344.1L497.4,343.2L498.2,341.7L498.8,340.2L499.4,340.1L500.1,339.8L500.7,340.1L501.4,340.7L502.0,341.2L502.7,340.1L503.3,340.1L503.9,339.3L504.6,340.5L505.2,339.9L505.9,340.5L506.5,340.3L507.2,339.3L507.8,339.8L508.4,339.8L509.1,341.0L509.7,341.2L510.4,340.0L511.0,341.0L511.7,339.8L512.3,340.3L512.9,338.7L513.6,339.3L514.2,339.7L514.9,338.3L515.5,338.1L516.2,339.4L516.8,340.2L517.4,340.5L518.1,340.5L518.7,341.6L519.4,341.7L520.0,341.6L520.7,341.4L521.3,340.5L521.9,340.3L522.6,341.4L523.2,341.2L523.9,341.8L524.5,341.0L525.2,340.5L525.8,341.0L526.4,340.6L527.1,341.7L527.7,341.3L528.4,340.6L529.0,340.5L529.7,341.1L530.3,341.3L531.0,341.2L531.7,342.8L532.4,344.1L533.0,343.9L533.7,345.2L534.3,345.3L535.3,344.1L536.3,336.4L537.0,338.1L537.7,339.3L538.3,338.6L539.0,339.7L539.6,338.8L540.3,339.2L540.9,338.5L541.6,339.3L542.2,340.2L542.8,339.0L543.5,339.8L544.1,339.7L544.8,340.7L545.4,340.5L546.1,340.4L546.7,340.1L547.3,339.8L548.0,340.5L548.6,340.7L549.3,341.2L549.9,340.6L550.6,340.2L551.2,340.5L551.8,340.1L552.5,341.7L553.1,341.7L553.8,342.0L554.4,341.5L555.1,341.2L555.7,342.0L556.3,341.6L557.0,342.2L557.6,341.2L558.3,340.8L558.9,340.5L559.6,341.4L560.2,340.2L560.9,341.2L561.6,340.9L562.3,340.5L563.0,341.8L563.7,344.1L564.5,346.0L565.2,347.0L565.8,347.5L566.5,348.3L567.1,349.4L567.8,349.7L568.4,350.5L569.0,350.9L569.7,350.6L570.3,349.0L571.0,348.5L571.6,348.8L572.3,347.3L572.9,347.7L573.6,347.1L574.2,346.5L574.8,347.0L575.5,346.0L576.1,346.9L576.8,346.0L577.4,346.2L578.1,345.0L578.7,345.3L579.3,345.2L580.0,346.0L580.6,346.5L581.3,345.8L582.1,344.1L582.8,343.5L583.5,341.7L584.2,341.9L585.0,341.2L585.7,344.0L586.4,346.5L587.1,346.5L587.7,347.6L588.3,348.5L589.0,347.4L589.6,347.5L590.3,347.0L590.9,346.8L591.6,345.8L592.2,346.0L592.8,345.9L593.5,347.2L594.1,347.0L594.8,345.8L595.4,346.9L596.1,346.0L596.7,346.5L597.3,346.4L598.0,345.3L598.6,345.3L599.3,345.9L599.9,346.0L600.6,345.7L601.2,345.3L601.8,344.6L602.5,345.9L603.1,345.9L603.8,346.0L604.4,345.4L605.1,346.2L605.7,345.3L606.3,346.3L607.0,347.6L607.6,348.5L608.4,347.7L609.1,346.0L609.7,345.3L610.4,346.9L611.0,346.5L612.0,353.8L612.7,355.9L613.4,357.4L614.1,359.2L614.9,361.0L615.6,359.8L616.3,358.6L617.0,355.9L617.8,353.3L618.7,348.5L619.4,348.1L620.0,348.8L620.7,348.9L621.4,349.3L622.1,351.3L622.8,350.7L623.5,350.1L624.2,350.8L624.8,350.8L625.5,351.3L626.2,353.3L626.9,355.0L627.6,357.6L628.4,358.6L629.0,360.3L629.7,359.9L630.3,361.5L630.9,362.5L631.6,362.7L632.2,362.9L632.9,361.9L633.5,362.2L634.2,362.2L634.8,362.3L635.4,362.6L636.1,363.9L636.7,364.2L637.4,365.1L638.0,364.6L638.7,360.7L639.5,357.4L640.2,359.9L640.9,361.0L641.6,360.9L642.2,359.5L642.8,359.8L643.5,359.9L644.1,358.8L644.8,358.1L645.4,358.4L646.1,357.5L646.7,356.7L647.3,357.9L648.0,358.0L648.6,359.1L649.3,360.4L649.9,361.4L650.6,361.5L651.2,362.6L651.8,362.3L652.5,362.9L653.1,363.1L653.8,362.4L654.4,362.2L655.1,361.1L655.7,360.6L656.3,361.0L657.0,360.1L657.6,360.1L658.3,360.5L658.9,359.4L659.6,359.5L660.2,359.1L660.8,359.3L661.5,358.8L662.1,358.6L662.8,358.0L663.4,358.0L664.1,357.4L664.7,356.6L665.3,356.5L666.0,356.2L666.6,356.8L667.3,356.3L667.9,356.7L668.6,355.5L669.2,356.2L669.8,355.0L670.5,355.0L671.1,353.9L671.8,353.8L672.4,353.7L673.1,354.1L673.7,354.2L674.3,353.5L675.0,351.8L675.6,351.3L676.3,350.9L676.9,351.6L677.6,352.6L678.2,352.7L678.8,351.1L679.5,351.3L680.1,351.1L680.8,350.5L681.4,350.9L682.1,350.1L682.7,349.8L683.3,350.1L684.0,350.2L684.6,350.0L685.3,350.9L686.2,357.4L686.9,356.8L687.5,357.2L688.2,358.1L688.8,357.3L689.5,357.6L690.1,357.4L690.7,357.1L691.4,357.6L692.0,359.1L692.7,359.2L693.3,359.4L694.0,359.8L694.9,363.4L695.6,363.9L696.2,362.9L696.9,363.9L697.5,363.4L698.1,363.1L698.8,362.9L699.4,361.8L700.1,363.3L700.7,362.2L701.4,361.5L702.0,361.0L702.6,361.5L703.3,361.7L703.9,361.4L704.6,362.2L705.2,361.9L705.9,360.8L706.5,360.5L707.1,360.4L707.8,360.8L708.4,362.2L709.1,362.4L709.7,361.3L710.4,361.5L711.0,361.8L711.6,361.1L712.3,361.0L712.9,362.2L713.6,361.4L714.2,362.2L714.9,360.9L715.5,360.2L716.1,359.8L716.8,360.8L717.4,360.8L718.1,361.0L718.7,361.9L719.4,362.7L720.0,364.6L720.6,364.1L721.3,363.8L721.9,362.2L722.6,361.6L723.2,359.7L723.9,359.8L724.5,358.4L725.1,357.9L725.8,358.1L726.4,356.9L727.1,356.0L727.7,356.2L728.4,355.1L729.2,355.7L729.9,357.2L730.6,358.1L731.3,359.8L731.9,359.5L732.5,361.0L733.2,362.8L733.8,362.9L734.5,363.9L735.1,365.2L735.8,366.2L736.4,366.3L737.0,367.3L737.7,365.9L738.3,367.0L739.0,366.3L739.6,366.4L740.3,365.8L740.9,367.0L741.5,365.9L742.2,367.0L742.9,367.3L743.6,368.2L744.4,365.8L745.1,362.2L745.8,360.7L746.5,360.5L747.2,361.8L748.0,363.4L748.7,362.9L749.4,362.9L750.4,355.0L751.3,350.9L752.0,350.9L752.6,351.2L753.3,350.1L753.9,350.0L754.6,351.4L755.2,351.3L755.8,351.9L756.5,352.3L757.1,351.8L757.8,351.8L758.4,352.3L759.1,351.3L759.7,351.5L760.3,352.0L761.0,352.6L761.6,352.3L762.3,353.5L762.9,353.3L763.6,353.6L764.2,353.5L764.9,354.2L765.5,353.9L766.1,355.1L766.8,355.0L767.4,354.9L768.1,354.9L768.7,354.2L769.4,353.5L770.0,353.1L770.6,352.6L771.3,351.5L771.9,352.1L772.6,351.3L773.2,350.1L773.9,350.5L774.5,350.1L775.2,349.8L775.9,348.5L776.7,349.6L777.4,350.1L778.1,347.8L778.8,347.0L779.5,347.0L780.1,348.6L780.8,348.5L781.4,348.2L782.1,348.2L782.7,347.0L783.3,348.5L784.0,348.5L784.6,349.4L785.3,349.6L785.9,348.7L786.6,347.7L787.2,347.2L787.8,347.0L788.5,347.0L789.1,346.1L789.8,346.5L790.4,346.5L791.1,347.5L791.7,346.1L792.3,347.0L793.0,346.8L793.6,345.7L794.3,346.0L794.9,345.6L795.6,347.0L796.2,347.0L796.8,346.4L797.5,345.9L798.1,346.5L798.8,346.3L799.4,347.6L800.1,347.7L800.8,349.7L801.5,351.3L802.1,350.1L802.8,350.1L803.4,350.1L804.1,350.4L804.7,348.5L805.4,348.5L806.0,348.1L806.6,347.3L807.3,347.0L807.9,347.2L808.6,346.6L809.2,346.0L809.9,347.1L810.5,347.2L811.1,347.7L811.8,346.9L812.4,346.7L813.1,347.0L813.7,346.7L814.4,348.6L815.0,348.5L815.7,346.2L816.5,345.3L817.1,344.9L817.7,347.0L818.4,346.5L819.0,346.6L819.7,348.5L820.3,348.5L821.0,348.3L821.6,349.5L822.2,350.1L822.9,349.1L823.5,349.6L824.2,348.5L824.8,348.2L825.5,347.7L826.1,347.0L826.7,347.2L827.4,347.0L828.0,346.0L828.7,345.5L829.3,345.7L830.0,345.3L830.6,344.8L831.2,343.8L831.9,344.1L832.5,344.6L833.2,344.0L833.8,343.6L834.5,343.5L835.3,342.2L836.0,343.2L836.7,345.3L837.4,345.1L838.0,344.8L838.6,344.6L839.3,345.2L839.9,344.3L840.6,345.3L841.2,344.6L841.9,344.5L842.5,344.1L843.1,343.5L843.8,344.5L844.4,344.6L845.1,345.5L845.7,345.4L846.4,346.0L847.0,345.7L847.6,344.9L848.3,344.1L848.9,343.4L849.6,343.5L850.2,343.6L850.9,344.7L851.5,343.7L852.1,344.1L852.8,343.8L853.4,343.0L854.1,343.6L854.7,343.7L855.4,344.2L856.0,345.3L856.6,345.5L857.3,344.6L857.9,343.6L858.6,344.1L859.2,344.0L859.9,342.9L860.5,342.9L861.1,343.2L861.8,342.2L862.5,343.2L863.2,344.1L864.0,344.9L864.7,346.0L865.3,347.0L866.0,347.1L866.6,346.5L867.3,348.0L867.9,347.8L868.5,348.5L869.2,349.7L869.8,349.9L870.5,350.9L871.2,349.3L871.9,346.0L872.6,345.2L873.4,342.9L874.0,342.1L874.6,342.9L875.3,341.7L875.9,341.0L876.6,340.7L877.2,341.2L877.9,342.2L878.5,342.0L879.1,342.9L879.8,342.7L880.4,342.7L881.1,342.2L881.7,341.8L882.4,343.6L883.0,343.6L883.7,344.4L884.3,345.8L884.9,347.0L885.7,347.1L886.4,347.7L887.0,347.0L887.7,345.8L888.3,344.1L889.0,343.6L889.6,343.1L890.2,343.6L890.9,343.0L891.5,343.0L892.2,342.9L892.8,341.9L893.5,341.8L894.1,342.2L894.7,342.9L895.4,343.0L896.0,342.9L896.7,343.4L897.3,343.0L898.0,341.7L898.6,342.5L899.2,341.8L899.9,342.2L900.6,340.4L901.3,339.8L902.0,339.1L902.6,339.1L903.3,338.8L903.9,338.6L904.5,338.4L905.2,338.1L905.8,338.2L906.5,339.5L907.1,339.3L907.8,339.1L908.4,339.5L909.0,339.8L909.7,341.5L910.3,342.4L911.0,342.9L911.6,343.1L912.3,343.6L912.9,344.6L913.6,345.6L914.2,344.7L914.8,346.0L915.5,345.1L916.1,345.6L916.8,345.3L917.4,345.6L918.1,345.2L918.7,346.0L919.4,344.9L920.1,345.3L921.1,339.3L921.7,339.2L922.4,340.6L923.0,340.5L923.7,340.7L924.3,341.8L925.0,341.2L925.6,341.5L926.3,341.6L926.9,340.5L927.5,339.4L928.2,339.4L928.8,339.8L929.5,339.1L930.1,340.1L930.8,340.5L931.4,339.8L932.0,338.9L932.7,339.3L933.3,340.0L934.0,339.8L934.6,341.2L935.6,344.6L936.2,343.7L936.9,343.0L937.5,342.9L938.1,343.0L938.8,342.0L939.4,341.7L940.1,340.9L940.7,340.1L941.4,340.5L942.0,340.6L942.6,341.2L943.3,341.2L943.9,341.3L944.6,341.5L945.2,340.5L945.9,341.6L946.5,341.2L947.1,342.2L947.8,341.8L948.4,343.1L949.1,342.9L949.7,343.8L950.4,343.7L951.0,344.1L951.7,344.3L952.3,343.4L952.9,342.9L953.6,342.9L954.2,343.1L954.9,344.1L955.5,342.8L956.2,343.6L956.8,342.9L957.4,343.2L958.1,342.8L958.7,341.7L959.4,341.8L960.0,342.3L960.7,342.2L961.3,342.6L961.9,342.1L962.6,341.2L963.2,341.6L963.9,341.4L964.5,341.7L965.2,341.3L965.8,340.3L966.4,340.5L967.1,340.2L967.7,341.3L968.4,341.2L969.0,342.3L969.7,341.6L970.3,341.7L970.9,342.2L971.6,342.7L972.2,343.6L972.9,343.7L973.5,344.5L974.2,344.1L974.8,344.7L975.4,346.2L976.1,346.0L976.7,345.7L977.4,346.4L978.0,347.0L978.7,346.9L979.3,346.5L979.9,346.5L980.6,347.6L981.2,347.9L981.9,347.7L982.5,348.3L983.2,347.5L983.8,347.0L984.4,346.8L985.1,348.4L985.7,348.9L986.4,348.9L987.0,348.6L987.7,348.5L988.3,348.4L988.9,349.5L989.6,349.4L990.2,350.4L990.9,349.2L991.5,350.1L992.2,352.9L993.0,355.0L993.7,357.1L994.4,359.8L995.1,361.0L995.9,362.2L996.8,370.6L997.8,362.2L998.5,363.5L999.2,363.4L1000.0,364.8L1000.7,364.6L1001.4,363.1L1002.1,361.0L1002.8,360.3L1003.4,361.4L1004.1,360.5L1004.7,359.7L1005.3,359.8L1006.0,359.8L1006.6,360.1L1007.3,359.0L1007.9,359.1L1008.6,358.3L1009.2,359.2L1009.8,358.1L1010.5,358.3L1011.1,356.5L1011.8,356.2L1012.4,355.6L1013.1,355.0L1013.7,355.0L1014.3,354.7L1015.0,355.3L1015.6,356.2L1016.3,356.9L1016.9,355.1L1017.6,355.7L1018.2,355.5L1018.8,355.8L1019.5,356.7L1020.1,355.7L1020.8,356.4L1021.4,356.2L1022.1,357.0L1022.7,357.6L1023.3,357.4L1024.0,357.4L1024.6,357.5L1025.3,356.7L1025.9,356.0L1026.6,356.7L1027.2,357.4L1027.8,357.6L1028.5,355.5L1029.1,355.7L1029.8,355.8L1030.4,356.8L1031.1,357.4L1031.7,357.4L1032.3,358.3L1033.0,358.6L1033.7,359.9L1034.4,362.9L1035.1,363.0L1035.7,364.9L1036.4,364.6L1037.0,363.6L1037.7,364.5L1038.3,363.4L1038.9,361.9L1039.6,362.4L1040.2,360.5L1040.9,360.2L1041.5,359.5L1042.2,358.6L1042.8,357.1L1043.4,356.2L1044.1,356.2L1044.7,356.2L1045.4,354.8L1046.0,355.0L1046.7,353.8L1047.3,354.4L1047.9,353.3L1048.6,353.5L1049.2,351.5L1049.9,351.8L1050.5,353.1L1051.2,352.9L1051.8,353.3L1052.4,353.4L1053.1,353.2L1053.7,354.2L1054.4,354.8L1055.0,356.7L1055.7,356.7L1056.3,356.7L1056.9,357.0L1057.6,358.1L1058.4,356.8L1059.2,356.1L1060.0,356.2L1060.6,358.7L1061.3,362.5L1061.9,364.6L1062.6,362.2L1063.2,360.8L1063.9,359.8L1064.5,359.4L1065.1,358.3L1065.8,356.2L1066.4,357.4L1067.1,356.5L1067.7,357.4L1068.4,355.3L1069.0,354.5L1069.6,351.8L1070.4,354.0L1071.1,356.2L1071.7,357.5L1072.4,357.8L1073.0,359.1L1073.7,359.0L1074.3,360.4L1075.0,361.5L1075.6,362.7L1076.2,363.6L1076.9,363.9L1077.5,364.7L1078.2,365.1L1078.8,365.8L1079.5,366.3L1080.1,366.5L1080.7,367.0L1081.4,368.3L1082.0,370.0L1082.7,370.6L1083.3,368.9L1084.0,368.4L1084.6,367.0L1085.2,367.4L1085.9,366.8L1086.5,365.8L1087.2,365.9L1087.8,367.9L1088.5,367.7L1089.1,368.9L1089.7,368.3L1090.4,369.4L1091.1,369.9L1091.8,371.1L1092.5,369.6L1093.1,368.4L1093.8,368.2L1094.4,368.7L1095.0,367.3L1095.7,367.0L1096.3,367.9L1097.0,366.8L1097.6,367.7L1098.3,366.4L1098.9,367.4L1099.5,366.3L1100.2,367.1L1100.8,367.7L1101.5,367.0L1102.1,366.6L1102.8,365.5L1103.4,364.6L1104.0,364.8L1104.7,363.4L1105.3,363.9L1106.0,364.2L1106.6,364.3L1107.3,364.6L1107.9,364.5L1108.5,365.9L1109.2,366.3L1109.8,366.5L1110.5,367.3L1111.1,367.7L1111.8,368.3L1112.4,369.0L1113.0,370.2L1113.7,370.5L1114.3,371.5L1115.0,371.8L1115.6,372.3L1116.3,371.8L1116.9,370.6L1117.6,372.3L1118.2,373.2L1118.8,373.5L1119.5,372.6L1120.1,373.3L1120.8,371.8L1121.4,372.2L1122.1,372.8L1122.7,374.3L1123.3,374.8L1124.0,375.8L1124.6,375.9L1125.3,374.9L1125.9,374.6L1126.6,373.5L1127.2,372.2L1127.8,372.4L1128.5,370.6L1129.1,370.7L1129.8,370.9L1130.4,371.1L1131.1,370.6L1131.7,370.7L1132.3,369.4L1133.0,370.5L1133.6,370.0L1134.3,370.2L1134.9,370.9L1135.6,372.0L1136.2,372.6L1136.8,372.4L1137.5,373.6L1138.1,374.3L1138.8,374.1L1139.4,373.1L1140.1,371.8L1140.7,371.3L1141.3,373.0L1142.0,372.6L1142.6,372.9L1143.3,374.6L1143.9,374.3L1144.6,375.1L1145.2,375.8L1145.8,377.4L1146.5,376.7L1147.1,376.5L1147.8,375.0L1148.4,375.2L1149.1,376.3L1149.7,375.9L1150.3,375.8L1151.0,374.6L1151.6,374.3L1152.3,374.1L1152.9,374.7L1153.6,375.0L1154.2,373.2L1154.8,371.5L1155.5,370.2L1156.1,369.4L1156.8,368.7L1157.4,367.0L1158.1,366.9L1158.7,365.9L1159.3,366.3L1160.0,365.9L1160.6,366.2L1161.3,366.5L1161.9,366.9L1162.6,366.2L1163.2,367.0L1163.8,366.1L1164.5,366.4L1165.1,366.5L1165.8,366.6L1166.4,366.5L1167.1,367.7L1167.7,367.6L1168.3,368.0L1169.0,367.0L1169.6,367.5L1170.3,368.3L1170.9,368.2L1171.6,369.2L1172.2,369.6L1172.9,369.4L1173.5,369.6L1174.1,368.2L1174.8,367.7L1175.4,367.8L1176.1,366.6L1176.7,367.0L1177.4,368.1L1178.0,367.6L1178.6,368.2L1179.3,368.0L1179.9,368.6L1180.6,367.7L1181.2,368.7L1181.9,369.9L1182.5,371.8L1183.1,371.2L1183.8,369.6L1184.4,368.2L1185.1,367.1L1185.7,366.6L1186.4,367.0L1187.0,367.6L1187.6,367.7L1188.3,369.4L1188.9,370.6L1189.6,370.0L1190.2,371.1L1190.9,371.2L1191.5,371.9L1192.1,372.6L1192.8,371.5L1193.4,370.4L1194.1,369.4L1194.7,369.5L1195.4,369.4L1196.0,369.0L1196.6,369.2L1197.3,369.0L1197.9,370.2L1198.7,374.3L1199.4,376.7L1200.1,379.4L1200.8,381.5L1201.5,382.3L1202.3,384.6L1202.9,384.0L1203.6,384.1L1204.2,383.2L1204.8,383.9L1205.5,382.1L1206.1,382.7L1206.8,382.5L1207.4,383.9L1208.1,384.6L1208.7,384.6L1209.3,385.7L1210.0,385.1L1210.6,385.1L1211.3,383.5L1211.9,383.2L1212.6,382.7L1213.2,382.7L1213.8,382.2L1214.5,382.7L1215.1,381.2L1215.8,381.5L1216.4,380.9L1217.1,379.9L1217.7,380.3L1218.4,378.4L1219.1,375.9L1219.8,375.1L1220.4,376.7L1221.1,375.9L1221.7,376.0L1222.4,376.1L1223.0,375.9L1223.7,375.4L1224.3,375.9L1224.9,376.7L1225.7,378.4L1226.4,380.3L1227.0,380.5L1227.7,379.6L1228.3,379.1L1229.0,378.4L1229.6,379.5L1230.2,378.4L1230.9,378.3L1231.5,377.8L1232.2,377.4L1232.8,376.6L1233.5,376.5L1234.1,376.7L1234.7,377.9L1235.4,377.1L1236.0,378.4L1236.7,378.3L1237.3,378.2L1238.0,377.9L1238.6,378.0L1239.2,379.2L1239.9,379.1L1240.5,380.1L1241.2,380.2L1241.8,379.8L1242.5,379.7L1243.1,378.3L1243.7,378.4L1244.4,378.6L1245.0,380.3L1245.7,381.5L1246.3,381.7L1247.0,382.1L1247.6,383.2L1248.2,384.6L1248.9,384.3L1249.5,385.6L1250.2,387.2L1250.8,388.5L1251.5,388.7L1252.1,387.6L1252.7,388.7L1253.4,387.5L1254.0,386.9L1254.7,386.2L1255.3,386.3L1256.0,386.3L1256.6,386.6L1257.2,388.0L1257.9,388.5L1258.5,388.8L1259.2,389.4L1259.9,386.7L1260.6,382.7L1261.3,382.7L1262.1,381.5L1262.7,380.9L1263.4,381.8L1264.0,382.2L1264.7,384.7L1265.4,387.5L1266.1,386.1L1266.7,385.5L1267.4,385.1L1268.0,384.3L1268.7,384.7L1269.3,383.9L1269.9,383.4L1270.6,382.7L1271.2,383.2L1271.9,382.7L1272.5,383.1L1273.2,383.2L1273.8,383.0L1274.4,382.1L1275.1,382.2L1275.7,382.3L1276.4,381.2L1277.0,381.5L1277.7,382.0L1278.3,382.2L1279.0,382.2L1279.6,382.4L1280.2,384.3L1280.9,384.6L1281.5,384.2L1282.2,384.2L1282.8,383.9L1283.5,385.1L1284.1,386.2L1284.7,387.0L1285.4,387.3L1286.0,386.9L1286.7,388.0L1287.3,389.0L1288.0,389.6L1288.6,389.4L1289.2,389.8L1289.9,390.2L1290.5,390.4L1291.2,392.2L1292.0,394.8L1292.7,397.6L1293.4,399.1L1294.1,398.8L1294.7,397.3L1295.3,397.2L1296.0,398.1L1296.6,398.8L1297.3,398.4L1297.9,397.7L1298.6,398.5L1299.2,397.2L1299.8,397.3L1300.5,396.9L1301.1,397.6L1301.8,397.7L1302.4,396.7L1303.1,396.7L1303.8,394.3L1304.5,391.1L1305.2,390.1L1305.8,388.0L1306.4,387.5L1307.1,388.0L1307.7,389.0L1308.4,388.7L1309.0,389.7L1309.7,390.9L1310.3,391.9L1310.9,393.6L1311.6,394.0L1312.2,395.2L1312.9,396.3L1313.5,397.5L1314.2,398.4L1314.8,398.4L1315.4,396.7L1316.1,396.7L1316.7,394.9L1317.4,395.1L1318.0,393.5L1318.7,395.4L1319.5,397.2L1320.2,399.8L1320.9,403.2L1321.6,403.5L1322.2,403.1L1322.8,402.0L1323.5,403.0L1324.1,404.8L1324.8,404.9L1325.5,407.1L1326.2,408.0L1326.9,406.0L1327.7,403.2L1328.3,402.4L1328.9,401.5L1329.6,402.0L1330.2,401.5L1330.9,400.8L1331.5,399.6L1332.2,397.9L1332.8,396.6L1333.4,395.2L1334.1,396.0L1334.7,396.1L1335.4,397.2L1336.0,396.6L1336.7,395.3L1337.3,394.3L1337.9,393.8L1338.6,393.1L1339.2,393.5L1339.9,394.4L1340.5,394.8L1341.2,396.0L1341.8,396.0L1342.4,394.6L1343.1,394.8L1343.7,394.2L1344.4,393.4L1345.0,393.5L1345.7,393.0L1346.3,392.9L1347.0,392.3L1347.6,391.2L1348.2,390.7L1348.9,391.1L1349.6,392.9L1350.3,394.8L1351.0,397.8L1351.8,402.0L1352.4,402.2L1353.1,401.7L1353.7,402.5L1354.3,401.4L1355.0,401.9L1355.6,401.5L1356.3,402.0L1356.9,401.7L1357.6,400.8L1358.2,400.6L1358.8,400.1L1359.5,400.1L1360.1,399.8L1360.8,400.6L1361.4,401.5L1362.1,401.5L1362.7,402.9L1363.3,402.5L1364.0,402.3L1364.6,404.2L1365.3,403.9L1365.9,403.6L1366.6,403.3L1367.2,403.2L1367.8,403.6L1368.5,405.6L1369.1,405.6L1369.8,405.4L1370.4,406.5L1371.1,406.8L1371.7,406.7L1372.3,405.9L1373.0,406.3L1374.0,406.8" stroke="#f39c12"/>
<path d="M46.0,327.2L46.7,327.8L47.4,327.6L48.1,325.8L48.8,326.5L49.4,323.9L50.0,323.4L50.6,320.9L51.2,320.9L51.9,320.4L52.6,319.7L53.2,317.9L53.7,317.0L54.3,315.4L55.0,315.2L55.7,314.8L56.4,313.7L57.1,313.9L57.7,312.1L58.3,310.4L58.8,308.9L59.4,307.4L60.0,306.1L60.6,303.3L61.3,301.2L61.9,297.6L62.6,294.5L63.3,293.4L64.0,292.0L64.6,291.3L65.2,289.6L65.8,288.8L66.4,288.8L67.0,289.2L67.6,289.4L68.1,290.3L68.9,292.8L69.7,295.8L70.2,295.5L70.8,293.8L71.4,292.8L72.0,292.5L72.7,291.6L73.3,290.8L73.9,291.3L74.6,290.7L75.2,290.1L75.8,290.5L76.4,290.3L77.0,292.0L77.6,292.3L78.2,292.8L78.9,291.1L79.5,291.3L80.2,289.5L80.9,288.4L81.5,286.6L82.2,284.5L82.8,282.7L83.4,279.9L84.0,277.0L84.6,276.2L85.3,274.2L86.0,273.2L86.6,274.9L87.2,275.7L87.7,275.7L88.4,275.8L89.1,277.5L89.8,277.7L90.4,280.6L91.0,282.7L91.6,281.6L92.2,280.6L92.8,279.5L93.4,278.9L94.1,279.1L94.8,277.7L95.4,278.3L96.0,279.5L96.5,279.5L97.2,279.8L97.8,281.4L98.4,282.1L99.1,282.0L99.7,282.4L100.3,283.0L100.9,284.1L101.6,283.7L102.2,286.5L102.7,288.4L103.3,290.8L104.1,293.8L104.8,297.8L105.5,297.7L106.1,298.7L106.7,298.0L107.3,298.8L107.9,300.6L108.5,300.6L109.1,302.1L109.8,304.5L110.4,305.1L111.1,307.1L111.9,308.2L112.6,308.0L113.4,307.9L114.0,308.0L114.6,308.1L115.3,308.5L115.9,308.4L116.5,308.8L117.1,308.7L117.8,308.8L118.4,309.6L119.1,309.1L119.7,309.2L120.4,307.9L121.1,309.1L121.8,309.1L122.4,310.9L123.0,311.7L123.6,311.8L124.2,311.6L124.8,310.4L125.4,307.2L125.9,305.9L126.7,304.4L127.5,302.1L128.0,302.4L128.6,304.5L129.2,305.4L129.8,305.2L130.5,305.4L131.1,306.8L131.7,306.4L132.4,306.3L133.0,307.7L133.6,308.9L134.2,308.9L134.9,309.5L135.6,310.5L136.2,312.1L136.8,313.7L137.4,313.7L138.0,314.6L138.7,314.5L139.3,312.6L140.0,312.9L140.6,312.5L141.3,311.9L141.9,312.6L142.5,312.1L143.2,310.6L143.8,311.3L144.4,308.8L145.0,308.9L145.6,308.3L146.2,306.0L146.8,305.9L147.4,304.6L148.0,304.7L148.6,303.3L149.2,302.4L149.8,302.1L150.4,302.7L151.1,302.1L151.7,301.5L152.4,300.4L153.1,300.8L153.7,298.6L154.3,294.5L155.0,297.1L155.6,300.8L156.2,297.2L156.9,295.3L157.5,297.8L158.1,300.8L158.8,299.8L159.4,298.8L160.1,297.1L160.7,294.9L161.3,293.9L161.9,292.8L162.5,291.1L163.1,291.0L163.6,290.3L164.4,287.2L165.1,283.2L165.7,281.8L166.3,280.3L166.9,277.7L167.5,276.7L168.1,275.3L168.7,273.2L169.3,272.5L170.0,271.1L170.7,270.2L171.3,269.3L171.9,269.7L172.6,268.7L173.2,268.7L173.8,268.1L174.4,268.8L175.1,269.7L175.7,269.2L176.3,268.9L177.0,270.1L177.6,270.1L178.2,270.7L178.9,271.4L179.6,271.4L180.2,272.7L180.8,272.8L181.4,270.9L182.0,270.7L182.6,270.2L183.2,269.2L183.7,268.7L184.4,268.3L185.1,269.8L185.8,270.2L186.4,269.0L187.1,268.4L187.8,268.7L188.3,268.1L188.9,268.6L189.5,269.4L190.1,270.3L190.8,272.7L191.4,273.5L192.1,273.9L192.8,274.4L193.4,274.5L194.0,273.5L194.5,271.9L195.1,272.2L195.7,270.3L196.3,270.2L197.0,269.4L197.6,268.4L198.3,268.2L198.9,268.2L199.6,268.1L200.2,268.3L200.8,267.7L201.5,266.5L202.2,264.2L202.8,263.1L203.4,262.8L204.0,262.8L204.6,262.6L205.2,261.9L205.9,262.0L206.5,262.8L207.1,263.1L207.7,262.9L208.3,264.5L208.9,264.6L209.5,264.1L210.2,263.8L210.9,264.4L211.5,263.0L212.1,262.3L212.8,261.4L213.4,261.1L214.0,261.0L214.6,260.8L215.3,260.4L215.9,260.6L216.6,261.9L217.2,262.1L217.9,263.6L218.5,264.6L219.2,264.8L219.8,264.6L220.4,264.4L221.0,263.9L221.6,263.6L222.2,263.1L222.9,262.3L223.5,260.3L224.2,260.1L225.0,258.9L225.7,258.0L226.5,256.9L227.1,255.2L227.8,253.9L228.5,253.6L229.1,253.1L229.8,251.3L230.5,250.6L231.1,250.3L231.7,250.7L232.4,249.8L233.0,249.3L233.6,248.1L234.2,248.5L234.8,246.8L235.4,244.9L236.0,243.5L236.7,244.2L237.3,246.9L238.0,248.1L238.6,248.2L239.2,249.4L239.8,250.6L240.4,251.5L241.0,251.5L241.7,250.6L242.3,251.8L242.9,252.1L243.5,252.3L244.2,252.7L244.8,253.1L245.4,251.7L246.0,251.6L246.6,250.6L247.2,249.1L247.9,248.8L248.6,248.6L249.2,249.4L249.9,251.5L250.6,251.8L251.2,251.7L251.8,253.5L252.5,253.2L253.1,254.3L253.7,254.8L254.4,254.8L255.0,255.2L255.6,255.6L256.2,255.7L256.9,254.8L257.5,254.0L258.1,254.3L258.8,253.5L259.4,253.2L260.0,254.4L260.6,253.6L261.3,253.4L261.9,253.5L262.5,252.6L263.1,251.8L263.8,250.8L264.4,251.7L265.0,251.8L265.7,251.1L266.3,251.2L266.9,250.6L267.5,250.1L268.2,250.1L268.8,249.8L269.4,250.2L270.1,249.1L270.7,249.3L271.3,248.1L271.9,246.8L272.4,245.5L273.1,244.1L273.7,241.0L274.3,241.4L275.0,241.5L275.6,241.2L276.2,240.5L276.8,240.3L277.5,240.3L278.1,240.9L278.7,241.0L279.3,240.8L279.9,241.4L280.5,241.8L281.1,244.6L281.7,246.8L282.4,248.6L283.1,249.1L283.8,250.1L284.4,250.9L285.0,249.8L285.6,250.6L286.3,251.1L286.9,252.3L287.5,251.2L288.2,252.1L288.8,252.6L289.4,252.2L290.0,252.7L290.7,254.6L291.3,254.3L292.0,256.3L292.6,256.8L293.3,257.6L293.9,256.4L294.5,256.2L295.1,256.1L295.6,255.0L296.2,255.2L296.8,254.3L297.5,253.4L298.2,251.7L298.8,250.6L299.5,249.7L300.1,248.0L300.7,247.8L301.3,246.8L302.0,246.7L302.6,245.4L303.2,243.2L303.9,243.0L304.5,241.8L305.2,240.9L305.9,239.3L306.5,238.4L307.1,239.1L307.8,237.9L308.4,237.5L309.0,237.4L309.6,236.3L310.3,236.9L310.9,235.5L311.5,235.2L312.2,234.1L312.8,232.6L313.4,232.5L314.0,233.6L314.7,235.0L315.3,236.3L315.9,239.3L316.5,240.9L317.1,242.8L317.7,243.5L318.3,243.8L318.9,245.2L319.6,246.0L320.2,246.8L320.8,247.4L321.4,248.8L322.1,250.0L322.7,250.1L323.3,251.1L324.0,251.3L324.6,252.8L325.2,252.6L325.8,252.7L326.5,253.9L327.1,254.2L327.7,254.3L328.3,253.7L328.9,252.8L329.5,251.1L330.2,249.4L330.8,248.9L331.5,247.6L332.1,247.6L332.8,248.4L333.4,249.2L334.0,248.6L334.6,249.4L335.3,248.9L335.9,250.4L336.5,251.1L337.2,251.8L337.8,252.5L338.4,252.5L339.0,252.6L339.7,253.3L340.3,252.0L340.9,253.8L341.6,253.1L342.2,253.8L342.8,253.9L343.4,254.8L344.1,254.3L344.7,254.7L345.3,253.0L345.9,254.0L346.6,253.1L347.2,253.2L347.8,251.9L348.5,252.6L349.1,251.8L349.7,251.7L350.3,250.6L351.0,251.4L351.6,250.6L352.2,249.2L352.9,249.3L353.5,248.2L354.1,247.6L354.8,246.3L355.5,246.0L356.1,245.0L356.7,245.1L357.3,244.8L357.9,245.5L358.5,246.1L359.1,244.1L359.8,243.7L360.4,244.3L361.1,245.3L361.7,247.1L362.4,247.6L363.2,248.7L363.9,249.7L364.7,250.1L365.3,250.2L365.9,250.6L366.6,250.1L367.2,250.6L367.8,250.3L368.4,250.8L369.1,250.1L369.7,251.1L370.4,250.1L371.0,251.2L371.7,250.6L372.3,251.2L373.0,253.1L373.6,252.3L374.1,251.1L374.7,249.3L375.4,248.1L376.1,247.4L376.7,246.0L377.4,246.3L378.0,246.2L378.6,244.6L379.2,245.0L380.0,247.6L380.6,246.6L381.3,246.6L381.9,246.4L382.5,246.0L383.1,245.2L383.8,244.3L384.4,244.8L385.0,244.3L385.7,244.7L386.3,243.2L386.9,243.0L387.5,242.5L388.2,241.9L388.8,241.7L389.4,242.1L390.1,241.0L390.7,239.9L391.3,239.8L391.9,238.7L392.6,238.0L393.2,237.3L393.8,237.2L394.4,235.0L395.1,235.0L395.7,235.1L396.3,233.6L397.0,233.7L397.6,233.0L398.2,232.9L398.8,232.0L399.5,230.9L400.1,230.5L400.7,230.1L401.4,227.8L402.0,227.9L402.6,226.7L403.2,226.7L403.9,227.1L404.5,227.9L405.1,227.5L405.8,228.4L406.4,228.6L407.0,228.4L407.6,229.2L408.3,228.9L408.9,229.5L409.5,229.3L410.2,230.0L410.8,228.2L411.5,228.1L412.2,225.9L412.8,225.1L413.3,226.2L413.9,225.4L414.5,223.5L415.1,221.8L415.7,220.4L416.3,220.1L416.9,219.7L417.6,220.3L418.2,220.4L418.9,220.2L419.5,221.1L420.2,221.7L420.9,220.0L421.5,219.9L422.2,217.9L422.8,216.1L423.4,212.8L424.0,210.4L424.6,209.1L425.2,207.3L426.0,211.5L426.7,214.1L427.5,215.1L428.2,215.9L429.0,217.9L429.6,218.7L430.2,219.9L430.8,221.7L431.4,221.2L432.1,219.8L432.8,219.2L433.4,218.6L434.0,219.1L434.7,217.7L435.3,217.9L435.9,219.1L436.5,219.4L437.2,219.6L437.8,220.4L438.4,221.3L439.1,220.8L439.7,222.0L440.3,221.7L440.9,222.2L441.6,221.3L442.2,221.4L442.8,220.9L443.5,221.1L444.2,220.2L444.8,219.2L445.5,219.2L446.1,218.9L446.7,218.6L447.3,217.4L448.0,218.1L448.6,218.8L449.2,217.8L449.9,218.4L450.5,220.9L451.1,222.9L452.1,230.0L452.8,230.2L453.5,229.6L454.1,229.7L454.8,229.2L455.4,228.5L456.0,229.6L456.6,228.5L457.3,227.9L457.9,227.9L458.5,228.4L459.2,227.5L459.8,226.5L460.4,227.5L461.0,225.6L461.7,225.9L462.3,224.8L462.9,225.2L463.6,224.9L464.2,224.9L464.8,225.5L465.4,225.2L466.1,224.8L466.7,224.2L467.3,223.9L468.0,223.9L468.6,223.1L469.2,223.4L469.8,223.4L470.4,222.1L471.0,221.7L471.7,219.6L472.5,218.4L473.1,218.5L473.7,217.5L474.4,217.7L475.0,217.9L475.6,218.5L476.2,216.9L476.9,216.9L477.5,217.4L478.1,216.7L478.8,216.6L479.4,216.7L480.0,216.6L480.6,216.0L481.3,216.0L481.9,215.6L482.5,215.9L483.1,216.1L483.7,217.4L484.3,217.9L484.9,221.4L485.5,225.4L486.2,225.8L486.8,227.2L487.4,226.5L488.1,228.0L488.7,227.4L489.3,228.8L489.9,228.2L490.6,228.5L491.2,228.7L491.8,227.3L492.5,227.7L493.1,227.5L493.7,228.2L494.3,227.4L495.0,228.3L495.6,228.0L496.2,228.3L496.9,228.0L497.5,229.2L498.1,228.5L498.7,228.4L499.4,228.8L500.0,229.2L500.6,229.2L501.2,228.4L501.9,228.9L502.5,228.1L503.1,227.5L503.8,227.2L504.4,226.8L505.0,227.2L505.6,225.9L506.3,225.4L507.0,223.7L507.7,221.7L508.3,221.3L509.0,221.0L509.7,220.9L510.4,222.6L511.2,224.2L511.8,223.7L512.4,224.1L513.1,226.0L513.7,225.4L514.3,225.1L514.9,226.9L515.6,226.7L516.2,226.7L516.9,227.7L517.5,226.4L518.2,227.5L518.9,226.4L519.6,226.6L520.2,225.4L520.8,223.9L521.5,223.5L522.1,223.3L522.7,222.9L523.4,221.1L524.0,219.8L524.6,219.5L525.2,217.9L525.8,216.5L526.4,217.4L527.0,215.9L527.6,217.0L528.2,216.8L528.8,218.4L529.4,218.5L530.1,216.8L530.8,216.6L531.4,216.9L532.0,217.4L532.7,216.9L533.3,217.9L533.9,218.7L534.5,218.6L535.2,219.6L535.8,220.9L536.5,223.2L537.1,224.5L537.8,225.4L538.4,225.8L539.1,226.4L539.7,227.1L540.3,226.7L541.0,225.7L541.6,226.1L542.2,225.1L542.8,225.4L543.4,223.2L544.0,221.7L544.6,220.9L545.2,220.1L545.9,219.6L546.5,219.6L547.1,219.9L547.7,219.2L548.3,219.1L548.9,218.4L549.5,218.2L550.2,217.5L550.9,215.9L551.5,217.4L552.2,218.1L552.9,219.2L553.5,219.7L554.1,218.2L554.8,217.9L555.4,218.4L556.0,219.4L556.7,219.4L557.3,219.0L557.9,219.9L558.5,219.5L559.2,219.2L559.8,219.2L560.4,219.2L561.1,219.2L561.7,219.4L562.3,220.3L562.9,219.9L563.6,220.1L564.2,219.3L564.8,218.7L565.5,218.4L566.1,217.9L566.7,218.6L567.3,218.9L568.0,217.9L568.6,217.7L569.2,218.9L569.9,219.2L570.5,219.2L571.1,218.0L571.7,215.5L572.2,214.9L572.9,215.2L573.5,214.9L574.1,215.1L574.8,215.9L575.4,215.6L576.0,215.3L576.6,214.8L577.3,214.1L577.9,214.3L578.5,213.9L579.2,213.1L579.8,212.9L580.4,211.9L581.0,213.1L581.7,213.1L582.3,212.4L582.9,210.1L583.5,206.6L584.2,207.0L584.9,206.3L585.6,207.3L586.1,208.6L586.7,210.3L587.3,212.9L587.9,212.4L588.6,211.4L589.2,210.0L589.8,209.9L590.5,210.1L591.1,209.5L591.7,208.7L592.3,207.3L593.0,207.1L593.6,206.6L594.2,206.3L594.9,206.6L595.5,207.0L596.1,206.6L596.7,205.6L597.4,205.8L598.0,206.1L598.6,205.1L599.3,204.4L599.9,204.1L600.5,203.5L601.1,203.6L601.8,202.7L602.4,202.3L603.0,202.1L603.7,200.6L604.3,201.2L604.9,200.3L605.5,199.8L606.2,200.8L606.8,199.4L607.4,199.8L608.0,199.6L608.7,200.1L609.3,200.0L609.9,200.3L610.5,201.6L611.1,203.6L611.7,204.1L612.4,204.4L613.0,206.2L613.7,206.6L614.3,207.4L615.0,208.0L615.6,207.8L616.2,208.4L616.9,207.7L617.6,206.9L618.2,206.6L618.8,206.0L619.4,205.0L620.0,204.8L620.6,205.1L621.2,206.5L621.7,207.3L622.4,205.3L623.1,204.3L623.8,202.8L624.4,202.5L625.0,201.5L625.6,200.7L626.3,200.8L626.9,201.2L627.5,201.8L628.2,200.9L628.8,201.6L629.4,202.0L630.0,202.2L630.7,202.8L631.3,202.3L631.9,202.8L632.5,202.2L633.2,202.2L633.8,202.8L634.4,203.7L635.1,203.1L635.7,202.9L636.3,204.1L637.0,204.2L637.7,202.4L638.3,202.3L638.9,201.1L639.5,200.3L640.1,199.8L640.7,200.8L641.3,203.1L641.8,204.1L642.5,204.0L643.2,204.5L643.9,204.8L644.5,204.2L645.1,204.4L645.7,202.5L646.4,202.8L647.0,201.7L647.5,199.6L648.1,199.1L648.9,195.9L649.6,194.0L650.3,194.4L650.9,194.2L651.5,193.8L652.2,194.8L652.8,195.4L653.4,196.4L654.0,196.4L654.7,196.5L655.3,196.8L655.9,197.7L656.5,198.2L657.2,197.8L657.8,197.5L658.4,198.1L659.1,199.6L659.7,199.1L660.3,199.4L660.9,197.6L661.6,198.1L662.2,197.3L662.8,197.8L663.5,197.1L664.1,197.1L664.7,196.5L665.3,196.0L665.9,194.9L666.5,194.8L667.1,194.9L667.6,195.2L668.2,196.5L668.9,199.7L669.5,202.3L670.2,202.0L670.8,203.2L671.5,203.3L672.1,202.7L672.8,202.3L673.4,202.9L674.0,201.6L674.6,201.1L675.3,200.9L675.9,200.4L676.5,200.3L677.2,199.2L677.8,198.6L678.4,198.5L679.0,197.8L679.7,198.1L680.3,196.4L680.9,197.7L681.6,196.5L682.2,196.9L682.8,195.7L683.4,196.9L684.1,196.5L684.7,196.8L685.3,197.4L685.9,197.1L686.6,198.3L687.2,198.7L687.8,199.1L688.5,199.9L689.1,199.8L689.7,199.1L690.3,198.5L691.0,197.8L691.6,196.5L692.2,195.4L692.9,194.4L693.5,194.6L694.1,194.0L694.7,193.2L695.4,193.0L696.0,193.1L696.6,193.3L697.3,192.9L697.9,192.6L698.5,192.2L699.1,191.5L699.8,191.7L700.4,190.3L701.0,190.4L701.6,192.0L702.2,192.8L702.8,191.7L703.4,192.4L704.0,191.7L704.7,191.5L705.3,190.7L705.9,190.9L706.6,191.4L707.2,191.0L707.9,191.4L708.5,192.7L709.2,192.3L709.9,193.2L710.5,194.3L711.2,195.8L711.8,196.9L712.5,196.7L713.1,196.2L713.7,197.3L714.3,197.9L715.0,197.3L715.6,198.5L716.2,197.8L716.8,198.5L717.4,199.2L718.0,199.1L718.7,201.0L719.3,201.6L720.0,202.8L720.6,203.8L721.3,202.2L721.9,202.9L722.5,203.3L723.1,203.2L723.8,200.9L724.4,201.4L725.0,200.3L725.7,200.6L726.3,199.4L726.9,199.1L727.5,197.8L728.2,196.5L728.8,196.9L729.4,196.5L730.1,195.8L730.7,195.0L731.3,194.4L731.9,194.4L732.6,193.3L733.2,192.9L733.8,192.8L734.4,194.0L735.1,194.0L735.7,195.1L736.3,195.0L737.0,194.9L737.6,194.8L738.2,193.9L738.8,194.5L739.5,192.4L740.1,192.8L740.7,192.0L741.4,192.7L742.0,192.5L742.6,191.5L743.2,190.9L743.9,191.4L744.5,189.5L745.1,189.8L745.8,188.4L746.5,186.0L747.1,185.2L747.7,185.2L748.3,185.5L748.9,186.5L749.5,186.4L750.1,188.0L750.7,189.0L751.3,188.2L752.0,186.9L752.7,186.5L753.3,185.8L753.9,183.8L754.6,183.7L755.2,182.7L755.8,182.0L756.4,181.0L757.1,181.2L757.7,179.7L758.3,179.5L759.0,180.5L759.6,181.0L760.2,181.5L760.8,180.9L761.5,181.7L762.1,180.7L762.7,180.2L763.3,179.7L764.0,179.1L764.6,178.6L765.2,178.2L765.9,178.9L766.5,178.5L767.1,178.1L767.7,177.7L768.4,177.4L769.0,178.5L769.6,178.0L770.3,179.0L770.9,178.5L771.5,177.7L772.1,178.8L772.8,178.2L773.4,178.9L774.0,178.2L774.7,177.9L775.3,177.7L775.9,177.1L776.5,177.3L777.2,177.3L777.8,177.2L778.5,176.0L779.1,174.6L779.8,173.9L780.4,172.0L781.0,171.5L781.6,169.7L782.2,170.6L782.8,170.5L783.5,170.2L784.1,170.2L784.7,169.6L785.3,170.4L786.0,171.7L786.6,171.4L787.2,171.8L787.8,170.6L788.5,170.2L789.1,169.7L789.7,169.8L790.4,168.8L791.0,169.5L791.6,168.9L792.2,168.8L792.9,169.9L793.5,169.4L794.1,169.7L794.8,169.8L795.4,169.4L796.0,169.1L796.6,168.9L797.3,168.6L797.9,169.3L798.5,168.8L799.2,168.1L799.8,168.8L800.4,169.8L801.0,171.3L801.7,171.4L802.3,172.5L802.9,172.9L803.6,174.1L804.2,173.9L804.8,172.8L805.4,173.3L805.9,172.7L806.7,171.9L807.5,170.7L808.0,171.4L808.6,173.2L809.2,173.2L809.8,174.8L810.5,174.6L811.1,175.8L811.7,176.4L812.4,177.4L813.0,177.7L813.6,177.5L814.2,178.2L814.9,178.0L815.5,176.4L816.1,175.3L816.7,175.2L817.4,175.8L818.0,176.1L818.6,176.0L819.3,176.4L819.9,176.2L820.5,176.9L821.1,176.4L821.8,175.7L822.4,175.9L823.0,177.2L823.7,176.9L824.3,177.2L824.9,176.6L825.5,176.7L826.2,176.6L826.8,175.7L827.4,177.1L828.0,177.3L828.6,177.7L829.2,179.3L829.9,180.0L830.6,181.5L831.2,181.3L831.8,182.6L832.5,182.7L833.1,184.0L833.8,186.4L834.4,187.1L835.1,189.0L835.7,188.9L836.3,188.8L837.0,187.5L837.6,187.7L838.2,188.7L838.9,188.1L839.5,187.9L840.1,189.0L840.7,190.1L841.4,190.7L842.0,192.6L842.6,192.8L843.3,192.0L843.9,190.8L844.5,190.0L845.1,190.3L845.8,188.4L846.5,188.2L847.2,187.2L847.9,189.1L848.7,190.3L849.3,190.3L850.0,191.6L850.7,192.8L851.3,193.0L851.9,194.1L852.6,194.6L853.2,194.0L853.8,195.0L854.4,194.9L855.1,195.1L855.7,195.3L856.3,195.1L857.0,196.1L857.6,195.6L858.2,196.5L858.9,197.3L859.6,199.3L860.2,199.8L860.8,200.7L861.5,201.7L862.1,202.0L862.7,202.8L863.4,203.2L864.0,204.3L864.6,205.2L865.2,205.8L865.9,205.8L866.5,207.2L867.1,207.8L867.8,207.3L868.4,207.5L869.0,208.4L869.6,210.2L870.3,210.4L870.9,210.1L871.5,208.6L872.2,208.6L872.8,207.8L873.4,207.5L874.0,208.8L874.7,208.4L875.3,208.4L875.9,208.6L876.6,208.1L877.2,208.7L877.8,209.1L878.4,208.9L879.1,208.5L879.7,208.0L880.3,208.4L881.0,207.7L881.6,208.5L882.2,208.7L882.8,207.8L883.5,208.2L884.1,207.4L884.7,207.4L885.4,206.6L886.0,205.3L886.6,204.8L887.2,205.1L887.9,204.1L888.5,202.7L889.1,202.5L889.7,203.3L890.4,202.3L891.0,202.0L891.6,202.3L892.3,202.9L892.9,203.3L893.5,203.8L894.1,202.2L894.8,203.6L895.4,202.8L896.2,202.5L896.9,203.0L897.7,202.8L898.4,202.8L899.0,206.5L899.7,211.6L900.3,216.8L900.9,220.4L901.6,223.6L902.2,228.0L902.8,230.3L903.4,232.3L903.9,233.5L904.6,233.6L905.3,234.8L906.0,234.2L906.6,233.0L907.2,232.7L907.8,232.9L908.5,232.5L909.1,232.3L909.7,234.3L910.4,234.4L911.0,235.0L911.6,236.0L912.2,235.5L912.9,235.5L913.5,236.7L914.1,237.8L914.8,236.9L915.4,237.5L916.0,238.0L916.6,237.6L917.3,238.8L917.9,238.9L918.5,239.3L919.2,239.1L919.9,239.3L920.5,240.5L921.2,239.7L921.8,240.0L922.4,238.4L923.0,238.5L923.7,237.6L924.3,237.8L924.9,237.4L925.6,236.7L926.2,236.9L926.8,236.1L927.4,236.1L928.1,235.0L928.7,234.0L929.3,235.0L930.0,233.0L930.6,233.5L931.2,232.0L931.8,231.3L932.5,231.7L933.1,230.5L933.7,230.3L934.3,230.9L934.9,230.0L935.4,232.0L936.0,233.1L936.6,233.5L937.2,233.2L937.9,232.3L938.5,233.0L939.1,231.7L939.8,232.3L940.4,231.6L941.0,232.4L941.6,232.5L942.3,231.2L942.9,230.9L943.5,231.6L944.2,231.0L944.8,230.9L945.4,230.7L946.0,230.1L946.7,229.2L947.3,228.2L947.9,229.0L948.6,229.1L949.2,228.0L949.8,228.0L950.4,227.3L951.1,226.6L951.7,226.7L952.3,226.1L952.9,227.3L953.6,228.1L954.2,227.5L954.8,226.4L955.5,227.3L956.1,227.0L956.7,225.9L957.3,225.9L958.0,226.9L958.6,225.9L959.2,226.7L959.9,226.5L960.5,227.2L961.1,227.9L961.7,227.5L962.4,227.8L963.0,227.2L963.6,229.0L964.3,228.5L964.9,228.5L965.5,228.7L966.1,227.6L966.8,228.0L967.4,227.2L968.0,226.2L968.7,225.9L969.3,225.9L969.9,226.3L970.5,226.8L971.2,227.7L971.8,228.0L972.4,228.7L973.1,227.9L973.7,229.1L974.3,228.5L974.9,229.2L975.6,229.2L976.2,229.4L976.8,230.5L977.5,231.2L978.1,230.5L978.7,229.3L979.3,230.0L980.0,230.1L980.6,229.4L981.2,229.3L981.8,229.2L982.5,229.5L983.1,228.3L983.7,228.2L984.4,228.5L985.0,229.3L985.6,230.8L986.2,230.2L986.9,231.7L987.5,233.0L988.1,233.4L988.8,233.0L989.4,234.2L990.0,234.7L990.6,234.8L991.3,235.2L991.9,235.0L992.6,236.5L993.2,237.5L993.9,239.3L994.6,240.4L995.3,241.0L995.9,242.5L996.5,238.7L997.2,235.0L997.8,234.6L998.3,233.8L998.9,234.2L999.6,234.2L1000.3,234.8L1000.9,235.5L1001.6,234.5L1002.3,233.9L1003.0,233.0L1003.6,233.3L1004.2,232.3L1004.8,232.7L1005.5,232.5L1006.1,232.4L1006.7,232.5L1007.4,232.6L1008.0,233.5L1008.6,234.7L1009.2,235.0L1009.9,235.2L1010.5,235.0L1011.1,233.9L1011.8,233.4L1012.4,232.8L1013.0,233.0L1013.6,232.0L1014.3,231.6L1014.9,230.2L1015.5,230.5L1016.1,229.8L1016.8,229.8L1017.4,229.6L1018.0,228.5L1018.7,227.8L1019.3,227.3L1019.9,228.6L1020.5,228.0L1021.2,227.6L1021.8,227.4L1022.4,227.0L1023.1,227.5L1023.7,227.3L1024.3,227.5L1024.9,227.8L1025.6,228.5L1026.2,228.4L1026.8,229.2L1027.5,230.1L1028.1,230.0L1028.7,229.4L1029.3,229.3L1029.8,229.2L1030.4,230.9L1031.0,233.2L1031.6,234.2L1032.3,236.4L1032.9,238.5L1033.6,239.3L1034.3,240.1L1035.0,242.7L1035.6,243.5L1036.3,243.5L1036.9,244.4L1037.5,244.7L1038.1,245.0L1038.8,244.5L1039.4,243.5L1040.0,242.4L1040.7,242.5L1041.3,241.1L1041.9,242.3L1042.5,241.7L1043.2,240.5L1043.8,240.1L1044.4,239.2L1045.0,240.2L1045.7,239.3L1046.3,238.9L1046.9,238.6L1047.6,238.6L1048.2,238.0L1048.8,237.5L1049.4,237.7L1050.1,238.9L1050.7,238.5L1051.3,239.3L1052.0,240.1L1052.6,239.5L1053.2,240.0L1053.8,241.3L1054.5,241.6L1055.1,241.3L1055.7,241.8L1056.4,242.8L1057.0,241.8L1057.6,241.9L1058.2,243.0L1058.8,243.4L1059.4,242.0L1060.0,242.5L1060.7,244.4L1061.3,246.6L1062.0,248.1L1062.6,249.6L1063.2,250.1L1063.8,251.8L1064.4,252.0L1065.0,250.4L1065.7,251.0L1066.3,250.6L1066.9,251.8L1067.5,251.7L1068.2,251.7L1068.8,252.6L1069.4,254.9L1070.0,255.8L1070.6,256.9L1071.2,258.5L1071.9,259.7L1072.6,260.1L1073.2,261.5L1073.8,261.5L1074.4,262.6L1075.1,262.6L1075.7,263.1L1076.3,263.1L1077.0,263.6L1077.6,264.4L1078.2,264.6L1078.8,264.8L1079.5,266.5L1080.1,266.9L1080.7,267.2L1081.4,268.5L1082.0,267.4L1082.6,268.7L1083.3,267.7L1084.0,265.3L1084.6,264.4L1085.3,263.7L1086.0,263.2L1086.6,263.1L1087.3,265.5L1088.0,266.4L1088.6,267.7L1089.3,268.4L1090.0,268.8L1090.7,270.2L1091.3,269.2L1091.9,269.6L1092.5,270.5L1093.2,269.4L1093.8,269.6L1094.4,270.4L1095.1,271.0L1095.7,270.7L1096.3,269.7L1096.9,270.1L1097.6,270.1L1098.2,270.2L1098.9,270.5L1099.5,271.6L1100.2,272.7L1100.9,272.2L1101.5,270.4L1102.2,270.2L1102.8,270.1L1103.5,269.1L1104.1,269.3L1104.7,268.7L1105.4,268.6L1106.0,270.2L1106.6,270.0L1107.2,270.7L1107.9,271.8L1108.5,272.5L1109.1,272.3L1109.8,272.7L1110.4,272.3L1111.0,273.3L1111.6,274.9L1112.3,274.4L1112.9,275.3L1113.5,276.2L1114.2,276.3L1114.8,277.0L1115.4,277.3L1116.0,276.8L1116.7,275.8L1117.3,275.2L1117.9,276.0L1118.6,275.7L1119.2,276.2L1119.8,277.7L1120.4,277.6L1121.1,279.0L1121.7,279.7L1122.3,279.5L1122.9,279.8L1123.6,279.8L1124.2,278.1L1124.8,278.7L1125.5,277.6L1126.1,277.8L1126.7,277.1L1127.3,277.7L1128.0,277.9L1128.6,278.5L1129.2,278.4L1129.9,277.7L1130.5,276.9L1131.1,277.9L1131.7,277.8L1132.4,277.5L1133.0,278.8L1133.7,279.5L1134.4,280.7L1135.0,281.2L1135.6,283.3L1136.3,284.3L1136.9,284.5L1137.5,284.7L1138.2,284.2L1138.8,283.1L1139.4,283.7L1140.0,282.9L1140.7,282.4L1141.3,282.0L1141.9,282.0L1142.5,282.1L1143.2,283.5L1143.8,284.2L1144.4,284.5L1145.1,284.5L1145.7,286.5L1146.3,285.5L1146.9,287.0L1147.6,288.1L1148.2,287.8L1148.8,288.2L1149.5,288.3L1150.1,287.7L1150.7,288.4L1151.3,288.6L1152.0,287.8L1152.6,287.0L1153.2,286.7L1153.9,287.7L1154.5,287.0L1155.1,286.2L1155.7,285.7L1156.4,286.0L1157.0,285.8L1157.6,285.5L1158.3,285.9L1158.9,286.3L1159.5,287.0L1160.1,286.6L1160.8,288.2L1161.4,288.1L1162.0,288.3L1162.7,288.9L1163.3,288.5L1163.9,289.7L1164.5,289.5L1165.2,290.5L1165.8,290.8L1166.4,289.3L1167.1,290.3L1167.7,289.7L1168.3,289.2L1168.9,289.7L1169.6,289.5L1170.2,290.1L1170.8,290.3L1171.4,290.2L1172.1,290.8L1172.7,291.5L1173.3,290.7L1174.0,291.3L1174.6,290.3L1175.2,290.6L1175.8,291.4L1176.5,290.9L1177.1,292.0L1177.7,291.9L1178.4,291.9L1179.0,291.0L1179.6,291.3L1180.2,292.0L1180.9,291.6L1181.5,292.7L1182.1,293.3L1182.9,294.5L1183.6,295.3L1184.3,294.6L1184.9,293.4L1185.5,292.9L1186.1,292.8L1186.8,292.4L1187.4,292.7L1188.0,292.1L1188.7,292.0L1189.3,291.9L1189.9,292.6L1190.5,293.0L1191.2,293.8L1191.8,292.9L1192.4,293.4L1193.1,293.0L1193.7,292.8L1194.3,292.3L1194.9,291.5L1195.6,293.0L1196.2,292.0L1196.9,291.8L1197.5,292.5L1198.2,293.8L1199.0,295.7L1199.7,298.3L1200.5,301.3L1201.2,303.3L1201.9,304.8L1202.5,305.1L1203.1,304.7L1203.7,305.9L1204.4,307.2L1205.0,306.5L1205.6,307.4L1206.3,308.9L1206.9,307.9L1207.5,308.5L1208.1,308.3L1208.8,307.9L1209.4,307.7L1210.0,307.9L1210.7,307.2L1211.3,306.4L1211.9,306.7L1212.5,305.5L1213.2,306.7L1213.8,305.9L1214.4,306.3L1215.0,305.8L1215.7,304.2L1216.3,304.6L1216.9,304.4L1217.6,303.4L1218.2,302.8L1218.8,302.1L1219.4,301.2L1220.1,301.7L1220.7,301.3L1221.3,300.3L1222.0,300.9L1222.6,300.2L1223.2,301.1L1223.8,300.8L1224.5,300.6L1225.1,302.2L1225.7,301.5L1226.4,302.8L1227.0,302.2L1227.6,302.6L1228.2,303.9L1228.9,303.8L1229.5,304.6L1230.1,303.5L1230.8,303.7L1231.4,303.3L1232.0,303.4L1232.6,303.7L1233.3,303.8L1233.9,302.8L1234.5,303.7L1235.2,303.0L1235.8,302.8L1236.4,303.8L1237.0,304.3L1237.7,302.9L1238.3,303.6L1238.9,302.8L1239.5,303.9L1240.2,303.1L1240.8,303.6L1241.4,304.6L1242.1,304.3L1242.7,304.8L1243.3,304.7L1243.9,303.8L1244.6,305.2L1245.2,304.4L1245.8,305.6L1246.5,305.9L1247.1,307.8L1247.8,308.1L1248.5,309.6L1249.1,310.9L1249.8,311.3L1250.5,312.9L1251.1,313.7L1251.7,313.0L1252.4,313.2L1253.0,313.4L1253.6,313.5L1254.2,312.8L1254.9,313.6L1255.5,312.9L1256.1,313.6L1256.8,314.3L1257.4,315.6L1258.0,315.9L1258.6,316.3L1259.3,316.5L1259.9,317.0L1260.5,316.4L1261.2,316.1L1261.9,314.6L1262.5,313.9L1263.2,314.8L1263.9,315.9L1264.6,315.9L1265.2,315.9L1265.8,317.7L1266.4,318.2L1267.1,318.9L1267.7,318.3L1268.3,317.4L1269.0,317.2L1269.6,317.2L1270.2,317.3L1270.8,317.2L1271.5,317.1L1272.1,315.9L1272.8,314.5L1273.6,312.1L1274.3,313.1L1274.9,313.2L1275.6,312.9L1276.3,311.8L1276.9,312.2L1277.6,311.4L1278.3,312.7L1279.0,313.2L1279.6,313.4L1280.3,312.3L1281.0,312.4L1281.6,311.4L1282.3,311.7L1283.0,312.3L1283.7,312.9L1284.3,313.5L1285.0,313.5L1285.7,313.4L1286.3,311.9L1287.0,312.0L1287.7,310.9L1288.4,311.6L1289.2,313.9L1289.8,314.0L1290.5,315.8L1291.2,315.9L1291.5,321.2L1292.1,322.8L1292.8,322.4L1293.4,323.6L1294.1,324.7L1294.7,324.2L1295.3,325.3L1296.0,325.5L1296.6,325.5L1297.3,326.0L1297.9,324.7L1298.6,324.8L1299.2,324.3L1299.8,323.6L1300.5,323.4L1301.1,321.9L1301.8,321.0L1302.4,321.1L1303.1,321.2L1303.7,320.6L1304.3,321.2L1305.0,321.9L1305.6,321.0L1306.3,321.5L1306.9,320.5L1307.6,321.9L1308.2,321.3L1308.9,322.4L1309.5,323.3L1310.1,324.4L1310.8,325.3L1311.4,325.9L1312.1,327.4L1312.7,327.2L1313.4,328.4L1314.0,327.2L1314.6,328.4L1315.3,328.7L1315.9,329.3L1316.6,329.6L1317.2,329.1L1317.9,328.1L1318.5,327.2L1319.1,328.8L1319.8,328.4L1320.4,330.1L1321.1,329.9L1321.7,330.4L1322.4,329.6L1323.0,329.5L1323.6,329.9L1324.3,330.9L1324.9,331.6L1325.6,331.3L1326.2,332.5L1326.9,331.8L1327.5,330.3L1328.1,330.1L1328.8,329.2L1329.4,329.2L1330.1,329.2L1330.7,329.8L1331.4,329.7L1332.0,329.6L1332.6,329.2L1333.3,328.6L1333.9,327.7L1334.6,327.2L1335.2,327.9L1335.9,326.8L1336.5,326.1L1337.1,325.4L1337.8,324.3L1338.4,323.9L1339.1,324.5L1339.7,325.3L1340.4,325.1L1341.0,325.5L1341.6,324.3L1342.3,324.5L1342.9,323.1L1343.6,323.6L1344.2,324.4L1344.9,323.6L1345.5,324.3L1346.1,324.3L1346.8,323.3L1347.4,323.6L1348.1,322.6L1348.7,323.6L1349.4,322.9L1350.0,323.5L1350.6,324.4L1351.3,324.8L1351.9,325.6L1352.6,325.8L1353.2,326.0L1353.9,326.3L1354.5,326.5L1355.1,327.2L1355.8,326.6L1356.4,325.5L1357.1,325.3L1357.7,325.4L1358.4,326.8L1359.0,326.8L1359.7,326.2L1360.3,326.7L1360.9,326.0L1361.6,326.9L1362.2,327.1L1362.9,327.7L1363.5,328.5L1364.2,327.9L1364.8,328.4L1365.4,327.8L1366.1,329.5L1366.7,329.2L1367.4,329.8L1368.0,329.9L1368.7,329.6L1369.3,330.6L1369.9,329.8L1370.6,330.1L1371.2,329.8L1371.9,330.0L1372.5,329.6L1373.2,329.7L1374.0,328.4" stroke="#7f8c8d"/>
</g>
<g id="candles" fill="none" stroke-width="1.9">
<path d="M45.5,697.5V700.9M46.2,698.7V702.1M46.9,696.6V700.7" stroke="#3D9970"/>
<path d="M47.5,696.5V699.1M48.2,695.0V699.5" stroke="#FF4136"/>
<path d="M48.8,694.2V698.9M49.5,694.3V700.2" stroke="#3D9970"/>
<path d="M50.2,693.4V699.1" stroke="#FF4136"/>
<path d="M50.8,696.4V700.1M51.5,696.9V701.1M52.1,694.5V701.1M52.8,694.7V700.4" stroke="#3D9970"/>
<path d="M53.5,693.6V700.3M54.1,698.0V701.4" stroke="#FF4136"/>
<path d="M54.8,693.9V701.6M55.5,694.1V699.4M56.1,691.7V700.3M56.8,691.8V697.3" stroke="#3D9970"/>
<path d="M57.4,688.6V694.3" stroke="#FF4136"/>
<path d="M58.1,688.4V693.6M58.8,686.2V692.1M59.4,682.3V690.2M60.1,677.7V687.2" stroke="#3D9970"/>
<path d="M60.7,678.4V682.4M61.4,675.0V681.7" stroke="#FF4136"/>
<path d="M62.1,674.9V680.3M62.7,674.9V678.2M63.4,670.4V678.3M64.1,670.4V674.7" stroke="#3D9970"/>
<path d="M64.7,669.7V675.8" stroke="#FF4136"/>
<path d="M65.4,669.2V675.2M66.0,666.9V671.5M66.7,667.3V669.5" stroke="#3D9970"/>
<path d="M67.4,667.2V673.3" stroke="#FF4136"/>
<path d="M68.0,668.8V676.0M68.7,671.3V678.9" stroke="#3D9970"/>
<path d="M69.3,674.5V678.5" stroke="#FF4136"/>
<path d="M70.0,673.6V678.6" stroke="#3D9970"/>
<path d="M70.7,671.2V677.8" stroke="#FF4136"/>
<path d="M71.3,670.4V676.7" stroke="#3D9970"/>
<path d="M72.0,670.7V674.3" stroke="#FF4136"/>
<path d="M72.7,667.3V675.0M73.3,666.5V673.9" stroke="#3D9970"/>
<path d="M74.0,667.6V675.3" stroke="#FF4136"/>
<path d="M74.6,670.0V673.5M75.3,670.2V674.4" stroke="#3D9970"/>
<path d="M76.0,668.5V678.1M76.6,673.3V677.0" stroke="#FF4136"/>
<path d="M77.3,672.3V678.7" stroke="#3D9970"/>
<path d="M77.9,672.2V680.2M78.6,673.4V680.2" stroke="#FF4136"/>
<path d="M79.3,674.9V679.5M79.9,669.3V678.0" stroke="#3D9970"/>
<path d="M80.6,667.4V673.9" stroke="#FF4136"/>
<path d="M81.3,663.6V673.0" stroke="#3D9970"/>
<path d="M81.9,660.8V669.2" stroke="#FF4136"/>
<path d="M82.6,661.3V665.0" stroke="#3D9970"/>
<path d="M83.2,659.6V665.7M83.9,654.7V663.1" stroke="#FF4136"/>
<path d="M84.6,653.1V660.0M85.2,651.0V657.7M85.9,647.9V655.3" stroke="#3D9970"/>
<path d="M86.5,648.1V652.7" stroke="#FF4136"/>
<path d="M87.2,648.5V654.8" stroke="#3D9970"/>
<path d="M87.9,652.2V657.3M88.5,653.7V663.6M89.2,660.4V667.7" stroke="#FF4136"/>
<path d="M89.9,662.6V668.7" stroke="#3D9970"/>
<path d="M90.5,663.4V671.0" stroke="#FF4136"/>
<path d="M91.2,666.2V671.6M91.8,663.7V671.6" stroke="#3D9970"/>
<path d="M92.5,661.1V667.2M93.2,659.4V665.5" stroke="#FF4136"/>
<path d="M93.8,658.8V663.8" stroke="#3D9970"/>
<path d="M94.5,656.6V662.9M95.2,657.0V660.7M95.8,658.1V664.4M96.5,657.8V664.8M97.1,659.7V664.9M97.8,660.5V666.2M98.5,664.5V670.1M99.1,667.5V673.7M99.8,669.2V673.3M100.4,668.9V672.9M101.1,666.2V671.9M101.8,664.0V671.8" stroke="#FF4136"/>
<path d="M102.4,663.7V668.2" stroke="#3D9970"/>
<path d="M103.1,663.8V669.4M103.8,665.6V671.5M104.4,666.2V675.2" stroke="#FF4136"/>
<path d="M105.1,669.8V675.1M105.7,672.8V676.1" stroke="#3D9970"/>
<path d="M106.4,672.0V678.3" stroke="#FF4136"/>
<path d="M107.1,675.0V680.2M107.7,676.7V683.2" stroke="#3D9970"/>
<path d="M108.4,677.8V684.1M109.0,681.0V689.8M109.7,684.2V691.3M110.4,685.3V692.5M111.0,689.1V692.9M111.7,688.9V692.9M112.4,686.8V692.9" stroke="#FF4136"/>
<path d="M113.0,687.9V691.8M113.7,686.8V692.7" stroke="#3D9970"/>
<path d="M114.3,686.8V692.7" stroke="#FF4136"/>
<path d="M115.0,686.3V691.2M115.7,685.2V689.2M116.3,683.3V688.4M117.0,682.2V685.7" stroke="#3D9970"/>
<path d="M117.6,681.1V690.4M118.3,686.1V692.6" stroke="#FF4136"/>
<path d="M119.0,688.3V695.4" stroke="#3D9970"/>
<path d="M119.6,688.7V695.4M120.3,690.6V696.7M121.0,691.6V698.0M121.6,692.5V698.9" stroke="#FF4136"/>
<path d="M122.3,695.2V698.1" stroke="#3D9970"/>
<path d="M122.9,694.1V699.4M123.6,694.9V700.1M124.3,697.2V703.0" stroke="#FF4136"/>
<path d="M124.9,697.6V702.3M125.6,695.5V701.6" stroke="#3D9970"/>
<path d="M126.2,696.1V700.1" stroke="#FF4136"/>
<path d="M126.9,692.5V700.7M127.6,692.7V696.7" stroke="#3D9970"/>
<path d="M128.2,691.6V696.1" stroke="#FF4136"/>
<path d="M128.9,692.1V697.8" stroke="#3D9970"/>
<path d="M129.6,692.5V700.1" stroke="#FF4136"/>
<path d="M130.2,694.9V700.9" stroke="#3D9970"/>
<path d="M130.9,698.7V702.6M131.5,696.8V702.1M132.2,695.8V701.1M132.9,693.9V700.4M133.5,696.1V705.6M134.2,700.6V703.8M134.8,700.7V704.8M135.5,701.6V707.9M136.2,701.9V707.1M136.8,702.9V710.9" stroke="#FF4136"/>
<path d="M137.5,705.5V711.7" stroke="#3D9970"/>
<path d="M138.2,707.3V710.6M138.8,707.0V712.9" stroke="#FF4136"/>
<path d="M139.5,704.8V709.8" stroke="#3D9970"/>
<path d="M140.1,702.1V709.8M140.8,700.6V707.5" stroke="#FF4136"/>
<path d="M141.5,699.4V705.8" stroke="#3D9970"/>
<path d="M142.1,700.5V703.2" stroke="#FF4136"/>
<path d="M142.8,700.3V704.7M143.4,696.6V704.5M144.1,695.8V701.7M144.8,693.3V701.2M145.4,691.2V698.1M146.1,691.8V695.4M146.8,690.4V694.6" stroke="#3D9970"/>
<path d="M147.4,688.5V693.6" stroke="#FF4136"/>
<path d="M148.1,687.8V692.9M148.7,684.1V690.7" stroke="#3D9970"/>
<path d="M149.4,684.4V689.4" stroke="#FF4136"/>
<path d="M150.1,686.1V690.0" stroke="#3D9970"/>
<path d="M150.7,684.9V690.6" stroke="#FF4136"/>
<path d="M151.4,683.6V691.8M152.1,684.9V690.5" stroke="#3D9970"/>
<path d="M152.7,684.0V689.6" stroke="#FF4136"/>
<path d="M153.4,684.6V690.7" stroke="#3D9970"/>
<path d="M154.0,684.3V690.5" stroke="#FF4136"/>
<path d="M154.7,683.8V690.5" stroke="#3D9970"/>
<path d="M155.4,680.1V686.3" stroke="#FF4136"/>
<path d="M156.0,678.3V685.1M156.7,677.5V683.0" stroke="#3D9970"/>
<path d="M157.3,677.3V683.8M158.0,679.7V687.9" stroke="#FF4136"/>
<path d="M158.7,682.8V686.9M159.3,679.3V685.1M160.0,672.2V682.4" stroke="#3D9970"/>
<path d="M160.7,666.2V674.9M161.3,665.1V674.2M162.0,670.8V681.4" stroke="#FF4136"/>
<path d="M162.6,675.6V681.5M163.3,670.7V681.8M164.0,666.6V674.2" stroke="#3D9970"/>
<path d="M164.6,661.7V669.8M165.3,655.8V663.8" stroke="#FF4136"/>
<path d="M165.9,651.3V660.1" stroke="#3D9970"/>
<path d="M166.6,650.6V656.1M167.3,647.6V654.7" stroke="#FF4136"/>
<path d="M167.9,647.5V652.0M168.6,644.7V651.0M169.3,642.9V647.8" stroke="#3D9970"/>
<path d="M169.9,642.5V648.4M170.6,643.6V651.7" stroke="#FF4136"/>
<path d="M171.2,642.7V649.4M171.9,639.3V646.7M172.6,634.0V643.6" stroke="#3D9970"/>
<path d="M173.2,633.4V638.7" stroke="#FF4136"/>
<path d="M173.9,632.5V637.7" stroke="#3D9970"/>
<path d="M174.5,633.2V639.1M175.2,633.1V642.4" stroke="#FF4136"/>
<path d="M175.9,632.2V644.8M176.5,629.5V637.5" stroke="#3D9970"/>
<path d="M177.2,628.5V638.7M177.9,633.6V643.5" stroke="#FF4136"/>
<path d="M178.5,638.8V642.8M179.2,634.9V642.6M179.8,631.4V639.7" stroke="#3D9970"/>
<path d="M180.5,631.5V642.1M181.2,638.5V647.3M181.8,642.9V651.3M182.5,646.2V653.8" stroke="#FF4136"/>
<path d="M183.1,649.3V654.5M183.8,646.0V653.0" stroke="#3D9970"/>
<path d="M184.5,643.3V649.1M185.1,643.5V653.7" stroke="#FF4136"/>
<path d="M185.8,644.4V653.4M186.5,636.1V651.0M187.1,631.6V640.4M187.8,628.7V634.5M188.4,628.6V634.7M189.1,627.7V635.2M189.8,631.6V634.9" stroke="#3D9970"/>
<path d="M190.4,631.1V638.8M191.1,635.0V642.1M191.7,637.9V648.0" stroke="#FF4136"/>
<path d="M192.4,643.9V651.8M193.1,648.3V654.7M193.7,646.6V655.3M194.4,642.9V650.1" stroke="#3D9970"/>
<path d="M195.1,640.9V646.0" stroke="#FF4136"/>
<path d="M195.7,638.2V645.8" stroke="#3D9970"/>
<path d="M196.4,634.1V642.1" stroke="#FF4136"/>
<path d="M197.0,633.0V638.2" stroke="#3D9970"/>
<path d="M197.7,632.0V636.2" stroke="#FF4136"/>
<path d="M198.4,630.7V634.6" stroke="#3D9970"/>
<path d="M199.0,630.6V633.9M199.7,630.3V632.9M200.3,629.5V632.7" stroke="#FF4136"/>
<path d="M201.0,627.8V634.0M201.7,627.3V632.3" stroke="#3D9970"/>
<path d="M202.3,625.2V631.4" stroke="#FF4136"/>
<path d="M203.0,624.5V630.0M203.7,624.0V629.8" stroke="#3D9970"/>
<path d="M204.3,623.9V629.0" stroke="#FF4136"/>
<path d="M205.0,625.7V634.0" stroke="#3D9970"/>
<path d="M205.6,629.9V635.8M206.3,631.5V637.1" stroke="#FF4136"/>
<path d="M207.0,629.3V636.6" stroke="#3D9970"/>
<path d="M207.6,627.8V632.6" stroke="#FF4136"/>
<path d="M208.3,628.7V632.0" stroke="#3D9970"/>
<path d="M209.0,627.9V633.4" stroke="#FF4136"/>
<path d="M209.6,629.8V637.9M210.3,630.5V636.9M210.9,628.7V636.0" stroke="#3D9970"/>
<path d="M211.6,630.4V635.6M212.3,629.1V634.0M212.9,631.0V634.5" stroke="#FF4136"/>
<path d="M213.6,626.5V633.5M214.2,626.1V632.9M214.9,623.5V629.8M216.9,630.7V635.2" stroke="#3D9970"/>
<path d="M217.6,630.7V640.7M218.2,635.4V642.7M218.9,638.6V645.5M219.6,635.9V644.2" stroke="#FF4136"/>
<path d="M220.2,634.4V640.6M220.9,632.6V639.1M221.5,630.2V636.0" stroke="#3D9970"/>
<path d="M222.2,627.8V635.7" stroke="#FF4136"/>
<path d="M222.9,625.7V631.3M223.5,624.4V629.7M224.2,622.3V627.4M224.9,622.9V626.6" stroke="#3D9970"/>
<path d="M225.5,621.6V625.3M226.2,622.8V627.4" stroke="#FF4136"/>
<path d="M226.8,621.1V626.6" stroke="#3D9970"/>
<path d="M227.5,620.3V624.0" stroke="#FF4136"/>
<path d="M228.2,617.1V624.3" stroke="#3D9970"/>
<path d="M228.8,616.2V622.5M229.5,616.4V622.0" stroke="#FF4136"/>
<path d="M230.1,615.1V620.2M230.8,610.2V617.2M231.5,610.1V615.9M232.1,610.6V613.8" stroke="#3D9970"/>
<path d="M232.8,606.4V614.8M233.5,605.3V611.3" stroke="#FF4136"/>
<path d="M234.1,605.8V609.1M234.8,601.5V609.9" stroke="#3D9970"/>
<path d="M235.4,599.3V604.7" stroke="#FF4136"/>
<path d="M236.1,596.5V604.1" stroke="#3D9970"/>
<path d="M236.8,595.6V600.7" stroke="#FF4136"/>
<path d="M237.4,597.5V606.2" stroke="#3D9970"/>
<path d="M238.1,602.1V610.6M238.7,607.5V616.8M239.4,611.1V620.8M240.1,614.8V622.7M240.7,617.4V623.4M241.4,620.8V625.8" stroke="#FF4136"/>
<path d="M242.1,621.5V626.2M242.7,621.7V623.9M243.4,615.8V625.3M244.0,610.2V621.4" stroke="#3D9970"/>
<path d="M244.7,609.5V615.0M245.4,606.3V611.8" stroke="#FF4136"/>
<path d="M246.0,600.3V610.3" stroke="#3D9970"/>
<path d="M246.7,600.5V604.8" stroke="#FF4136"/>
<path d="M247.3,597.2V604.2M248.0,598.0V601.4" stroke="#3D9970"/>
<path d="M248.7,597.1V602.7M249.3,598.1V607.9M250.0,603.5V609.1M250.7,604.1V611.8" stroke="#FF4136"/>
<path d="M251.3,607.5V614.5M252.0,606.7V616.6M252.6,606.2V612.4" stroke="#3D9970"/>
<path d="M253.3,606.6V616.1M254.0,611.6V619.1" stroke="#FF4136"/>
<path d="M254.6,616.4V620.2M255.3,610.7V620.4M255.9,610.3V615.1M256.6,607.4V613.0M257.3,604.4V612.6" stroke="#3D9970"/>
<path d="M257.9,606.2V611.6M258.6,606.9V614.1" stroke="#FF4136"/>
<path d="M259.6,622.7V626.9" stroke="#3D9970"/>
<path d="M260.3,622.6V628.8M261.0,625.7V631.3" stroke="#FF4136"/>
<path d="M261.6,626.9V630.9" stroke="#3D9970"/>
<path d="M262.3,623.8V629.4" stroke="#FF4136"/>
<path d="M262.9,619.5V626.2M263.6,616.8V624.3" stroke="#3D9970"/>
<path d="M264.3,617.3V622.0M264.9,615.6V622.9" stroke="#FF4136"/>
<path d="M265.6,618.6V622.3M266.2,617.8V622.6" stroke="#3D9970"/>
<path d="M266.9,617.3V621.9M267.6,618.0V623.1M268.2,618.1V628.2" stroke="#FF4136"/>
<path d="M268.9,622.8V628.7M269.6,620.7V628.2M270.2,619.1V626.2M270.9,614.9V623.4M271.5,615.5V619.8M272.2,613.2V620.6M272.9,610.2V617.5" stroke="#3D9970"/>
<path d="M273.5,611.6V615.2M274.2,607.6V614.6" stroke="#FF4136"/>
<path d="M274.8,608.1V613.5" stroke="#3D9970"/>
<path d="M275.5,607.3V614.8M276.2,611.3V616.5M276.8,612.8V617.8" stroke="#FF4136"/>
<path d="M277.5,612.9V616.7M278.2,611.8V617.5M278.8,612.2V616.4" stroke="#3D9970"/>
<path d="M280.7,600.6V604.8" stroke="#FF4136"/>
<path d="M281.4,600.8V604.9" stroke="#3D9970"/>
<path d="M282.1,600.0V606.7M282.7,601.4V606.9M283.4,601.1V605.5" stroke="#FF4136"/>
<path d="M284.0,601.0V605.7" stroke="#3D9970"/>
<path d="M284.7,602.2V608.4" stroke="#FF4136"/>
<path d="M285.4,606.1V610.6M286.0,606.3V610.7" stroke="#3D9970"/>
<path d="M286.7,606.1V611.9M287.4,609.2V615.9M288.0,611.7V617.5" stroke="#FF4136"/>
<path d="M288.7,612.7V617.8M289.3,610.8V614.7M290.0,608.4V613.1" stroke="#3D9970"/>
<path d="M290.7,608.9V616.0M291.3,610.3V616.4M292.0,612.0V618.5M292.6,614.0V620.6" stroke="#FF4136"/>
<path d="M293.3,616.1V618.8M294.0,614.9V618.8M294.6,613.9V620.0" stroke="#3D9970"/>
<path d="M295.3,611.9V618.4M296.0,612.1V616.6" stroke="#FF4136"/>
<path d="M296.6,612.2V618.4M297.3,611.7V619.2" stroke="#3D9970"/>
<path d="M297.9,609.8V616.3" stroke="#FF4136"/>
<path d="M298.6,607.3V614.4" stroke="#3D9970"/>
<path d="M299.3,604.3V612.0" stroke="#FF4136"/>
<path d="M299.9,603.0V608.0M300.6,601.0V605.9" stroke="#3D9970"/>
<path d="M301.2,601.8V609.7M301.9,605.7V613.3" stroke="#FF4136"/>
<path d="M302.6,608.9V612.9" stroke="#3D9970"/>
<path d="M303.2,609.7V614.6" stroke="#FF4136"/>
<path d="M303.9,609.4V613.5M304.6,602.3V612.7" stroke="#3D9970"/>
<path d="M305.2,601.7V607.9" stroke="#FF4136"/>
<path d="M305.9,600.5V607.2M306.5,599.7V605.1M307.2,600.9V603.8" stroke="#3D9970"/>
<path d="M307.9,600.4V605.3M308.5,600.3V605.0" stroke="#FF4136"/>
<path d="M309.2,598.6V604.5" stroke="#3D9970"/>
<path d="M309.9,599.3V602.6" stroke="#FF4136"/>
<path d="M310.5,595.4V602.6" stroke="#3D9970"/>
<path d="M311.2,597.5V601.7M311.8,595.2V601.9" stroke="#FF4136"/>
<path d="M312.5,595.0V599.9M313.2,595.2V600.1" stroke="#3D9970"/>
<path d="M313.8,594.0V599.1" stroke="#FF4136"/>
<path d="M314.5,592.4V598.1" stroke="#3D9970"/>
<path d="M315.1,595.7V602.9M315.8,597.4V602.9M316.5,599.8V606.5M317.1,600.6V604.5M317.8,600.8V604.7M318.5,602.5V608.0" stroke="#FF4136"/>
<path d="M319.1,603.2V608.8" stroke="#3D9970"/>
<path d="M319.8,605.3V610.4M320.4,605.0V610.3M321.1,605.1V612.4" stroke="#FF4136"/>
<path d="M321.8,608.6V614.2" stroke="#3D9970"/>
<path d="M322.4,609.2V614.1M323.1,609.3V614.5M323.7,610.4V615.5M324.4,609.3V614.7M325.1,611.2V617.6M325.7,614.3V624.0M326.4,618.8V622.9M327.1,617.3V624.6" stroke="#FF4136"/>
<path d="M327.7,614.8V622.7M328.4,611.8V618.4" stroke="#3D9970"/>
<path d="M329.0,612.3V616.3" stroke="#FF4136"/>
<path d="M329.7,609.5V616.4" stroke="#3D9970"/>
<path d="M330.4,608.1V613.8M331.0,607.8V613.1" stroke="#FF4136"/>
<path d="M331.7,608.3V612.3M332.3,606.4V611.9" stroke="#3D9970"/>
<path d="M333.0,606.9V609.0M333.7,607.0V612.1" stroke="#FF4136"/>
<path d="M334.3,607.3V613.0M335.0,610.4V616.3" stroke="#3D9970"/>
<path d="M335.7,610.6V616.3M336.3,611.6V618.6M337.0,614.3V617.9" stroke="#FF4136"/>
<path d="M337.6,615.6V617.9" stroke="#3D9970"/>
<path d="M338.3,614.6V622.2" stroke="#FF4136"/>
<path d="M339.0,616.5V623.6" stroke="#3D9970"/>
<path d="M339.6,620.3V624.0M340.3,619.2V626.1" stroke="#FF4136"/>
<path d="M340.9,621.0V628.5M341.6,623.7V627.0" stroke="#3D9970"/>
<path d="M342.3,622.3V628.4M342.9,625.0V631.7" stroke="#FF4136"/>
<path d="M343.6,625.5V631.6" stroke="#3D9970"/>
<path d="M344.3,625.9V635.1M344.9,630.9V637.1" stroke="#FF4136"/>
<path d="M345.6,634.0V637.1M346.2,630.0V636.8" stroke="#3D9970"/>
<path d="M346.9,627.2V635.9M347.6,627.4V630.9M348.2,622.6V631.4" stroke="#FF4136"/>
<path d="M348.9,622.4V627.6M349.5,623.2V626.2" stroke="#3D9970"/>
<path d="M350.2,623.4V628.3" stroke="#FF4136"/>
<path d="M350.9,623.5V626.8" stroke="#3D9970"/>
<path d="M351.5,623.5V629.1M352.2,625.8V630.4M352.9,623.8V628.2" stroke="#FF4136"/>
<path d="M353.5,624.2V627.6" stroke="#3D9970"/>
<path d="M354.2,620.4V628.9" stroke="#FF4136"/>
<path d="M354.8,618.3V624.7M355.5,618.0V622.3M356.2,619.1V622.1M356.8,618.0V622.2M357.5,617.0V620.4" stroke="#3D9970"/>
<path d="M358.1,615.4V620.5" stroke="#FF4136"/>
<path d="M358.8,615.7V620.1M359.5,615.6V620.7" stroke="#3D9970"/>
<path d="M360.1,616.6V619.7M360.8,616.0V620.3M361.5,616.4V623.5" stroke="#FF4136"/>
<path d="M362.1,616.3V622.5M362.8,618.2V622.7M363.4,617.0V622.1" stroke="#3D9970"/>
<path d="M364.1,616.8V621.4M364.8,616.4V624.1M365.4,619.2V625.7M366.1,619.7V625.8M366.8,621.5V625.6" stroke="#FF4136"/>
<path d="M367.4,623.5V626.6" stroke="#3D9970"/>
<path d="M368.1,623.4V626.5M368.7,623.4V628.8M369.4,623.8V628.4M370.1,626.5V630.6M370.7,628.0V631.1" stroke="#FF4136"/>
<path d="M371.4,626.5V633.0M372.0,624.6V630.1" stroke="#3D9970"/>
<path d="M372.7,625.3V629.3" stroke="#FF4136"/>
<path d="M373.4,623.1V630.4M374.0,621.2V626.6" stroke="#3D9970"/>
<path d="M374.7,616.7V625.8M375.4,617.3V621.7M376.0,615.0V620.2" stroke="#FF4136"/>
<path d="M376.7,611.3V617.4M377.3,610.1V614.6" stroke="#3D9970"/>
<path d="M378.0,607.0V613.4M378.7,605.6V611.1" stroke="#FF4136"/>
<path d="M379.3,605.1V610.2" stroke="#3D9970"/>
<path d="M380.0,604.3V609.1" stroke="#FF4136"/>
<path d="M380.0,606.3V611.2M380.7,607.4V612.0" stroke="#3D9970"/>
<path d="M381.3,607.0V611.5" stroke="#FF4136"/>
<path d="M382.0,606.8V610.6M382.6,604.9V609.3M383.3,602.1V608.9" stroke="#3D9970"/>
<path d="M384.0,603.8V607.9" stroke="#FF4136"/>
<path d="M384.6,601.5V607.2M386.0,614.0V617.5M386.7,613.6V617.1M387.4,612.2V616.6" stroke="#3D9970"/>
<path d="M388.0,610.5V617.3" stroke="#FF4136"/>
<path d="M388.7,607.6V614.0M389.3,608.2V613.3M390.0,606.9V613.9M390.7,609.4V614.4" stroke="#3D9970"/>
<path d="M391.3,608.9V614.2M392.0,608.7V614.1M392.6,607.4V612.6" stroke="#FF4136"/>
<path d="M393.3,606.8V612.9" stroke="#3D9970"/>
<path d="M394.0,606.4V611.5M394.6,606.3V611.7" stroke="#FF4136"/>
<path d="M395.3,606.4V611.4M396.0,606.0V610.7" stroke="#3D9970"/>
<path d="M396.6,605.6V609.8" stroke="#FF4136"/>
<path d="M397.3,604.8V610.0M397.9,602.8V608.2" stroke="#3D9970"/>
<path d="M398.6,603.2V607.9M399.3,603.9V607.5" stroke="#FF4136"/>
<path d="M399.9,601.0V607.6" stroke="#3D9970"/>
<path d="M400.6,600.8V606.3" stroke="#FF4136"/>
<path d="M401.2,600.4V605.3" stroke="#3D9970"/>
<path d="M401.9,597.1V604.3" stroke="#FF4136"/>
<path d="M402.6,595.6V601.9" stroke="#3D9970"/>
<path d="M403.2,594.1V599.5" stroke="#FF4136"/>
<path d="M403.9,592.6V599.1" stroke="#3D9970"/>
<path d="M404.6,594.7V597.8M405.2,594.1V598.9M405.9,594.9V601.9M406.5,597.3V601.5M407.2,598.6V601.7M407.9,598.7V605.7" stroke="#FF4136"/>
<path d="M408.5,600.4V606.7" stroke="#3D9970"/>
<path d="M409.2,601.9V605.4M409.8,600.2V604.5" stroke="#FF4136"/>
<path d="M410.5,599.9V605.7" stroke="#3D9970"/>
<path d="M411.2,598.1V603.3" stroke="#FF4136"/>
<path d="M411.8,595.6V601.5M412.5,595.0V601.3" stroke="#3D9970"/>
<path d="M413.2,596.2V598.1" stroke="#FF4136"/>
<path d="M413.8,593.9V599.0M414.5,593.0V599.7M415.1,592.1V596.1" stroke="#3D9970"/>
<path d="M415.8,590.2V597.6M416.5,591.0V593.5M417.1,591.0V595.8" stroke="#FF4136"/>
<path d="M417.8,589.0V596.0" stroke="#3D9970"/>
<path d="M418.5,588.7V593.2" stroke="#FF4136"/>
<path d="M419.1,588.5V593.2" stroke="#3D9970"/>
<path d="M419.8,587.3V591.3" stroke="#FF4136"/>
<path d="M420.4,584.4V590.3M421.1,585.5V589.5M421.8,585.8V590.6M422.4,585.0V588.5M423.1,582.4V587.9M423.7,582.5V586.4M424.4,581.6V587.1M425.1,581.2V586.8" stroke="#3D9970"/>
<path d="M425.7,579.1V586.2" stroke="#FF4136"/>
<path d="M426.4,577.1V581.5M427.1,575.0V581.4M427.7,573.8V579.5M428.4,574.1V578.9" stroke="#3D9970"/>
<path d="M429.0,574.0V579.2M429.7,573.9V578.0M430.8,588.3V592.5" stroke="#FF4136"/>
<path d="M431.4,587.5V592.1M432.1,587.5V590.6M432.7,585.8V591.0" stroke="#3D9970"/>
<path d="M433.4,584.3V590.6" stroke="#FF4136"/>
<path d="M434.1,583.5V590.2M434.7,582.5V587.0M435.4,580.4V586.2M436.1,580.5V586.6M436.7,579.3V582.5M437.4,575.1V582.0M438.0,571.7V577.9" stroke="#3D9970"/>
<path d="M438.7,571.5V578.3M439.4,575.2V579.5M440.0,577.1V582.2M440.7,579.9V582.7" stroke="#FF4136"/>
<path d="M441.3,577.1V584.0M442.0,575.8V580.7" stroke="#3D9970"/>
<path d="M442.7,576.2V579.9M443.3,574.5V580.8M444.0,575.6V580.2" stroke="#FF4136"/>
<path d="M444.7,574.2V580.2M445.3,573.4V578.3" stroke="#3D9970"/>
<path d="M446.0,574.5V579.6M446.6,573.8V577.6" stroke="#FF4136"/>
<path d="M447.3,571.5V577.4M448.0,570.3V575.9M448.6,569.5V574.9" stroke="#3D9970"/>
<path d="M449.3,570.1V576.4" stroke="#FF4136"/>
<path d="M449.9,570.3V576.2" stroke="#3D9970"/>
<path d="M451.4,564.5V568.2" stroke="#FF4136"/>
<path d="M452.0,561.4V568.7M452.7,559.6V565.5M453.4,558.9V564.0M454.0,558.6V562.4M454.7,558.4V561.2" stroke="#3D9970"/>
<path d="M455.3,558.3V562.6" stroke="#FF4136"/>
<path d="M456.0,557.9V562.0M456.7,553.8V559.8" stroke="#3D9970"/>
<path d="M457.3,553.1V559.2" stroke="#FF4136"/>
<path d="M458.0,552.2V556.6M458.6,548.1V555.2" stroke="#3D9970"/>
<path d="M459.3,548.1V554.9M460.0,548.7V555.5" stroke="#FF4136"/>
<path d="M460.6,549.8V554.4M461.3,547.8V555.8M462.0,543.8V552.0" stroke="#3D9970"/>
<path d="M462.6,542.6V549.3" stroke="#FF4136"/>
<path d="M463.3,542.1V547.4M463.9,540.8V545.1" stroke="#3D9970"/>
<path d="M464.6,542.8V545.3" stroke="#FF4136"/>
<path d="M465.3,541.7V545.3" stroke="#3D9970"/>
<path d="M465.9,541.7V546.7" stroke="#FF4136"/>
<path d="M466.6,541.0V546.7" stroke="#3D9970"/>
<path d="M467.2,540.6V547.1" stroke="#FF4136"/>
<path d="M467.9,542.6V548.4M468.6,542.8V547.4M469.2,538.5V547.3" stroke="#3D9970"/>
<path d="M469.9,538.6V545.7" stroke="#FF4136"/>
<path d="M470.6,540.8V546.7" stroke="#3D9970"/>
<path d="M471.2,541.0V548.0M471.9,544.2V555.6" stroke="#FF4136"/>
<path d="M472.5,547.0V554.5M473.2,545.2V551.8M473.9,544.0V548.8M474.5,541.8V548.5" stroke="#3D9970"/>
<path d="M475.2,542.9V546.0" stroke="#FF4136"/>
<path d="M475.8,542.3V547.1M476.5,542.5V547.0M477.2,541.7V545.8" stroke="#3D9970"/>
<path d="M477.8,542.5V547.4" stroke="#FF4136"/>
<path d="M478.5,541.4V547.6" stroke="#3D9970"/>
<path d="M479.2,540.7V546.2M479.8,539.7V544.5" stroke="#FF4136"/>
<path d="M480.5,539.8V545.1M481.1,536.9V542.8" stroke="#3D9970"/>
<path d="M481.8,535.1V543.4M482.5,537.8V545.6M483.1,540.8V547.2M483.8,543.3V551.3M484.4,546.8V554.8" stroke="#FF4136"/>
<path d="M485.1,551.6V560.8" stroke="#3D9970"/>
<path d="M485.8,555.4V564.0M486.4,559.5V573.3" stroke="#FF4136"/>
<path d="M487.1,567.9V573.8M487.8,563.8V571.6M488.4,561.9V567.5" stroke="#3D9970"/>
<path d="M489.1,561.7V568.2" stroke="#FF4136"/>
<path d="M489.7,564.7V570.4M490.4,563.4V569.8M491.1,559.0V565.8" stroke="#3D9970"/>
<path d="M491.7,558.0V573.6M492.4,569.9V580.1" stroke="#FF4136"/>
<path d="M493.0,575.7V584.9" stroke="#3D9970"/>
<path d="M493.7,581.4V587.6" stroke="#FF4136"/>
<path d="M494.4,578.2V586.8" stroke="#3D9970"/>
<path d="M495.0,575.1V581.0" stroke="#FF4136"/>
<path d="M495.7,573.5V578.1M496.4,570.8V578.3M497.0,570.7V579.2" stroke="#3D9970"/>
<path d="M497.7,574.0V581.9" stroke="#FF4136"/>
<path d="M498.3,575.5V582.5M499.0,572.7V581.2M499.7,566.3V576.0M500.3,567.8V570.5" stroke="#3D9970"/>
<path d="M501.0,566.8V570.6M501.7,567.1V576.5M502.3,573.4V581.0" stroke="#FF4136"/>
<path d="M503.0,573.1V580.0M503.6,564.9V576.6M504.3,564.4V570.4M505.0,562.6V571.4" stroke="#3D9970"/>
<path d="M505.6,562.5V568.0" stroke="#FF4136"/>
<path d="M506.3,559.5V566.0M506.9,561.0V564.2M507.6,560.4V564.1" stroke="#3D9970"/>
<path d="M508.3,559.5V564.1M508.9,559.4V563.0M509.6,559.7V562.9" stroke="#FF4136"/>
<path d="M510.3,555.3V563.8M510.9,556.7V561.2" stroke="#3D9970"/>
<path d="M511.6,555.9V561.2M512.2,558.6V564.4M512.9,559.6V567.5" stroke="#FF4136"/>
<path d="M513.6,562.8V571.1M514.2,565.5V571.5M514.9,561.8V569.0M515.5,559.0V564.9M516.2,558.0V564.4M516.9,557.2V561.7" stroke="#3D9970"/>
<path d="M517.5,557.2V563.5M518.2,559.9V565.2M518.9,558.8V564.5" stroke="#FF4136"/>
<path d="M519.5,553.7V561.7M520.2,553.2V557.5M520.8,551.6V558.1M521.5,549.3V555.1M522.2,550.2V556.6M522.8,550.1V554.8" stroke="#3D9970"/>
<path d="M523.5,550.9V555.9" stroke="#FF4136"/>
<path d="M524.1,551.0V557.3" stroke="#3D9970"/>
<path d="M524.8,551.3V555.1M525.5,551.3V556.9M526.1,550.2V557.0" stroke="#FF4136"/>
<path d="M526.8,548.2V555.3M527.5,546.1V552.1" stroke="#3D9970"/>
<path d="M528.1,547.5V556.2M528.8,550.9V560.0M529.4,556.7V560.1M530.1,554.7V560.8" stroke="#FF4136"/>
<path d="M530.8,551.4V559.0" stroke="#3D9970"/>
<path d="M531.4,548.3V556.6" stroke="#FF4136"/>
<path d="M532.1,547.0V553.8M532.7,548.5V553.7" stroke="#3D9970"/>
<path d="M533.4,547.7V552.3" stroke="#FF4136"/>
<path d="M534.1,544.4V550.0" stroke="#3D9970"/>
<path d="M534.7,542.7V550.0" stroke="#FF4136"/>
<path d="M535.4,543.9V557.7M536.1,552.7V559.1M536.7,550.7V561.0" stroke="#3D9970"/>
<path d="M537.4,545.1V553.6" stroke="#FF4136"/>
<path d="M538.0,543.4V548.8" stroke="#3D9970"/>
<path d="M538.7,541.5V545.7M539.4,540.4V546.5M540.0,541.7V548.3" stroke="#FF4136"/>
<path d="M540.7,544.1V546.6M541.3,542.1V547.8M542.0,541.0V546.4M542.7,540.3V547.0" stroke="#3D9970"/>
<path d="M543.3,540.8V544.6M544.0,538.6V544.4" stroke="#FF4136"/>
<path d="M544.7,535.9V541.3" stroke="#3D9970"/>
<path d="M545.3,536.8V541.7" stroke="#FF4136"/>
<path d="M546.0,534.8V539.4" stroke="#3D9970"/>
<path d="M546.6,532.1V537.0" stroke="#FF4136"/>
<path d="M547.3,530.3V537.5" stroke="#3D9970"/>
<path d="M548.0,528.7V535.5" stroke="#FF4136"/>
<path d="M548.6,525.7V532.9M549.3,521.1V529.9M549.9,520.5V526.2M550.6,518.0V524.9M551.3,516.0V523.6" stroke="#3D9970"/>
<path d="M551.9,514.2V519.5" stroke="#FF4136"/>
<path d="M552.6,511.6V518.6" stroke="#3D9970"/>
<path d="M553.3,511.9V517.5M553.9,513.7V518.6M554.6,512.0V516.6M555.2,508.9V516.2" stroke="#FF4136"/>
<path d="M555.9,510.7V513.7" stroke="#3D9970"/>
<path d="M556.6,510.0V516.2M557.9,531.3V535.9" stroke="#FF4136"/>
<path d="M558.6,527.5V535.1M559.2,524.7V531.7M559.9,523.7V527.7" stroke="#3D9970"/>
<path d="M560.6,524.5V526.9" stroke="#FF4136"/>
<path d="M561.2,524.0V528.1M561.9,523.4V529.7M562.5,520.4V528.3M563.2,520.6V525.0M563.9,520.4V525.0M564.5,520.5V525.2M565.2,519.5V526.3" stroke="#3D9970"/>
<path d="M565.9,521.6V524.7M566.5,521.1V527.4M567.2,524.4V529.4M567.8,524.1V530.1M568.5,526.3V532.5M569.2,527.8V533.7" stroke="#FF4136"/>
<path d="M569.8,528.5V533.5" stroke="#3D9970"/>
<path d="M570.5,529.1V532.7" stroke="#FF4136"/>
<path d="M571.1,524.7V531.2M571.8,524.2V528.3M572.5,522.5V527.8M573.1,518.3V526.4M573.8,520.0V526.0" stroke="#3D9970"/>
<path d="M574.5,521.4V525.3" stroke="#FF4136"/>
<path d="M575.1,519.8V525.4M575.8,522.2V524.8" stroke="#3D9970"/>
<path d="M576.4,520.0V524.6" stroke="#FF4136"/>
<path d="M577.1,518.1V524.8M577.8,517.5V522.1M578.4,516.1V522.0M579.1,514.1V521.1M579.7,514.7V520.0" stroke="#3D9970"/>
<path d="M580.4,513.3V519.5M581.1,514.2V521.8M581.7,516.3V521.5" stroke="#FF4136"/>
<path d="M582.5,501.3V504.9" stroke="#3D9970"/>
<path d="M583.2,500.8V510.3M583.9,506.6V513.4" stroke="#FF4136"/>
<path d="M584.5,508.5V513.3M585.2,504.3V514.9" stroke="#3D9970"/>
<path d="M585.9,505.7V510.7" stroke="#FF4136"/>
<path d="M586.5,506.6V513.6" stroke="#3D9970"/>
<path d="M587.2,509.4V513.0" stroke="#FF4136"/>
<path d="M587.8,509.4V513.6M588.5,509.4V513.8" stroke="#3D9970"/>
<path d="M589.2,508.5V513.5" stroke="#FF4136"/>
<path d="M589.8,505.7V512.6M590.5,503.9V509.0M591.1,503.6V510.7" stroke="#3D9970"/>
<path d="M591.8,506.4V513.1" stroke="#FF4136"/>
<path d="M592.5,505.6V513.1M593.1,506.3V511.9" stroke="#3D9970"/>
<path d="M593.8,507.9V510.4M594.5,506.2V510.9" stroke="#FF4136"/>
<path d="M595.1,507.1V513.4" stroke="#3D9970"/>
<path d="M595.8,504.5V511.0" stroke="#FF4136"/>
<path d="M596.4,505.2V509.7" stroke="#3D9970"/>
<path d="M597.1,505.1V508.4" stroke="#FF4136"/>
<path d="M597.8,505.2V511.8M598.4,507.1V511.1M599.1,504.5V510.3M599.7,502.6V506.9" stroke="#3D9970"/>
<path d="M600.4,502.0V508.1" stroke="#FF4136"/>
<path d="M601.1,526.4V528.6M601.8,522.7V529.7M602.5,519.0V527.0M603.1,517.5V522.1M603.8,514.4V521.9" stroke="#3D9970"/>
<path d="M604.4,514.0V519.1M605.1,511.4V517.4M605.8,511.4V515.2M606.4,510.5V516.5" stroke="#FF4136"/>
<path d="M607.1,512.6V521.1" stroke="#3D9970"/>
<path d="M607.8,517.1V521.8M608.4,517.4V522.5M609.1,518.7V524.5" stroke="#FF4136"/>
<path d="M609.7,519.5V523.7" stroke="#3D9970"/>
<path d="M610.4,520.9V524.6M611.1,521.0V525.9" stroke="#FF4136"/>
<path d="M611.7,523.3V529.0" stroke="#3D9970"/>
<path d="M612.4,524.2V532.1M613.0,526.4V534.4M613.7,529.9V536.0M614.4,532.5V538.1" stroke="#FF4136"/>
<path d="M615.0,532.1V539.0M615.7,533.5V543.4" stroke="#3D9970"/>
<path d="M616.4,537.2V545.1" stroke="#FF4136"/>
<path d="M617.0,536.3V545.1M617.7,534.4V541.4M618.3,532.9V540.6" stroke="#3D9970"/>
<path d="M619.0,531.5V537.5M619.7,530.8V537.8M620.3,532.8V540.8M621.0,534.7V541.6" stroke="#FF4136"/>
<path d="M621.6,531.9V541.6M622.3,528.2V537.3M623.0,528.4V532.3" stroke="#3D9970"/>
<path d="M623.6,526.9V532.1" stroke="#FF4136"/>
<path d="M624.3,525.7V533.1M625.0,525.4V528.9M625.6,522.5V529.3M626.3,521.0V527.9M626.9,517.4V523.7" stroke="#3D9970"/>
<path d="M627.6,517.9V523.8" stroke="#FF4136"/>
<path d="M628.3,516.8V522.4" stroke="#3D9970"/>
<path d="M628.9,517.2V524.4" stroke="#FF4136"/>
<path d="M629.6,521.9V527.0" stroke="#3D9970"/>
<path d="M630.2,522.2V525.4" stroke="#FF4136"/>
<path d="M630.9,519.2V525.8" stroke="#3D9970"/>
<path d="M631.6,519.1V526.3M632.2,521.8V529.1M632.9,523.3V530.8M633.6,525.9V533.2M634.2,530.2V535.3" stroke="#FF4136"/>
<path d="M634.9,529.0V535.1M635.5,526.0V531.9M636.2,522.3V531.8M636.9,521.7V526.5" stroke="#3D9970"/>
<path d="M637.5,521.2V525.6" stroke="#FF4136"/>
<path d="M638.2,521.5V525.9" stroke="#3D9970"/>
<path d="M638.9,521.0V526.6M639.5,516.0V526.5" stroke="#FF4136"/>
<path d="M640.2,512.2V521.6" stroke="#3D9970"/>
<path d="M640.8,513.3V518.6" stroke="#FF4136"/>
<path d="M641.5,513.7V520.1M642.2,517.3V521.6" stroke="#3D9970"/>
<path d="M642.8,518.5V525.5" stroke="#FF4136"/>
<path d="M643.4,542.4V546.0M644.0,538.6V545.8M644.7,539.1V543.9" stroke="#3D9970"/>
<path d="M645.3,535.4V543.6" stroke="#FF4136"/>
<path d="M646.0,533.1V539.9M646.7,532.1V537.4" stroke="#3D9970"/>
<path d="M647.3,530.5V536.4" stroke="#FF4136"/>
<path d="M648.0,528.9V533.6M648.6,528.8V535.0M649.3,526.5V532.8" stroke="#3D9970"/>
<path d="M650.0,525.7V530.4" stroke="#FF4136"/>
<path d="M650.6,522.4V530.8" stroke="#3D9970"/>
<path d="M651.3,522.1V527.2M652.0,523.7V527.4" stroke="#FF4136"/>
<path d="M652.6,524.3V529.0" stroke="#3D9970"/>
<path d="M653.3,523.4V531.7M653.9,527.6V532.8M654.6,528.4V536.3M655.3,532.5V539.0M655.9,534.8V540.4M656.6,534.7V541.4M657.2,535.5V541.4" stroke="#FF4136"/>
<path d="M657.9,532.8V540.4M658.6,532.3V538.4M659.2,532.2V535.7" stroke="#3D9970"/>
<path d="M659.9,530.5V535.3" stroke="#FF4136"/>
<path d="M660.6,529.4V535.1M661.2,528.4V533.9M661.9,526.8V532.5" stroke="#3D9970"/>
<path d="M662.5,527.3V530.4" stroke="#FF4136"/>
<path d="M663.2,526.7V531.4" stroke="#3D9970"/>
<path d="M663.9,526.0V532.1M665.0,517.2V520.9" stroke="#FF4136"/>
<path d="M665.6,514.0V519.1" stroke="#3D9970"/>
<path d="M666.3,513.6V518.8M667.0,515.6V520.9M667.6,514.5V522.3" stroke="#FF4136"/>
<path d="M668.3,518.6V524.1" stroke="#3D9970"/>
<path d="M668.9,520.4V527.0M669.6,523.2V529.6M670.3,525.9V533.0M670.9,529.7V534.4M671.6,529.6V537.6M672.2,532.2V538.6" stroke="#FF4136"/>
<path d="M672.9,531.3V539.0" stroke="#3D9970"/>
<path d="M673.6,530.6V533.9" stroke="#FF4136"/>
<path d="M674.2,526.3V533.7M674.9,526.6V532.8M675.6,527.2V529.6M676.2,523.3V531.9" stroke="#3D9970"/>
<path d="M676.9,523.3V528.7" stroke="#FF4136"/>
<path d="M677.5,520.5V527.9M678.2,521.2V526.0" stroke="#3D9970"/>
<path d="M678.9,518.7V524.6" stroke="#FF4136"/>
<path d="M679.5,519.3V525.7M680.2,518.3V524.5M680.8,516.2V522.5M681.5,515.5V521.3M682.2,514.7V521.7" stroke="#3D9970"/>
<path d="M682.8,515.8V518.9" stroke="#FF4136"/>
<path d="M683.5,516.4V519.9M684.2,513.0V519.9" stroke="#3D9970"/>
<path d="M684.8,513.1V517.7" stroke="#FF4136"/>
<path d="M686.1,523.9V527.8" stroke="#3D9970"/>
<path d="M686.7,524.5V531.0M687.4,527.4V534.5" stroke="#FF4136"/>
<path d="M688.1,529.9V536.5" stroke="#3D9970"/>
<path d="M688.7,530.3V536.8M689.4,533.0V537.0M690.0,535.1V538.3M690.7,534.5V539.9M691.4,532.7V537.9" stroke="#FF4136"/>
<path d="M692.0,530.7V537.5" stroke="#3D9970"/>
<path d="M692.7,532.2V537.2" stroke="#FF4136"/>
<path d="M693.4,530.2V537.2" stroke="#3D9970"/>
<path d="M694.0,530.5V535.3M694.7,528.8V534.7M695.3,529.5V531.9" stroke="#FF4136"/>
<path d="M696.0,528.0V531.3M696.7,526.7V532.7M697.3,525.4V531.0M698.0,523.4V530.1M698.6,524.0V529.7M699.3,525.0V530.0M700.0,525.6V531.8M700.6,525.9V529.1M701.3,523.8V528.9" stroke="#3D9970"/>
<path d="M702.0,523.3V529.1M702.6,522.7V530.1" stroke="#FF4136"/>
<path d="M703.3,523.6V530.2" stroke="#3D9970"/>
<path d="M703.9,523.1V529.4M704.6,522.3V525.9" stroke="#FF4136"/>
<path d="M705.3,522.2V525.7" stroke="#3D9970"/>
<path d="M705.9,520.0V527.2M706.6,521.1V526.0" stroke="#FF4136"/>
<path d="M707.2,521.5V525.3" stroke="#3D9970"/>
<path d="M707.9,520.7V527.8M708.6,522.1V528.0M709.2,524.2V528.3M709.9,522.5V529.3M710.6,525.9V532.8M711.2,526.9V533.1" stroke="#FF4136"/>
<path d="M711.9,528.2V532.9M712.5,527.1V534.0" stroke="#3D9970"/>
<path d="M713.2,528.0V534.7M713.9,530.7V535.5M714.5,531.5V535.5M715.2,530.5V538.6M715.8,534.5V537.3" stroke="#FF4136"/>
<path d="M716.5,534.4V537.5" stroke="#3D9970"/>
<path d="M717.2,532.8V539.9M717.8,536.1V540.0M718.5,536.4V543.2" stroke="#FF4136"/>
<path d="M719.2,538.0V546.2M719.8,541.5V548.3" stroke="#3D9970"/>
<path d="M720.0,545.1V549.2" stroke="#FF4136"/>
<path d="M720.7,543.6V548.9" stroke="#3D9970"/>
<path d="M721.3,544.2V550.7" stroke="#FF4136"/>
<path d="M722.0,543.9V551.2" stroke="#3D9970"/>
<path d="M722.6,545.5V548.2M723.3,542.5V550.1M724.0,541.7V546.5" stroke="#FF4136"/>
<path d="M724.6,538.9V543.9" stroke="#3D9970"/>
<path d="M725.3,539.0V542.9" stroke="#FF4136"/>
<path d="M726.0,539.2V542.6M726.6,537.0V543.2M728.0,550.2V555.7M728.7,548.1V553.8" stroke="#3D9970"/>
<path d="M729.4,548.5V551.2" stroke="#FF4136"/>
<path d="M730.0,546.7V551.5M730.7,543.8V550.1" stroke="#3D9970"/>
<path d="M731.3,544.6V547.5" stroke="#FF4136"/>
<path d="M732.0,541.5V549.4M732.7,540.5V546.7M733.3,538.7V545.2M734.0,537.6V543.8M734.7,538.9V544.4" stroke="#3D9970"/>
<path d="M735.3,540.4V543.9M736.0,540.8V545.4" stroke="#FF4136"/>
<path d="M736.6,543.4V546.5" stroke="#3D9970"/>
<path d="M737.3,542.9V547.7M738.0,544.4V550.4M738.6,544.4V552.1" stroke="#FF4136"/>
<path d="M739.3,547.2V552.7M740.0,545.5V549.4M740.6,543.3V549.6" stroke="#3D9970"/>
<path d="M741.3,541.9V547.1M741.9,541.5V545.8M742.6,540.9V549.7M743.3,543.4V549.6M743.9,546.8V551.9" stroke="#FF4136"/>
<path d="M744.6,544.7V551.1M745.2,539.8V549.4M745.9,534.5V543.0M746.6,529.6V537.4" stroke="#3D9970"/>
<path d="M747.2,522.9V531.9M747.9,520.9V531.8" stroke="#FF4136"/>
<path d="M748.6,528.5V536.4" stroke="#3D9970"/>
<path d="M749.2,531.9V541.1M749.9,534.9V542.4M750.5,533.9V541.3" stroke="#FF4136"/>
<path d="M751.2,529.1V538.1M751.9,528.4V535.3M752.5,529.5V532.8M753.2,526.9V533.8M753.8,528.8V533.0M754.5,525.9V531.4M755.2,525.3V531.1" stroke="#3D9970"/>
<path d="M755.8,524.4V529.5M756.5,526.0V529.7M757.2,524.7V529.0M757.8,525.7V530.2" stroke="#FF4136"/>
<path d="M758.5,526.5V532.2M759.1,526.2V531.0" stroke="#3D9970"/>
<path d="M759.8,528.1V530.7" stroke="#FF4136"/>
<path d="M760.5,528.4V530.5" stroke="#3D9970"/>
<path d="M761.1,528.4V534.4M761.8,530.3V537.7" stroke="#FF4136"/>
<path d="M762.4,529.6V535.9M763.1,528.3V534.9" stroke="#3D9970"/>
<path d="M763.8,526.0V532.5M764.4,525.4V531.3" stroke="#FF4136"/>
<path d="M765.1,521.7V529.0" stroke="#3D9970"/>
<path d="M765.8,522.3V526.7" stroke="#FF4136"/>
<path d="M766.4,520.6V526.9M767.1,522.1V527.2M767.7,523.1V528.1M768.4,524.4V531.6M769.1,526.7V531.1M769.7,525.1V530.4M770.4,524.7V528.2" stroke="#3D9970"/>
<path d="M771.3,538.1V542.4M771.9,537.5V542.8M772.6,540.5V544.8" stroke="#FF4136"/>
<path d="M773.2,540.9V545.7" stroke="#3D9970"/>
<path d="M773.9,543.2V548.0M774.6,542.4V548.5" stroke="#FF4136"/>
<path d="M775.2,542.8V548.8M775.9,544.2V548.4" stroke="#3D9970"/>
<path d="M776.6,545.8V550.9M777.2,548.1V552.0" stroke="#FF4136"/>
<path d="M777.9,544.2V551.9" stroke="#3D9970"/>
<path d="M778.5,544.1V548.3" stroke="#FF4136"/>
<path d="M779.2,542.5V546.8" stroke="#3D9970"/>
<path d="M779.9,539.6V547.0" stroke="#FF4136"/>
<path d="M780.5,539.2V545.0M781.2,537.0V541.8M781.8,534.8V541.1M782.5,537.0V540.6M783.2,535.8V541.4M783.8,538.2V542.2M784.5,537.7V541.7M785.2,536.6V543.0M785.8,534.5V542.5M786.5,534.9V540.2M787.1,532.2V540.1M787.8,532.2V537.1" stroke="#3D9970"/>
<path d="M788.5,531.1V536.6" stroke="#FF4136"/>
<path d="M789.1,532.4V537.2M789.8,529.6V534.6M790.5,530.2V534.6M791.1,530.2V534.5M791.8,527.4V533.1M792.4,526.3V531.2" stroke="#3D9970"/>
<path d="M793.1,525.0V531.1" stroke="#FF4136"/>
<path d="M793.8,523.8V529.7M794.4,524.2V529.1M795.1,521.8V527.0M795.7,519.9V524.7M796.4,522.0V526.9M797.1,520.4V527.1" stroke="#3D9970"/>
<path d="M797.7,521.4V525.2M798.4,517.4V524.1M799.1,519.2V523.5" stroke="#FF4136"/>
<path d="M799.7,519.4V522.9" stroke="#3D9970"/>
<path d="M800.4,518.4V523.7M801.0,518.8V523.9M801.7,517.0V523.5" stroke="#FF4136"/>
<path d="M802.4,516.6V521.4M803.0,516.4V520.8M803.7,515.0V521.6M804.3,514.4V520.8M805.0,515.2V520.7M805.7,513.0V519.0" stroke="#3D9970"/>
<path d="M806.3,512.8V516.4" stroke="#FF4136"/>
<path d="M807.0,510.1V515.0M807.7,510.8V513.5M808.3,510.5V514.8" stroke="#3D9970"/>
<path d="M809.0,511.3V516.1M809.6,510.5V517.1M810.3,511.3V515.5M811.0,511.4V516.8M811.6,512.2V516.2M812.3,511.6V518.7M812.9,515.2V520.1M813.6,515.8V521.4M814.3,517.5V522.9M814.9,518.1V522.5M815.6,517.6V522.7M816.3,514.5V521.2" stroke="#FF4136"/>
<path d="M816.9,512.1V518.1" stroke="#3D9970"/>
<path d="M817.6,512.1V516.7M818.2,510.4V515.7M818.9,511.7V518.4M819.6,513.8V516.2M820.2,512.0V520.5M820.9,514.9V520.0M821.5,516.9V521.4" stroke="#FF4136"/>
<path d="M822.2,515.7V521.2M822.9,516.4V519.3" stroke="#3D9970"/>
<path d="M823.5,515.3V518.7" stroke="#FF4136"/>
<path d="M824.2,512.9V519.9M824.9,511.3V518.0" stroke="#3D9970"/>
<path d="M825.5,512.5V517.6" stroke="#FF4136"/>
<path d="M826.2,511.4V516.6M826.8,509.2V517.2M827.5,508.8V515.5" stroke="#3D9970"/>
<path d="M828.2,509.2V512.6" stroke="#FF4136"/>
<path d="M828.8,506.9V512.2M829.5,507.8V510.6M830.1,507.2V510.8" stroke="#3D9970"/>
<path d="M830.8,505.0V511.7" stroke="#FF4136"/>
<path d="M831.5,503.2V508.3M832.1,501.0V508.8M832.8,501.2V505.3M833.5,501.4V506.1M834.6,487.4V493.1M835.3,486.2V492.3M835.9,486.8V491.9" stroke="#3D9970"/>
<path d="M836.6,487.6V490.7M837.2,485.6V491.3M837.9,483.6V489.8" stroke="#FF4136"/>
<path d="M838.6,481.8V488.7M839.2,481.9V487.0" stroke="#3D9970"/>
<path d="M839.9,481.9V486.1M840.5,481.6V485.5M841.2,481.0V485.9M841.9,482.7V489.7" stroke="#FF4136"/>
<path d="M842.5,484.9V489.8M843.2,483.4V488.1M843.9,481.0V485.7M844.5,477.3V484.9" stroke="#3D9970"/>
<path d="M845.2,477.7V483.2M845.8,474.9V481.2M846.5,475.0V478.3" stroke="#FF4136"/>
<path d="M847.2,472.9V480.6M847.8,469.3V476.1M848.5,468.2V471.7M849.1,462.7V472.6" stroke="#3D9970"/>
<path d="M849.8,461.0V467.1" stroke="#FF4136"/>
<path d="M850.5,456.6V466.3M851.1,457.0V461.1" stroke="#3D9970"/>
<path d="M851.8,457.3V461.0" stroke="#FF4136"/>
<path d="M852.5,456.8V464.1M853.1,457.2V463.6M853.8,454.6V463.4" stroke="#3D9970"/>
<path d="M854.4,456.7V460.5M855.1,458.4V463.8M856.7,475.1V478.7M857.4,473.6V483.5M858.0,477.5V485.6" stroke="#FF4136"/>
<path d="M858.7,478.4V483.9" stroke="#3D9970"/>
<path d="M859.4,475.9V483.1M860.0,477.1V482.3" stroke="#FF4136"/>
<path d="M860.7,477.1V482.6M861.3,475.0V479.4" stroke="#3D9970"/>
<path d="M862.0,477.0V481.3M862.7,476.2V481.2" stroke="#FF4136"/>
<path d="M863.3,476.5V484.2M864.0,480.1V486.2" stroke="#3D9970"/>
<path d="M864.6,481.5V490.0M865.3,484.9V489.5M866.0,486.4V494.4M866.6,489.3V495.8M867.3,490.6V496.6M868.0,488.5V493.7" stroke="#FF4136"/>
<path d="M868.6,488.0V493.5" stroke="#3D9970"/>
<path d="M869.3,489.9V497.6M869.9,495.0V500.6" stroke="#FF4136"/>
<path d="M870.6,493.6V500.7M871.3,492.6V497.0M871.9,491.8V498.2M872.6,488.2V494.6" stroke="#3D9970"/>
<path d="M873.2,489.4V492.8M873.9,488.7V495.9" stroke="#FF4136"/>
<path d="M874.6,491.3V497.0" stroke="#3D9970"/>
<path d="M875.2,491.2V496.7" stroke="#FF4136"/>
<path d="M875.9,491.1V496.8M876.6,487.6V493.5" stroke="#3D9970"/>
<path d="M877.2,484.6V493.6" stroke="#FF4136"/>
<path d="M877.9,484.2V489.8M878.5,483.9V488.5" stroke="#3D9970"/>
<path d="M879.2,483.7V489.7" stroke="#FF4136"/>
<path d="M879.9,483.8V491.1" stroke="#3D9970"/>
<path d="M880.5,488.1V493.5" stroke="#FF4136"/>
<path d="M881.2,488.4V492.8M881.8,486.8V492.2" stroke="#3D9970"/>
<path d="M882.5,484.6V494.1M883.2,489.1V495.3M883.8,490.7V495.5M884.5,486.4V495.8" stroke="#FF4136"/>
<path d="M885.2,484.0V489.1M885.8,483.2V491.5" stroke="#3D9970"/>
<path d="M886.5,485.5V492.9" stroke="#FF4136"/>
<path d="M887.1,487.2V492.2M887.8,484.3V489.0" stroke="#3D9970"/>
<path d="M888.5,481.2V489.5" stroke="#FF4136"/>
<path d="M889.1,479.6V486.5" stroke="#3D9970"/>
<path d="M889.8,478.0V484.0" stroke="#FF4136"/>
<path d="M890.4,475.5V481.3M891.1,475.4V482.2" stroke="#3D9970"/>
<path d="M891.8,476.0V479.5M892.4,474.2V481.9M893.1,476.1V480.2" stroke="#FF4136"/>
<path d="M893.8,475.5V482.1M894.4,473.3V478.4" stroke="#3D9970"/>
<path d="M895.1,472.5V476.7" stroke="#FF4136"/>
<path d="M895.7,469.3V475.9M896.4,464.6V472.6M897.1,462.0V467.9M897.7,458.3V466.7M898.4,455.8V463.1" stroke="#3D9970"/>
<path d="M899.0,455.2V467.7" stroke="#FF4136"/>
<path d="M899.7,464.3V476.8" stroke="#3D9970"/>
<path d="M900.4,473.2V489.7M901.0,486.7V500.6M901.7,496.2V504.6" stroke="#FF4136"/>
<path d="M902.4,493.9V503.1M903.0,489.3V497.2M903.7,482.0V491.6" stroke="#3D9970"/>
<path d="M904.3,481.5V486.2M905.0,482.4V488.6" stroke="#FF4136"/>
<path d="M905.7,486.1V492.5M906.3,488.1V494.6" stroke="#3D9970"/>
<path d="M907.0,488.6V494.9" stroke="#FF4136"/>
<path d="M907.6,488.4V494.7M908.3,482.9V493.5M909.0,482.6V487.6" stroke="#3D9970"/>
<path d="M909.6,481.8V486.5M910.3,482.2V486.1" stroke="#FF4136"/>
<path d="M911.0,478.9V486.8" stroke="#3D9970"/>
<path d="M911.6,479.6V484.1" stroke="#FF4136"/>
<path d="M912.3,478.9V482.5" stroke="#3D9970"/>
<path d="M912.9,479.9V484.2M913.6,480.1V485.5" stroke="#FF4136"/>
<path d="M914.3,481.1V486.1" stroke="#3D9970"/>
<path d="M914.9,482.2V487.6" stroke="#FF4136"/>
<path d="M915.6,481.8V487.0M916.3,480.4V486.7" stroke="#3D9970"/>
<path d="M916.9,479.0V489.0M917.6,482.8V490.1M918.2,486.3V492.7M918.9,488.8V494.3M919.6,490.7V497.1" stroke="#FF4136"/>
<path d="M920.5,475.2V479.0M921.2,472.8V480.3M921.9,472.5V478.8M922.5,470.7V475.8" stroke="#3D9970"/>
<path d="M923.2,470.2V475.0" stroke="#FF4136"/>
<path d="M923.8,468.7V473.8" stroke="#3D9970"/>
<path d="M924.5,467.6V471.8M925.2,467.0V472.8M925.8,468.0V471.2" stroke="#FF4136"/>
<path d="M926.5,466.0V472.4" stroke="#3D9970"/>
<path d="M927.1,466.5V471.7" stroke="#FF4136"/>
<path d="M927.8,466.8V473.0M928.5,468.0V471.7" stroke="#3D9970"/>
<path d="M929.1,465.9V472.5" stroke="#FF4136"/>
<path d="M929.8,465.8V472.2M930.5,465.1V470.6" stroke="#3D9970"/>
<path d="M931.1,463.6V471.1" stroke="#FF4136"/>
<path d="M931.8,463.2V469.7" stroke="#3D9970"/>
<path d="M932.4,462.5V467.9" stroke="#FF4136"/>
<path d="M933.1,463.6V466.7M933.8,462.1V467.7" stroke="#3D9970"/>
<path d="M934.4,461.4V465.6M935.1,461.9V466.8M935.7,462.0V468.7M936.4,465.6V470.7M937.1,467.5V473.0" stroke="#FF4136"/>
<path d="M937.7,467.4V472.8" stroke="#3D9970"/>
<path d="M938.4,466.8V472.3M939.1,466.3V470.2" stroke="#FF4136"/>
<path d="M939.7,464.9V472.1" stroke="#3D9970"/>
<path d="M940.4,466.9V472.5" stroke="#FF4136"/>
<path d="M941.0,465.4V471.4" stroke="#3D9970"/>
<path d="M941.6,479.9V483.9" stroke="#FF4136"/>
<path d="M942.3,479.6V484.9" stroke="#3D9970"/>
<path d="M943.0,478.1V483.1" stroke="#FF4136"/>
<path d="M943.6,476.8V480.2M944.3,475.6V479.4" stroke="#3D9970"/>
<path d="M944.9,474.3V479.3" stroke="#FF4136"/>
<path d="M945.6,475.6V481.1" stroke="#3D9970"/>
<path d="M946.3,474.7V479.1M946.9,474.9V478.1" stroke="#FF4136"/>
<path d="M947.6,476.0V480.1M948.3,473.9V480.6M948.9,470.7V477.3M949.6,470.7V476.5M950.2,471.2V476.1" stroke="#3D9970"/>
<path d="M950.9,470.2V475.3" stroke="#FF4136"/>
<path d="M951.6,467.3V474.5" stroke="#3D9970"/>
<path d="M952.2,468.6V473.1" stroke="#FF4136"/>
<path d="M952.9,467.4V473.3M953.6,467.7V471.9M954.2,468.4V471.8" stroke="#3D9970"/>
<path d="M954.9,469.5V472.7M955.5,468.7V475.2" stroke="#FF4136"/>
<path d="M956.2,470.4V476.2" stroke="#3D9970"/>
<path d="M956.9,471.5V476.4M957.5,471.9V478.1" stroke="#FF4136"/>
<path d="M958.2,473.8V481.2M958.8,473.7V479.1M959.5,474.4V479.8" stroke="#3D9970"/>
<path d="M960.2,470.8V477.5" stroke="#FF4136"/>
<path d="M960.8,470.3V475.6M961.5,471.2V474.9M962.2,470.9V476.8" stroke="#3D9970"/>
<path d="M963.3,456.9V463.1M963.9,457.2V464.2M964.6,460.0V464.8M965.2,459.8V465.8" stroke="#FF4136"/>
<path d="M965.9,459.4V466.4" stroke="#3D9970"/>
<path d="M966.6,463.1V468.1M967.2,461.2V466.2M967.9,462.8V466.9" stroke="#FF4136"/>
<path d="M968.5,463.4V467.7M969.2,460.1V468.7M969.9,461.1V467.2" stroke="#3D9970"/>
<path d="M970.5,462.3V467.5M971.2,464.2V469.9" stroke="#FF4136"/>
<path d="M971.9,463.1V470.0M972.5,461.5V466.8" stroke="#3D9970"/>
<path d="M973.2,462.6V466.0M973.8,461.3V467.1M974.5,460.3V466.3M975.2,462.1V469.6M975.8,464.9V470.5M976.5,466.9V471.9" stroke="#FF4136"/>
<path d="M977.1,468.6V473.1M977.8,468.8V472.8" stroke="#3D9970"/>
<path d="M978.5,468.3V472.8M979.1,470.1V476.0" stroke="#FF4136"/>
<path d="M979.8,470.0V475.4" stroke="#3D9970"/>
<path d="M980.5,470.3V477.2M981.1,473.3V480.2M981.8,476.7V481.5" stroke="#FF4136"/>
<path d="M982.4,476.8V484.4" stroke="#3D9970"/>
<path d="M983.1,475.6V482.6" stroke="#FF4136"/>
<path d="M983.9,489.5V491.9M984.5,489.3V492.9" stroke="#3D9970"/>
<path d="M985.2,487.4V492.0" stroke="#FF4136"/>
<path d="M985.8,487.5V491.2" stroke="#3D9970"/>
<path d="M986.5,485.8V491.1" stroke="#FF4136"/>
<path d="M987.2,485.5V493.0M987.8,486.2V490.7M988.5,484.8V490.0" stroke="#3D9970"/>
<path d="M989.2,485.4V490.4M989.8,486.0V492.1M990.5,488.0V492.1" stroke="#FF4136"/>
<path d="M991.1,487.6V494.0M991.8,488.5V494.2" stroke="#3D9970"/>
<path d="M992.5,490.6V493.5M993.1,490.6V494.7M993.8,491.3V494.6M994.4,490.7V493.8M995.1,489.5V495.4M995.8,492.7V496.7M996.4,492.6V496.7" stroke="#FF4136"/>
<path d="M997.1,491.6V496.8M997.8,492.5V496.9" stroke="#3D9970"/>
<path d="M998.4,493.4V498.6" stroke="#FF4136"/>
<path d="M999.1,494.7V501.0" stroke="#3D9970"/>
<path d="M999.7,496.5V499.4M1000.4,495.2V500.4M1001.1,497.6V500.9" stroke="#FF4136"/>
<path d="M1001.7,496.1V502.8M1002.4,495.8V500.2" stroke="#3D9970"/>
<path d="M1003.0,495.5V500.0" stroke="#FF4136"/>
<path d="M1003.7,493.7V498.2" stroke="#3D9970"/>
<path d="M1004.4,494.8V498.7" stroke="#FF4136"/>
<path d="M1005.5,483.5V485.5M1006.1,483.3V486.4M1006.8,482.2V488.3M1007.5,483.3V487.3M1008.1,483.0V489.9" stroke="#3D9970"/>
<path d="M1008.8,486.7V489.0M1009.4,484.7V489.3" stroke="#FF4136"/>
<path d="M1010.1,484.2V488.9M1010.8,482.6V488.6M1011.4,478.6V485.5M1012.1,477.5V483.4M1012.7,476.0V481.1" stroke="#3D9970"/>
<path d="M1013.4,475.7V482.4" stroke="#FF4136"/>
<path d="M1014.1,473.3V480.4" stroke="#3D9970"/>
<path d="M1014.7,472.8V478.1M1015.4,470.7V477.3" stroke="#FF4136"/>
<path d="M1016.1,469.6V474.6M1016.7,468.2V473.7" stroke="#3D9970"/>
<path d="M1017.4,468.4V470.8" stroke="#FF4136"/>
<path d="M1018.0,467.3V471.3M1018.7,464.9V471.0M1019.4,465.4V470.7" stroke="#3D9970"/>
<path d="M1020.0,463.3V470.0" stroke="#FF4136"/>
<path d="M1020.7,465.2V470.7" stroke="#3D9970"/>
<path d="M1021.3,464.7V469.4" stroke="#FF4136"/>
<path d="M1022.0,465.5V469.5" stroke="#3D9970"/>
<path d="M1022.7,464.1V470.7" stroke="#FF4136"/>
<path d="M1023.3,465.4V469.5M1024.0,466.5V472.3" stroke="#3D9970"/>
<path d="M1024.7,467.9V474.0M1025.3,469.1V473.6M1026.0,472.0V477.8" stroke="#FF4136"/>
<path d="M1027.1,482.9V487.6M1027.7,485.1V489.6" stroke="#3D9970"/>
<path d="M1028.4,485.6V490.4M1029.1,485.5V494.0M1029.7,489.1V493.6M1030.4,487.8V495.7" stroke="#FF4136"/>
<path d="M1031.1,490.8V494.6" stroke="#3D9970"/>
<path d="M1031.7,490.0V496.3M1032.4,490.3V498.5" stroke="#FF4136"/>
<path d="M1033.0,492.4V498.3M1033.7,493.9V499.8" stroke="#3D9970"/>
<path d="M1034.4,493.3V501.8M1035.0,496.2V501.2M1035.7,496.7V501.3M1036.3,498.8V503.5" stroke="#FF4136"/>
<path d="M1037.0,499.1V506.4" stroke="#3D9970"/>
<path d="M1037.7,500.6V505.2" stroke="#FF4136"/>
<path d="M1038.3,502.9V506.6M1039.0,499.9V507.9" stroke="#3D9970"/>
<path d="M1039.7,496.8V504.1" stroke="#FF4136"/>
<path d="M1040.3,493.3V501.5M1041.0,492.5V497.7M1041.6,492.4V495.2M1042.3,489.8V497.4" stroke="#3D9970"/>
<path d="M1043.0,488.7V494.9" stroke="#FF4136"/>
<path d="M1043.6,489.9V494.1M1044.3,489.1V493.5M1044.9,489.4V494.0" stroke="#3D9970"/>
<path d="M1045.6,488.8V492.8M1046.3,485.6V490.8" stroke="#FF4136"/>
<path d="M1046.9,485.3V491.6" stroke="#3D9970"/>
<path d="M1047.6,483.6V489.1" stroke="#FF4136"/>
<path d="M1048.3,479.4V487.4M1048.9,476.7V484.5M1049.6,475.7V480.8" stroke="#3D9970"/>
<path d="M1050.2,476.3V482.4M1050.9,476.5V483.2M1051.6,480.2V484.8" stroke="#FF4136"/>
<path d="M1052.2,480.3V486.6" stroke="#3D9970"/>
<path d="M1052.9,484.3V489.2M1053.5,485.2V491.0M1054.2,485.3V493.9M1054.9,488.9V495.5M1055.5,492.1V495.9M1056.2,492.5V497.0M1056.9,494.2V498.9M1057.5,492.7V497.0" stroke="#FF4136"/>
<path d="M1058.2,494.2V497.7" stroke="#3D9970"/>
<path d="M1058.8,494.2V498.6" stroke="#FF4136"/>
<path d="M1059.5,491.6V498.6" stroke="#3D9970"/>
<path d="M1060.0,490.3V494.6M1060.7,490.2V498.7M1061.3,495.2V507.4M1062.0,501.5V513.9M1062.6,508.1V518.2M1063.3,513.7V520.9M1064.0,513.4V520.1M1064.6,515.4V519.5" stroke="#FF4136"/>
<path d="M1065.3,514.1V518.2M1066.0,510.6V516.4M1066.6,505.8V514.8M1067.3,504.4V511.4M1067.9,496.1V508.5M1068.6,490.9V500.4" stroke="#3D9970"/>
<path d="M1069.3,489.1V501.7M1069.5,516.7V519.6M1070.2,515.1V526.9M1070.9,522.5V533.4M1071.5,527.8V536.8M1072.2,530.5V537.6" stroke="#FF4136"/>
<path d="M1072.9,534.0V542.9" stroke="#3D9970"/>
<path d="M1073.5,536.7V546.3M1074.2,541.1V553.0M1074.8,548.5V554.4" stroke="#FF4136"/>
<path d="M1075.5,542.1V552.7" stroke="#3D9970"/>
<path d="M1076.2,541.0V553.2M1076.8,546.8V558.8M1077.5,554.6V562.8" stroke="#FF4136"/>
<path d="M1078.2,558.0V567.2" stroke="#3D9970"/>
<path d="M1078.8,562.9V567.2M1079.5,563.2V569.2" stroke="#FF4136"/>
<path d="M1080.1,560.8V567.7M1080.8,557.2V567.3" stroke="#3D9970"/>
<path d="M1081.5,557.7V564.0M1082.1,560.6V570.2M1082.8,566.6V578.1M1083.4,572.2V578.5" stroke="#FF4136"/>
<path d="M1084.1,568.0V576.6" stroke="#3D9970"/>
<path d="M1084.8,563.7V571.0" stroke="#FF4136"/>
<path d="M1085.4,564.2V570.6" stroke="#3D9970"/>
<path d="M1086.1,564.9V574.5" stroke="#FF4136"/>
<path d="M1086.8,566.3V573.5" stroke="#3D9970"/>
<path d="M1087.4,564.4V570.4M1088.1,565.3V572.7M1088.7,569.5V576.1M1089.4,571.6V579.1M1090.1,576.3V584.8M1090.7,580.8V591.8M1091.4,587.5V599.6M1092.0,594.4V611.3M1092.7,607.7V622.0M1093.4,608.8V622.2" stroke="#FF4136"/>
<path d="M1094.0,600.4V611.2M1094.7,593.3V605.7M1095.4,587.1V597.8M1096.0,581.8V590.2M1096.7,576.9V586.9M1097.3,572.5V581.9" stroke="#3D9970"/>
<path d="M1098.0,571.8V575.0M1098.7,572.0V582.8" stroke="#FF4136"/>
<path d="M1099.3,569.9V584.5" stroke="#3D9970"/>
<path d="M1100.0,568.8V574.0M1100.6,568.7V581.2" stroke="#FF4136"/>
<path d="M1101.3,565.6V581.6M1102.0,554.7V569.4M1102.6,546.7V557.0M1103.3,542.9V551.0" stroke="#3D9970"/>
<path d="M1104.0,541.7V548.8M1104.6,542.9V555.2" stroke="#FF4136"/>
<path d="M1105.3,549.2V553.2" stroke="#3D9970"/>
<path d="M1105.9,549.9V553.8" stroke="#FF4136"/>
<path d="M1106.6,547.6V556.0M1107.3,552.7V563.5" stroke="#3D9970"/>
<path d="M1107.9,560.1V569.3M1108.6,564.5V575.3M1109.2,569.7V579.9M1109.9,576.5V586.0" stroke="#FF4136"/>
<path d="M1110.6,579.7V591.3" stroke="#3D9970"/>
<path d="M1111.2,586.8V594.0" stroke="#FF4136"/>
<path d="M1111.8,600.2V604.8" stroke="#3D9970"/>
<path d="M1112.4,600.4V609.9M1113.1,605.6V612.1" stroke="#FF4136"/>
<path d="M1113.8,608.4V613.9M1114.4,610.2V619.9" stroke="#3D9970"/>
<path d="M1115.1,614.1V621.7M1115.7,617.9V629.3M1116.4,622.9V635.4M1117.1,632.4V637.1" stroke="#FF4136"/>
<path d="M1117.7,614.3V634.6M1118.4,613.9V625.1" stroke="#3D9970"/>
<path d="M1119.0,620.6V631.9M1119.7,627.4V636.7M1120.4,632.2V640.3M1121.0,637.1V644.2M1121.7,637.8V651.8" stroke="#FF4136"/>
<path d="M1122.4,637.9V651.2M1123.0,624.3V642.4" stroke="#3D9970"/>
<path d="M1123.7,624.1V628.4M1124.3,624.7V634.7M1125.0,632.2V638.9" stroke="#FF4136"/>
<path d="M1125.7,629.6V638.9" stroke="#3D9970"/>
<path d="M1126.3,624.5V633.9M1127.0,624.2V629.2M1127.6,625.0V632.0" stroke="#FF4136"/>
<path d="M1128.3,625.2V631.5M1129.0,620.2V628.3M1129.6,616.8V625.8" stroke="#3D9970"/>
<path d="M1130.3,615.2V621.0" stroke="#FF4136"/>
<path d="M1131.0,615.5V619.0M1131.6,611.7V617.2" stroke="#3D9970"/>
<path d="M1132.3,610.5V616.6M1132.9,612.4V618.4M1133.6,613.3V620.0M1134.3,614.2V624.6" stroke="#FF4136"/>
<path d="M1134.9,620.4V630.8" stroke="#3D9970"/>
<path d="M1135.6,627.3V637.9M1136.2,631.9V642.6M1136.9,638.0V648.7" stroke="#FF4136"/>
<path d="M1137.6,644.0V652.6" stroke="#3D9970"/>
<path d="M1138.2,648.9V657.1" stroke="#FF4136"/>
<path d="M1138.9,647.1V656.3M1139.6,639.4V652.4M1140.2,635.2V642.0" stroke="#3D9970"/>
<path d="M1140.9,632.4V638.6" stroke="#FF4136"/>
<path d="M1141.5,626.2V636.9M1142.2,623.2V632.2M1142.9,621.7V628.7" stroke="#3D9970"/>
<path d="M1143.5,622.0V631.0M1144.2,626.7V635.7" stroke="#FF4136"/>
<path d="M1144.8,630.7V637.4M1145.5,625.9V634.9M1146.2,625.4V630.9" stroke="#3D9970"/>
<path d="M1146.8,625.1V632.7M1147.5,629.3V637.8M1148.2,634.9V642.1M1148.8,636.2V643.6" stroke="#FF4136"/>
<path d="M1149.5,640.1V647.3" stroke="#3D9970"/>
<path d="M1150.1,644.0V648.3" stroke="#FF4136"/>
<path d="M1150.8,645.6V652.2" stroke="#3D9970"/>
<path d="M1151.5,648.3V656.2M1152.1,652.7V657.1M1152.8,654.4V660.4M1153.4,657.5V663.3" stroke="#FF4136"/>
<path d="M1154.1,654.5V663.3" stroke="#3D9970"/>
<path d="M1154.8,647.7V659.7M1155.4,639.9V652.2" stroke="#FF4136"/>
<path d="M1156.1,635.1V645.1M1156.8,628.6V638.4M1157.4,623.6V633.2M1158.1,622.6V636.0" stroke="#3D9970"/>
<path d="M1158.7,632.8V641.5" stroke="#FF4136"/>
<path d="M1159.4,636.1V640.2M1160.1,632.4V640.4" stroke="#3D9970"/>
<path d="M1160.7,632.7V642.3" stroke="#FF4136"/>
<path d="M1161.4,639.7V646.8" stroke="#3D9970"/>
<path d="M1162.1,642.7V648.0M1162.7,644.2V647.5M1163.4,642.9V648.6M1164.0,644.3V652.3" stroke="#FF4136"/>
<path d="M1164.7,647.9V655.0M1165.4,647.9V653.2" stroke="#3D9970"/>
<path d="M1166.0,643.7V651.8" stroke="#FF4136"/>
<path d="M1166.7,640.5V647.8M1167.3,637.0V644.9M1168.0,635.9V640.5M1168.7,635.7V641.0" stroke="#3D9970"/>
<path d="M1169.3,634.7V642.0M1170.0,639.2V644.0M1170.7,639.6V647.2M1171.3,643.5V649.8M1172.0,646.8V653.0M1172.6,650.7V654.7" stroke="#FF4136"/>
<path d="M1173.3,651.7V656.8M1174.0,647.3V655.6" stroke="#3D9970"/>
<path d="M1174.6,637.7V653.4M1175.3,637.9V648.2M1175.9,644.9V651.7M1176.6,646.4V652.4M1177.3,648.4V657.0" stroke="#FF4136"/>
<path d="M1177.9,651.1V657.2" stroke="#3D9970"/>
<path d="M1178.6,653.4V659.4M1179.3,654.7V658.6" stroke="#FF4136"/>
<path d="M1179.9,649.6V658.7M1180.6,645.7V655.5" stroke="#3D9970"/>
<path d="M1181.2,647.2V654.8M1181.9,650.7V657.4" stroke="#FF4136"/>
<path d="M1182.6,653.2V663.3" stroke="#3D9970"/>
<path d="M1183.2,659.2V665.7M1183.9,654.1V664.6" stroke="#FF4136"/>
<path d="M1184.5,646.5V657.8M1185.2,648.6V651.8M1185.9,648.2V654.5" stroke="#3D9970"/>
<path d="M1186.5,648.5V655.5M1187.2,651.3V660.0M1187.9,655.1V662.2" stroke="#FF4136"/>
<path d="M1188.5,655.3V662.5M1189.2,653.7V660.0" stroke="#3D9970"/>
<path d="M1189.8,655.2V660.9M1190.5,654.8V661.6M1191.2,657.5V663.9M1191.8,661.2V667.6" stroke="#FF4136"/>
<path d="M1192.5,661.9V668.0M1193.1,656.3V666.5M1193.8,654.0V661.8" stroke="#3D9970"/>
<path d="M1194.5,651.6V658.3" stroke="#FF4136"/>
<path d="M1195.1,653.7V657.5" stroke="#3D9970"/>
<path d="M1195.8,652.4V659.3M1196.5,654.9V661.6" stroke="#FF4136"/>
<path d="M1197.1,658.5V662.9" stroke="#3D9970"/>
<path d="M1197.8,659.0V666.1M1198.4,661.9V668.9M1199.1,666.0V670.4M1199.8,665.4V674.1M1200.4,668.9V675.0M1201.1,670.4V675.7M1201.7,672.9V678.5M1202.4,674.5V681.8" stroke="#FF4136"/>
<path d="M1203.1,677.3V683.0" stroke="#3D9970"/>
<path d="M1203.7,678.2V681.9M1204.4,674.1V680.2M1205.1,668.5V680.6" stroke="#FF4136"/>
<path d="M1205.7,666.6V672.2" stroke="#3D9970"/>
<path d="M1206.4,667.6V675.5M1207.0,670.8V678.4M1207.7,672.2V677.7" stroke="#FF4136"/>
<path d="M1208.4,673.1V678.8M1209.0,668.9V675.5M1209.7,668.5V673.1" stroke="#3D9970"/>
<path d="M1210.3,666.2V672.5M1211.0,665.1V669.7M1211.7,664.6V670.4M1212.3,665.6V672.9M1213.0,664.8V672.1" stroke="#FF4136"/>
<path d="M1213.7,660.6V667.6M1214.3,659.1V665.7M1215.0,657.2V662.5" stroke="#3D9970"/>
<path d="M1215.6,656.6V662.9" stroke="#FF4136"/>
<path d="M1216.3,656.1V662.0M1217.0,655.6V660.3" stroke="#3D9970"/>
<path d="M1217.6,651.0V658.5" stroke="#FF4136"/>
<path d="M1218.3,647.2V654.2M1219.0,644.3V650.6M1219.6,638.0V647.6M1220.3,637.8V643.1" stroke="#3D9970"/>
<path d="M1220.9,634.0V641.6" stroke="#FF4136"/>
<path d="M1221.6,633.4V637.5M1222.3,631.6V637.1M1222.9,630.7V635.6" stroke="#3D9970"/>
<path d="M1223.6,628.6V634.4M1224.2,629.7V637.4M1224.9,631.3V639.3M1225.6,635.0V645.0M1226.2,638.6V643.9M1226.9,640.2V647.0M1227.6,643.8V648.2" stroke="#FF4136"/>
<path d="M1228.2,645.6V649.4" stroke="#3D9970"/>
<path d="M1228.9,643.4V651.4M1229.5,647.1V652.8" stroke="#FF4136"/>
<path d="M1230.2,644.3V652.1" stroke="#3D9970"/>
<path d="M1230.9,639.3V646.0M1231.5,638.5V644.9M1232.2,641.7V649.7M1232.8,644.6V652.9M1233.5,648.5V654.1M1234.2,650.7V657.1M1234.8,653.0V656.3M1235.5,654.3V659.6M1236.2,655.4V658.4" stroke="#FF4136"/>
<path d="M1236.8,650.6V659.3M1237.5,652.6V657.9" stroke="#3D9970"/>
<path d="M1238.1,654.7V660.6" stroke="#FF4136"/>
<path d="M1238.8,656.9V660.0M1239.5,653.3V661.4" stroke="#3D9970"/>
<path d="M1240.1,650.8V659.3" stroke="#FF4136"/>
<path d="M1240.8,650.9V657.6M1241.4,652.9V657.3M1242.1,653.0V659.8" stroke="#3D9970"/>
<path d="M1242.8,654.9V661.1" stroke="#FF4136"/>
<path d="M1243.4,655.0V662.6" stroke="#3D9970"/>
<path d="M1244.1,652.8V660.0" stroke="#FF4136"/>
<path d="M1244.8,653.6V656.6M1245.4,653.1V657.3" stroke="#3D9970"/>
<path d="M1246.1,652.7V657.8M1246.7,653.7V659.2" stroke="#FF4136"/>
<path d="M1247.4,655.8V660.6" stroke="#3D9970"/>
<path d="M1248.1,656.3V660.8" stroke="#FF4136"/>
<path d="M1248.7,657.7V662.3" stroke="#3D9970"/>
<path d="M1249.4,657.8V664.0M1250.0,659.8V664.2M1250.7,662.3V667.3M1251.4,665.1V667.4" stroke="#FF4136"/>
<path d="M1252.0,665.1V670.9M1252.7,664.2V670.6M1253.4,661.5V667.3" stroke="#3D9970"/>
<path d="M1254.0,658.3V665.3" stroke="#FF4136"/>
<path d="M1254.7,656.7V663.0" stroke="#3D9970"/>
<path d="M1255.3,656.7V661.8M1256.0,659.5V664.6M1256.7,660.6V667.4" stroke="#FF4136"/>
<path d="M1257.3,664.1V669.0" stroke="#3D9970"/>
<path d="M1258.0,665.0V671.6" stroke="#FF4136"/>
<path d="M1258.6,667.5V671.9" stroke="#3D9970"/>
<path d="M1259.3,667.0V675.3" stroke="#FF4136"/>
<path d="M1260.0,666.8V673.5M1260.6,664.1V670.7M1261.3,660.7V669.4" stroke="#3D9970"/>
<path d="M1262.0,657.5V664.5" stroke="#FF4136"/>
<path d="M1262.6,655.3V661.4M1263.3,652.0V659.3M1263.9,652.3V657.3M1264.6,652.3V658.1" stroke="#3D9970"/>
<path d="M1265.3,654.3V659.9M1265.9,654.3V662.7M1266.6,657.9V666.7M1267.2,660.7V668.2M1267.9,661.8V667.1" stroke="#FF4136"/>
<path d="M1268.6,660.5V667.4M1269.2,657.9V663.9" stroke="#3D9970"/>
<path d="M1269.9,656.6V663.5" stroke="#FF4136"/>
<path d="M1270.6,656.6V662.2M1271.2,656.7V660.1M1271.9,653.9V659.5M1272.5,651.5V657.4M1273.2,647.4V654.5M1273.9,643.5V652.9M1274.5,641.2V648.5" stroke="#3D9970"/>
<path d="M1275.2,642.0V645.5M1275.9,642.5V647.1M1276.5,643.0V651.8M1277.2,645.5V650.5M1277.8,645.7V651.1M1278.5,645.7V650.4M1279.2,645.7V649.0M1279.8,646.0V652.3" stroke="#FF4136"/>
<path d="M1280.5,648.9V654.7M1281.1,645.9V654.5M1281.8,645.7V650.7M1282.5,645.3V651.0M1283.1,645.4V649.3" stroke="#3D9970"/>
<path d="M1283.8,645.1V650.6" stroke="#FF4136"/>
<path d="M1284.5,644.3V648.5" stroke="#3D9970"/>
<path d="M1285.1,642.8V648.4M1285.8,642.2V649.6M1286.4,645.8V648.7" stroke="#FF4136"/>
<path d="M1287.1,643.7V649.0M1287.8,641.7V648.2" stroke="#3D9970"/>
<path d="M1288.4,640.3V647.6" stroke="#FF4136"/>
<path d="M1289.1,641.7V649.8" stroke="#3D9970"/>
<path d="M1289.7,644.7V649.9M1290.4,645.6V652.8M1291.1,648.6V654.1" stroke="#FF4136"/>
<path d="M1291.7,647.8V652.1M1292.4,648.4V653.4M1293.1,648.5V654.3M1293.7,651.6V654.7" stroke="#3D9970"/>
<path d="M1294.4,649.9V657.5M1295.0,655.5V659.7M1295.7,654.4V661.7" stroke="#FF4136"/>
<path d="M1296.4,658.2V663.1" stroke="#3D9970"/>
<path d="M1297.0,658.3V666.6" stroke="#FF4136"/>
<path d="M1297.7,657.4V665.6" stroke="#3D9970"/>
<path d="M1298.3,658.9V661.5" stroke="#FF4136"/>
<path d="M1299.0,653.3V663.1M1299.7,649.9V657.3" stroke="#3D9970"/>
<path d="M1300.3,650.6V656.1" stroke="#FF4136"/>
<path d="M1301.0,648.6V652.5M1301.7,645.6V653.1M1302.3,643.1V649.4M1303.0,641.1V647.8" stroke="#3D9970"/>
<path d="M1303.6,640.6V645.3M1304.3,640.2V644.8M1305.0,639.5V645.5M1305.6,642.2V649.1M1306.3,644.8V648.8M1306.9,644.0V651.0" stroke="#FF4136"/>
<path d="M1307.6,647.2V650.8" stroke="#3D9970"/>
<path d="M1308.3,647.6V653.5M1308.9,648.8V655.2M1309.6,652.8V656.8M1310.3,651.8V659.7M1310.9,654.2V660.6" stroke="#FF4136"/>
<path d="M1311.6,656.7V662.7" stroke="#3D9970"/>
<path d="M1312.2,659.0V665.5M1312.9,660.3V667.5" stroke="#FF4136"/>
<path d="M1313.6,659.2V667.4M1314.2,658.3V664.9" stroke="#3D9970"/>
<path d="M1314.9,656.4V662.8" stroke="#FF4136"/>
<path d="M1315.5,655.9V662.4" stroke="#3D9970"/>
<path d="M1316.2,657.6V660.6" stroke="#FF4136"/>
<path d="M1316.9,656.5V659.8M1317.5,655.0V660.1" stroke="#3D9970"/>
<path d="M1318.2,652.9V659.1" stroke="#FF4136"/>
<path d="M1318.9,649.7V657.0" stroke="#3D9970"/>
<path d="M1319.5,650.0V656.6M1320.2,652.5V661.1" stroke="#FF4136"/>
<path d="M1320.8,656.4V661.4M1321.5,655.2V661.1" stroke="#3D9970"/>
<path d="M1322.2,653.6V660.0M1322.8,652.4V660.0" stroke="#FF4136"/>
<path d="M1323.5,652.0V657.9" stroke="#3D9970"/>
<path d="M1324.1,653.5V668.5M1324.8,663.8V674.1M1325.5,669.5V679.4M1326.1,675.5V681.1M1326.8,678.4V683.0" stroke="#FF4136"/>
<path d="M1327.5,675.7V683.0M1328.1,674.5V680.2M1328.8,673.1V678.4M1329.4,672.9V678.3M1330.1,668.3V676.6M1330.8,666.3V672.6" stroke="#3D9970"/>
<path d="M1331.4,660.3V669.7M1332.1,659.5V666.4M1332.8,658.3V663.0M1333.4,658.7V666.0" stroke="#FF4136"/>
<path d="M1334.1,660.4V664.0" stroke="#3D9970"/>
<path d="M1334.7,660.1V664.8" stroke="#FF4136"/>
<path d="M1335.4,659.7V665.1M1336.1,658.9V662.8M1336.7,657.1V663.6M1337.4,658.4V662.7M1338.0,658.9V665.0" stroke="#3D9970"/>
<path d="M1338.7,659.5V666.3M1339.4,660.0V664.1M1340.0,661.2V669.0M1340.7,664.0V672.7" stroke="#FF4136"/>
<path d="M1341.4,666.0V672.0M1342.0,666.4V671.9M1342.7,661.4V668.7M1343.3,661.8V667.5M1344.0,658.4V667.1" stroke="#3D9970"/>
<path d="M1344.7,659.1V666.3M1345.3,661.6V667.4" stroke="#FF4136"/>
<path d="M1346.0,660.8V667.9M1346.6,659.0V663.4M1347.3,659.4V665.7" stroke="#3D9970"/>
<path d="M1348.0,657.4V664.2M1348.6,660.0V666.8" stroke="#FF4136"/>
<path d="M1349.3,661.1V664.6" stroke="#3D9970"/>
<path d="M1350.0,660.3V665.3M1350.6,662.2V667.4M1351.3,663.1V666.8M1351.9,663.4V668.9M1352.6,665.4V670.8" stroke="#FF4136"/>
<path d="M1353.3,665.3V669.4M1353.9,665.1V671.6M1354.6,667.9V672.6M1355.2,666.0V672.8M1355.9,665.6V670.8" stroke="#3D9970"/>
<path d="M1356.6,665.6V669.7" stroke="#FF4136"/>
<path d="M1357.2,667.4V670.2" stroke="#3D9970"/>
<path d="M1357.9,665.7V671.9" stroke="#FF4136"/>
<path d="M1358.6,667.4V673.1M1359.2,665.7V671.7" stroke="#3D9970"/>
<path d="M1359.9,666.6V672.1" stroke="#FF4136"/>
<path d="M1360.5,666.9V672.6M1361.2,668.0V674.4M1361.9,667.9V672.9M1362.5,667.4V672.4" stroke="#3D9970"/>
<path d="M1363.2,667.2V676.7" stroke="#FF4136"/>
<path d="M1363.8,672.3V676.8M1364.5,670.0V675.4M1365.2,668.1V673.9" stroke="#3D9970"/>
<path d="M1365.8,666.7V673.4M1366.5,667.4V672.0M1367.2,666.6V671.5M1367.8,667.7V673.9" stroke="#FF4136"/>
<path d="M1368.5,669.4V675.2" stroke="#3D9970"/>
<path d="M1369.1,671.4V674.2M1369.8,672.1V677.0M1370.5,672.8V678.0" stroke="#FF4136"/>
<path d="M1371.1,672.5V678.4M1371.8,674.2V678.8" stroke="#3D9970"/>
<path d="M1372.4,673.1V679.1" stroke="#FF4136"/>
<path d="M1373.1,672.1V678.1M1373.8,673.9V676.1" stroke="#3D9970"/>
</g>
<path d="M30,162.5H35M30,217.3H35M30,272.2H35M30,327.0H35M30,381.8H35M30,711.0H35M30,668.2H35M30,625.3H35M30,582.5H35M30,539.7H35M30,496.8H35M30,454.0H35" stroke="#444" stroke-width="1" fill="none"/>
<g font-size="12" fill="#2a3f5f">
<text x="29.3" y="166.7" text-anchor="end">300</text>
<text x="29.3" y="221.5" text-anchor="end">200</text>
<text x="29.3" y="276.4" text-anchor="end">100</text>
<text x="29.3" y="331.2" text-anchor="end">0</text>
<text x="29.3" y="386.0" text-anchor="end">−100</text>
<text x="29.3" y="715.2" text-anchor="end">120</text>
<text x="29.3" y="672.4" text-anchor="end">130</text>
<text x="29.3" y="629.5" text-anchor="end">140</text>
<text x="29.3" y="586.7" text-anchor="end">150</text>
<text x="29.3" y="543.9" text-anchor="end">160</text>
<text x="29.3" y="501.0" text-anchor="end">170</text>
<text x="29.3" y="458.2" text-anchor="end">180</text>
<text x="29.6" y="739" text-anchor="middle">Jan-01</text>
<text x="200.2" y="739" text-anchor="middle">Jan-01</text>
<text x="370.9" y="739" text-anchor="middle">Jan-01</text>
<text x="541.5" y="739" text-anchor="middle">Jan-01</text>
<text x="712.1" y="739" text-anchor="middle">Jan-01</text>
<text x="882.8" y="739" text-anchor="middle">Jan-01</text>
<text x="1053.4" y="739" text-anchor="middle">Jan-01</text>
<text x="1224.0" y="739" text-anchor="middle">Jan-01</text>
</g>
<text x="709" y="129.7" font-size="9" fill="#3498db" text-anchor="middle">Long Positions</text>
<text x="709.6" y="250" font-size="9" fill="#333" text-anchor="middle">Net Positions</text>
<text x="709" y="419" font-size="9" fill="#f39c12" text-anchor="middle">Short Positions</text>
<text x="709" y="119.8" font-size="14" font-weight="bold" fill="#2a3f5f" text-anchor="middle">Positions Index</text>
<rect x="583" y="94" width="253" height="17" fill="#fff"/>
<text x="709.3" y="108.9" font-size="14" fill="#2a3f5f" text-anchor="middle">FGBLZ25 - Price with Indicators Signals</text>
<text x="705.1" y="75.2" font-size="22" fill="#000" text-anchor="middle"><tspan font-weight="bold">10Y Bund</tspan>: Positioning Index - Longs and Shorts Evolution</text>
</svg>
</body></html>
